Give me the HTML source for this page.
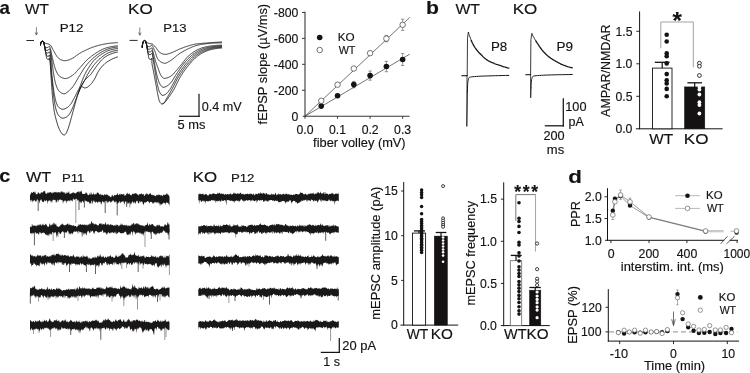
<!DOCTYPE html>
<html lang="en">
<head>
<meta charset="utf-8">
<title>Figure</title>
<style>
html,body{margin:0;padding:0;background:#fff;}
body{width:750px;height:373px;overflow:hidden;}
svg{display:block;font-family:"Liberation Sans",sans-serif;}
svg text{stroke:#151213;stroke-width:0.15px;}
</style>
</head>
<body>
<svg width="750" height="373" viewBox="0 0 750 373">
<rect x="0" y="0" width="750" height="373" fill="#ffffff"/>
<g id="panel-a">
<text x="-0.56" y="13.70" font-size="18.5" font-weight="bold" textLength="10.40" lengthAdjust="spacingAndGlyphs" fill="#151213">a</text>
<text x="24.92" y="13.70" font-size="15" textLength="23.98" lengthAdjust="spacingAndGlyphs" fill="#151213">WT</text>
<text x="59.73" y="31.60" font-size="11.5" textLength="23.72" lengthAdjust="spacingAndGlyphs" fill="#151213">P12</text>
<text x="128.13" y="13.80" font-size="15" textLength="24.72" lengthAdjust="spacingAndGlyphs" fill="#151213">KO</text>
<text x="163.35" y="31.80" font-size="11.5" textLength="23.26" lengthAdjust="spacingAndGlyphs" fill="#151213">P13</text>
<line x1="36.40" y1="27.20" x2="36.40" y2="35.00" stroke="#333" stroke-width="0.6" stroke-linecap="butt"/>
<path d="M35.30,32.70 L36.40,35.00 L37.50,32.70" fill="none" stroke="#333" stroke-width="0.6" stroke-linejoin="round" stroke-linecap="round"/>
<line x1="139.80" y1="27.50" x2="139.80" y2="35.20" stroke="#333" stroke-width="0.6" stroke-linecap="butt"/>
<path d="M138.70,32.90 L139.80,35.20 L140.90,32.90" fill="none" stroke="#333" stroke-width="0.6" stroke-linejoin="round" stroke-linecap="round"/>
<line x1="26.40" y1="40.50" x2="34.00" y2="40.50" stroke="#151213" stroke-width="0.9" stroke-linecap="butt"/>
<line x1="129.50" y1="40.40" x2="137.60" y2="40.40" stroke="#151213" stroke-width="0.9" stroke-linecap="butt"/>
<path d="M40.5,44.8 L40.5,44.4 L40.6,44.0 L40.6,43.6 L40.7,43.3 L40.8,43.0 L40.9,42.7 L41.0,42.4 L41.2,42.1 L41.5,41.8 L41.8,41.5 L42.1,41.4 L42.4,41.3 L42.7,41.4 L43.0,41.6 L43.3,41.9 L43.6,42.2 L43.9,42.4 L44.1,42.6 L44.4,42.8 L44.7,43.0 L45.0,43.2 L45.4,43.3 L45.7,43.4 L46.0,43.5 L46.4,43.5 L46.7,43.6 L47.1,43.7 L47.4,43.7 L47.8,43.8 L48.1,43.9 L48.5,44.1 L48.8,44.2 L49.2,44.3 L49.5,44.5 L49.8,44.7 L50.0,44.8 L50.3,45.0 L50.5,45.3 L50.7,45.5 L50.9,45.8 L51.1,46.1 L51.3,46.4 L51.5,46.7 L51.7,47.0 L51.8,47.3 L52.0,47.7 L52.2,48.0 L52.3,48.4 L52.5,48.7 L52.7,49.0 L52.8,49.4 L53.0,49.7 L53.2,50.0 L53.4,50.3 L53.6,50.6 L53.7,50.9 L53.9,51.2 L54.1,51.6 L54.2,51.9 L54.4,52.2 L54.6,52.5 L54.8,52.8 L54.9,53.2 L55.1,53.5 L55.3,53.8 L55.4,54.1 L55.6,54.4 L55.8,54.7 L56.0,55.0 L56.2,55.3 L56.4,55.6 L56.5,55.9 L56.7,56.2 L57.0,56.5 L57.2,56.7 L57.4,57.0 L57.6,57.2 L57.9,57.5 L58.1,57.8 L58.4,58.0 L58.7,58.3 L58.9,58.5 L59.2,58.7 L59.5,58.9 L59.8,59.2 L60.1,59.4 L60.4,59.5 L60.7,59.7 L61.0,59.8 L61.4,59.9 L61.7,60.1 L62.0,60.2 L62.4,60.3 L62.7,60.4 L63.1,60.5 L63.4,60.6 L63.8,60.6 L64.1,60.7 L64.5,60.7 L64.8,60.7 L65.2,60.7 L65.5,60.6 L65.9,60.6 L66.2,60.5 L66.6,60.5 L66.9,60.4 L67.3,60.3 L67.6,60.2 L68.0,60.2 L68.3,60.1 L68.7,60.0 L69.0,59.9 L69.3,59.8 L69.7,59.6 L70.0,59.5 L70.3,59.3 L70.6,59.2 L71.0,59.0 L71.3,58.9 L71.6,58.7 L71.9,58.5 L72.2,58.4 L72.5,58.2 L72.9,58.1 L73.2,57.9 L73.5,57.7 L73.8,57.5 L74.1,57.3 L74.3,57.1 L74.6,56.9 L74.9,56.7 L75.2,56.5 L75.5,56.3 L75.8,56.1 L76.1,55.9 L76.4,55.6 L76.6,55.4 L76.9,55.2 L77.2,55.0 L77.5,54.8 L77.8,54.6 L78.1,54.4 L78.4,54.2 L78.7,54.0 L79.0,53.8 L79.3,53.6 L79.6,53.4 L79.9,53.2 L80.2,53.0 L80.5,52.9 L80.8,52.7 L81.1,52.5 L81.4,52.3 L81.7,52.2 L82.0,52.0 L82.3,51.8 L82.7,51.7 L83.0,51.5 L83.3,51.4 L83.6,51.2 L83.9,51.0 L84.3,50.9 L84.6,50.7 L84.9,50.6 L85.2,50.4 L85.5,50.3 L85.9,50.1 L86.2,50.0 L86.5,49.8 L86.8,49.7 L87.1,49.5 L87.5,49.4 L87.8,49.2 L88.1,49.1 L88.4,49.0 L88.8,48.8 L89.1,48.7 L89.4,48.5 L89.8,48.4 L90.1,48.3 L90.4,48.1 L90.7,48.0 L91.1,47.9 L91.4,47.7 L91.7,47.6 L92.1,47.5 L92.4,47.3 L92.7,47.2 L93.1,47.1 L93.4,47.0 L93.7,46.9 L94.1,46.7 L94.4,46.6 L94.7,46.5 L95.1,46.4 L95.4,46.3 L95.7,46.2 L96.1,46.1 L96.4,46.0 L96.8,45.9 L97.1,45.8 L97.4,45.7 L97.8,45.6 L98.1,45.5 L98.5,45.4 L98.8,45.4 L99.2,45.3 L99.5,45.2 L99.9,45.1 L100.2,45.0 L100.5,44.9 L100.9,44.8 L101.2,44.8 L101.6,44.7 L101.9,44.6 L102.3,44.5 L102.6,44.5 L103.0,44.4 L103.3,44.3 L103.7,44.2 L104.0,44.2 L104.4,44.1 L104.7,44.0 L105.1,44.0 L105.4,43.9 L105.8,43.8 L106.1,43.8 L106.5,43.7 L106.8,43.6 L107.2,43.6 L107.5,43.5 L107.9,43.5 L108.2,43.4 L108.6,43.4 L108.9,43.3 L109.3,43.3 L109.6,43.3 L110.0,43.2 L110.3,43.2 L110.7,43.1 L111.0,43.1 L111.4,43.1 L111.7,43.0 L112.1,43.0 L112.4,43.0 L112.8,43.0 L113.1,42.9 L113.5,42.9 L113.8,42.9 L114.2,42.8 L114.6,42.8 L114.9,42.8 L115.3,42.8 L115.6,42.8 L116.0,42.7 L116.3,42.7 L116.7,42.7 L117.0,42.7 L117.4,42.7" fill="none" stroke="#1a1718" stroke-width="0.9" stroke-linejoin="round" stroke-linecap="round"/>
<path d="M40.5,44.8 L40.5,44.3 L40.6,43.8 L40.7,43.4 L40.8,43.0 L40.9,42.6 L41.1,42.2 L41.5,41.8 L41.9,41.5 L42.3,41.3 L42.6,41.4 L43.1,41.6 L43.4,42.0 L43.7,42.3 L43.8,42.7 L43.9,43.1 L44.0,43.6 L44.1,44.0 L44.2,44.5 L44.3,45.0 L44.5,45.4 L44.6,45.8 L44.7,46.3 L44.9,46.7 L45.1,47.2 L45.4,47.5 L45.8,47.6 L46.2,47.6 L46.7,47.6 L47.2,47.6 L47.6,47.5 L48.0,47.3 L48.4,46.9 L48.8,46.6 L49.2,46.3 L49.4,46.3 L49.6,46.5 L49.8,46.9 L50.0,47.4 L50.1,48.0 L50.3,48.5 L50.4,49.0 L50.5,49.4 L50.6,49.9 L50.8,50.3 L50.9,50.7 L51.0,51.2 L51.1,51.6 L51.2,52.0 L51.3,52.5 L51.3,52.9 L51.4,53.4 L51.5,53.8 L51.6,54.3 L51.7,54.7 L51.8,55.1 L51.9,55.6 L52.0,56.0 L52.1,56.5 L52.2,56.9 L52.3,57.4 L52.4,57.8 L52.5,58.2 L52.6,58.7 L52.7,59.1 L52.8,59.6 L52.9,60.0 L53.0,60.5 L53.1,60.9 L53.2,61.4 L53.3,61.8 L53.4,62.2 L53.5,62.7 L53.6,63.1 L53.7,63.6 L53.9,64.0 L54.0,64.4 L54.1,64.9 L54.2,65.3 L54.3,65.7 L54.4,66.2 L54.6,66.6 L54.7,67.0 L54.8,67.4 L55.0,67.9 L55.1,68.3 L55.3,68.7 L55.4,69.1 L55.6,69.6 L55.8,70.0 L55.9,70.4 L56.1,70.9 L56.3,71.3 L56.5,71.8 L56.7,72.2 L56.9,72.7 L57.1,73.1 L57.4,73.5 L57.6,73.9 L57.8,74.3 L58.1,74.6 L58.3,75.0 L58.6,75.3 L58.9,75.6 L59.2,75.9 L59.5,76.1 L59.8,76.4 L60.1,76.6 L60.5,76.9 L60.9,77.1 L61.3,77.4 L61.8,77.6 L62.2,77.8 L62.7,78.0 L63.1,78.2 L63.6,78.3 L64.0,78.5 L64.5,78.5 L64.9,78.6 L65.3,78.6 L65.7,78.6 L66.2,78.5 L66.6,78.4 L67.0,78.3 L67.4,78.2 L67.9,78.0 L68.3,77.8 L68.7,77.6 L69.1,77.4 L69.6,77.2 L70.0,76.9 L70.4,76.7 L70.8,76.4 L71.2,76.2 L71.6,75.9 L72.0,75.7 L72.3,75.4 L72.7,75.2 L73.0,75.0 L73.4,74.7 L73.7,74.4 L74.1,74.1 L74.4,73.8 L74.7,73.5 L75.0,73.2 L75.4,72.9 L75.7,72.6 L76.0,72.2 L76.3,71.9 L76.6,71.5 L76.9,71.2 L77.2,70.8 L77.5,70.5 L77.8,70.1 L78.1,69.8 L78.4,69.4 L78.7,69.1 L79.0,68.7 L79.3,68.4 L79.6,68.1 L79.9,67.7 L80.3,67.4 L80.6,67.1 L80.9,66.7 L81.2,66.4 L81.5,66.1 L81.8,65.7 L82.1,65.4 L82.4,65.0 L82.6,64.7 L82.9,64.3 L83.2,64.0 L83.5,63.7 L83.8,63.3 L84.1,63.0 L84.4,62.6 L84.7,62.3 L85.0,62.0 L85.4,61.6 L85.7,61.3 L86.0,61.0 L86.3,60.7 L86.6,60.4 L86.9,60.1 L87.3,59.8 L87.6,59.4 L87.9,59.1 L88.3,58.8 L88.6,58.6 L88.9,58.3 L89.3,58.0 L89.6,57.7 L90.0,57.4 L90.3,57.1 L90.7,56.8 L91.0,56.5 L91.4,56.3 L91.8,56.0 L92.1,55.7 L92.5,55.4 L92.9,55.2 L93.2,54.9 L93.6,54.6 L94.0,54.4 L94.3,54.1 L94.7,53.9 L95.1,53.6 L95.4,53.4 L95.8,53.1 L96.2,52.9 L96.6,52.6 L97.0,52.4 L97.3,52.1 L97.7,51.9 L98.1,51.6 L98.5,51.4 L98.9,51.2 L99.3,50.9 L99.7,50.7 L100.1,50.5 L100.5,50.3 L100.9,50.1 L101.3,49.9 L101.7,49.7 L102.1,49.5 L102.5,49.3 L102.9,49.2 L103.3,49.0 L103.7,48.8 L104.2,48.7 L104.6,48.5 L105.0,48.3 L105.4,48.2 L105.9,48.0 L106.3,47.9 L106.7,47.7 L107.2,47.6 L107.6,47.5 L108.0,47.4 L108.5,47.3 L108.9,47.2 L109.4,47.1 L109.8,47.0 L110.2,46.9 L110.7,46.8 L111.1,46.7 L111.6,46.6 L112.0,46.6 L112.4,46.5 L112.9,46.4 L113.3,46.3 L113.8,46.3 L114.2,46.2 L114.7,46.1 L115.1,46.1 L115.6,46.0 L116.0,46.0 L116.5,46.0 L116.9,45.9 L117.4,45.9" fill="none" stroke="#1a1718" stroke-width="0.9" stroke-linejoin="round" stroke-linecap="round"/>
<path d="M40.5,44.8 L40.5,44.2 L40.6,43.6 L40.7,43.1 L40.9,42.6 L41.1,42.2 L41.6,41.7 L42.1,41.4 L42.5,41.3 L43.0,41.6 L43.4,42.0 L43.7,42.4 L43.9,42.9 L44.0,43.4 L44.1,44.0 L44.3,44.5 L44.4,45.1 L44.5,45.6 L44.6,46.2 L44.6,46.7 L44.7,47.2 L44.8,47.8 L45.0,48.3 L45.1,48.8 L45.3,49.3 L45.6,49.9 L46.0,50.3 L46.4,50.3 L47.0,50.3 L47.6,50.3 L48.1,50.2 L48.5,49.7 L49.0,49.2 L49.3,49.0 L49.6,49.1 L49.8,49.5 L50.1,50.1 L50.3,50.7 L50.5,51.4 L50.6,52.0 L50.7,52.5 L50.8,53.0 L50.9,53.6 L51.0,54.1 L51.1,54.6 L51.2,55.2 L51.3,55.7 L51.3,56.2 L51.4,56.8 L51.4,57.3 L51.5,57.9 L51.6,58.4 L51.6,59.0 L51.7,59.5 L51.8,60.1 L51.8,60.6 L51.9,61.1 L52.0,61.7 L52.0,62.2 L52.1,62.8 L52.2,63.3 L52.3,63.8 L52.3,64.4 L52.4,64.9 L52.5,65.5 L52.5,66.0 L52.6,66.5 L52.7,67.1 L52.8,67.6 L52.8,68.2 L52.9,68.7 L53.0,69.2 L53.0,69.8 L53.1,70.3 L53.2,70.9 L53.3,71.4 L53.3,71.9 L53.4,72.5 L53.5,73.0 L53.6,73.5 L53.7,74.1 L53.8,74.6 L53.9,75.1 L53.9,75.7 L54.0,76.2 L54.1,76.8 L54.2,77.3 L54.3,77.8 L54.4,78.4 L54.5,78.9 L54.6,79.5 L54.7,80.0 L54.8,80.5 L55.0,81.1 L55.1,81.6 L55.2,82.1 L55.3,82.7 L55.5,83.2 L55.6,83.7 L55.8,84.2 L55.9,84.7 L56.1,85.2 L56.3,85.7 L56.5,86.3 L56.7,86.8 L56.9,87.3 L57.1,87.9 L57.4,88.4 L57.6,88.9 L57.9,89.4 L58.2,89.9 L58.5,90.3 L58.8,90.8 L59.1,91.1 L59.5,91.5 L59.8,91.8 L60.2,92.1 L60.7,92.4 L61.2,92.8 L61.7,93.0 L62.3,93.3 L62.8,93.5 L63.3,93.7 L63.8,93.8 L64.3,93.8 L64.8,93.7 L65.3,93.5 L65.8,93.3 L66.3,92.9 L66.7,92.6 L67.2,92.2 L67.6,91.9 L68.1,91.5 L68.5,91.2 L68.9,90.9 L69.3,90.5 L69.7,90.1 L70.1,89.7 L70.5,89.4 L70.9,89.0 L71.3,88.5 L71.6,88.1 L72.0,87.7 L72.3,87.3 L72.6,86.9 L73.0,86.5 L73.3,86.0 L73.6,85.6 L73.9,85.1 L74.2,84.7 L74.5,84.2 L74.8,83.8 L75.1,83.3 L75.4,82.9 L75.6,82.4 L75.9,81.9 L76.2,81.4 L76.5,81.0 L76.7,80.5 L77.0,80.0 L77.3,79.5 L77.5,79.0 L77.8,78.6 L78.1,78.1 L78.3,77.6 L78.6,77.1 L78.9,76.7 L79.2,76.2 L79.5,75.7 L79.8,75.3 L80.1,74.8 L80.4,74.4 L80.6,73.9 L80.9,73.4 L81.2,73.0 L81.5,72.5 L81.8,72.0 L82.1,71.6 L82.4,71.1 L82.7,70.6 L83.0,70.2 L83.2,69.7 L83.5,69.3 L83.8,68.8 L84.1,68.3 L84.4,67.9 L84.7,67.4 L85.1,67.0 L85.4,66.6 L85.7,66.1 L86.0,65.7 L86.3,65.3 L86.7,64.8 L87.0,64.4 L87.3,64.0 L87.7,63.6 L88.1,63.2 L88.4,62.8 L88.8,62.4 L89.2,62.0 L89.5,61.6 L89.9,61.2 L90.3,60.8 L90.7,60.4 L91.1,60.0 L91.5,59.7 L91.9,59.3 L92.3,58.9 L92.7,58.6 L93.1,58.2 L93.5,57.8 L93.9,57.5 L94.3,57.1 L94.8,56.8 L95.2,56.4 L95.6,56.1 L96.0,55.8 L96.5,55.4 L96.9,55.1 L97.3,54.8 L97.8,54.4 L98.2,54.1 L98.7,53.8 L99.1,53.5 L99.6,53.2 L100.0,52.9 L100.5,52.6 L101.0,52.3 L101.4,52.1 L101.9,51.8 L102.4,51.5 L102.8,51.3 L103.3,51.0 L103.8,50.8 L104.3,50.5 L104.8,50.3 L105.3,50.1 L105.8,49.8 L106.3,49.6 L106.8,49.4 L107.3,49.2 L107.8,49.0 L108.3,48.9 L108.9,48.7 L109.4,48.6 L109.9,48.4 L110.4,48.3 L110.9,48.2 L111.5,48.0 L112.0,47.9 L112.5,47.8 L113.0,47.7 L113.6,47.6 L114.1,47.5 L114.7,47.4 L115.2,47.3 L115.7,47.3 L116.3,47.2 L116.8,47.1 L117.4,47.1" fill="none" stroke="#1a1718" stroke-width="0.9" stroke-linejoin="round" stroke-linecap="round"/>
<path d="M40.5,44.8 L40.5,44.1 L40.7,43.4 L40.8,42.8 L41.1,42.3 L41.5,41.7 L42.1,41.4 L42.7,41.4 L43.3,41.8 L43.6,42.3 L43.9,42.8 L44.0,43.5 L44.2,44.1 L44.3,44.8 L44.4,45.4 L44.6,46.1 L44.7,46.7 L44.8,47.4 L44.9,48.0 L45.0,48.6 L45.1,49.3 L45.2,49.9 L45.3,50.5 L45.5,51.2 L45.7,51.8 L46.0,52.4 L46.4,53.0 L47.0,53.0 L47.7,53.0 L48.3,53.0 L48.8,52.4 L49.2,51.8 L49.4,51.8 L49.7,52.1 L49.9,52.7 L50.1,53.4 L50.2,54.2 L50.4,55.0 L50.5,55.8 L50.6,56.4 L50.6,57.1 L50.7,57.7 L50.8,58.3 L50.8,59.0 L50.9,59.6 L50.9,60.3 L51.0,60.9 L51.0,61.6 L51.0,62.2 L51.1,62.9 L51.1,63.5 L51.1,64.2 L51.2,64.8 L51.2,65.5 L51.2,66.1 L51.3,66.8 L51.3,67.4 L51.4,68.1 L51.4,68.7 L51.4,69.3 L51.5,70.0 L51.6,70.6 L51.6,71.3 L51.7,71.9 L51.7,72.6 L51.8,73.2 L51.8,73.9 L51.9,74.5 L51.9,75.2 L52.0,75.8 L52.1,76.4 L52.1,77.1 L52.2,77.7 L52.3,78.4 L52.3,79.0 L52.4,79.7 L52.5,80.3 L52.5,81.0 L52.6,81.6 L52.7,82.2 L52.7,82.9 L52.8,83.5 L52.9,84.2 L53.0,84.8 L53.1,85.5 L53.1,86.1 L53.2,86.7 L53.3,87.4 L53.4,88.0 L53.5,88.7 L53.6,89.3 L53.6,90.0 L53.7,90.6 L53.8,91.3 L53.9,91.9 L54.0,92.6 L54.1,93.2 L54.2,93.8 L54.3,94.5 L54.5,95.1 L54.6,95.8 L54.7,96.4 L54.8,97.0 L55.0,97.7 L55.1,98.3 L55.2,98.9 L55.4,99.5 L55.5,100.1 L55.7,100.8 L55.9,101.4 L56.1,102.1 L56.3,102.7 L56.5,103.4 L56.8,104.0 L57.1,104.7 L57.3,105.3 L57.6,105.8 L58.0,106.3 L58.3,106.8 L58.7,107.2 L59.1,107.6 L59.7,108.0 L60.3,108.4 L60.9,108.8 L61.5,109.1 L62.1,109.2 L62.7,109.3 L63.4,109.2 L64.0,109.1 L64.6,108.9 L65.2,108.6 L65.9,108.3 L66.4,108.0 L67.0,107.7 L67.5,107.4 L68.0,107.0 L68.5,106.5 L69.0,106.1 L69.5,105.6 L69.9,105.1 L70.3,104.6 L70.7,104.1 L71.1,103.6 L71.4,103.1 L71.8,102.5 L72.1,102.0 L72.4,101.4 L72.7,100.8 L73.0,100.2 L73.3,99.7 L73.7,99.1 L74.0,98.5 L74.3,97.9 L74.6,97.4 L74.9,96.8 L75.2,96.2 L75.5,95.6 L75.8,95.1 L76.1,94.5 L76.4,93.9 L76.7,93.3 L76.9,92.7 L77.2,92.2 L77.5,91.6 L77.8,91.0 L78.1,90.4 L78.4,89.8 L78.7,89.3 L79.0,88.7 L79.3,88.1 L79.5,87.5 L79.8,86.9 L80.1,86.4 L80.3,85.8 L80.5,85.1 L80.8,84.5 L81.0,83.9 L81.2,83.3 L81.4,82.7 L81.7,82.1 L81.9,81.5 L82.1,80.9 L82.3,80.3 L82.6,79.7 L82.8,79.1 L83.0,78.5 L83.3,77.9 L83.5,77.3 L83.8,76.7 L84.1,76.1 L84.3,75.5 L84.6,74.9 L84.9,74.3 L85.2,73.7 L85.5,73.2 L85.8,72.6 L86.1,72.0 L86.4,71.4 L86.7,70.9 L87.0,70.3 L87.4,69.8 L87.7,69.2 L88.0,68.7 L88.4,68.1 L88.7,67.6 L89.1,67.0 L89.4,66.5 L89.8,65.9 L90.1,65.4 L90.5,64.8 L90.9,64.3 L91.3,63.8 L91.7,63.2 L92.1,62.7 L92.5,62.2 L92.9,61.7 L93.3,61.2 L93.7,60.7 L94.1,60.3 L94.6,59.8 L95.0,59.4 L95.5,58.9 L96.0,58.5 L96.4,58.0 L96.9,57.6 L97.4,57.2 L97.9,56.8 L98.5,56.4 L99.0,56.0 L99.5,55.6 L100.1,55.2 L100.6,54.9 L101.1,54.5 L101.7,54.1 L102.2,53.8 L102.8,53.5 L103.3,53.1 L103.9,52.8 L104.4,52.5 L105.0,52.1 L105.6,51.8 L106.2,51.5 L106.8,51.2 L107.4,51.0 L108.0,50.7 L108.6,50.5 L109.2,50.3 L109.8,50.1 L110.4,50.0 L111.0,49.8 L111.6,49.6 L112.2,49.5 L112.9,49.3 L113.5,49.2 L114.1,49.0 L114.8,48.9 L115.4,48.8 L116.1,48.7 L116.7,48.7 L117.4,48.6" fill="none" stroke="#1a1718" stroke-width="0.9" stroke-linejoin="round" stroke-linecap="round"/>
<path d="M40.5,44.8 L40.5,44.0 L40.7,43.3 L40.9,42.7 L41.2,42.1 L41.8,41.6 L42.4,41.3 L43.0,41.6 L43.5,42.1 L43.8,42.7 L44.0,43.3 L44.2,44.1 L44.3,44.8 L44.4,45.5 L44.6,46.2 L44.7,46.8 L44.8,47.5 L44.9,48.2 L45.0,48.9 L45.2,49.6 L45.3,50.3 L45.4,51.0 L45.5,51.7 L45.6,52.4 L45.8,53.1 L45.9,53.8 L46.1,54.4 L46.3,55.1 L46.7,55.8 L47.2,56.2 L47.9,56.2 L48.6,56.2 L49.0,55.8 L49.2,55.0 L49.4,55.0 L49.6,55.4 L49.8,56.0 L49.9,56.8 L50.0,57.7 L50.1,58.6 L50.2,59.4 L50.3,60.2 L50.4,60.9 L50.5,61.6 L50.5,62.3 L50.6,63.0 L50.6,63.7 L50.7,64.4 L50.7,65.1 L50.8,65.8 L50.8,66.5 L50.9,67.2 L50.9,67.9 L51.0,68.6 L51.0,69.3 L51.0,69.9 L51.1,70.6 L51.1,71.3 L51.2,72.0 L51.3,72.7 L51.3,73.4 L51.4,74.1 L51.5,74.8 L51.5,75.5 L51.6,76.2 L51.7,76.9 L51.7,77.6 L51.8,78.3 L51.9,79.0 L51.9,79.7 L52.0,80.4 L52.1,81.1 L52.2,81.8 L52.2,82.5 L52.3,83.2 L52.4,83.9 L52.5,84.6 L52.5,85.3 L52.6,86.0 L52.7,86.7 L52.8,87.4 L52.8,88.1 L52.9,88.8 L53.0,89.5 L53.0,90.2 L53.1,90.9 L53.2,91.6 L53.3,92.3 L53.3,93.0 L53.4,93.7 L53.5,94.4 L53.6,95.1 L53.6,95.8 L53.7,96.4 L53.8,97.1 L53.9,97.8 L54.0,98.5 L54.1,99.2 L54.2,99.9 L54.3,100.6 L54.4,101.3 L54.5,102.0 L54.6,102.7 L54.7,103.4 L54.8,104.0 L54.9,104.7 L55.1,105.4 L55.2,106.1 L55.4,106.8 L55.5,107.5 L55.7,108.2 L55.9,109.0 L56.1,109.7 L56.3,110.4 L56.5,111.1 L56.7,111.7 L57.0,112.4 L57.2,113.0 L57.5,113.6 L57.8,114.2 L58.1,114.7 L58.5,115.2 L59.0,115.8 L59.5,116.4 L60.1,116.9 L60.7,117.4 L61.3,117.8 L62.0,118.1 L62.6,118.2 L63.2,118.2 L63.9,118.0 L64.6,117.8 L65.3,117.6 L65.9,117.3 L66.5,117.0 L67.1,116.6 L67.7,116.1 L68.2,115.6 L68.7,115.1 L69.1,114.6 L69.5,114.1 L69.9,113.5 L70.2,112.9 L70.6,112.2 L70.9,111.6 L71.2,111.0 L71.5,110.3 L71.8,109.7 L72.1,109.0 L72.4,108.4 L72.7,107.8 L73.0,107.1 L73.2,106.5 L73.5,105.8 L73.7,105.2 L74.0,104.5 L74.2,103.8 L74.5,103.2 L74.7,102.5 L74.9,101.9 L75.2,101.2 L75.4,100.6 L75.7,99.9 L75.9,99.2 L76.2,98.6 L76.4,97.9 L76.6,97.3 L76.9,96.6 L77.1,96.0 L77.3,95.3 L77.6,94.6 L77.8,94.0 L78.1,93.3 L78.4,92.7 L78.7,92.1 L78.9,91.4 L79.2,90.8 L79.5,90.2 L79.8,89.5 L80.1,88.9 L80.5,88.3 L80.8,87.6 L81.1,87.0 L81.4,86.4 L81.7,85.8 L82.1,85.2 L82.4,84.5 L82.7,83.9 L83.0,83.3 L83.4,82.7 L83.7,82.1 L84.0,81.4 L84.4,80.8 L84.7,80.2 L85.0,79.6 L85.3,79.0 L85.7,78.3 L86.0,77.7 L86.3,77.1 L86.6,76.5 L87.0,75.9 L87.3,75.2 L87.6,74.6 L88.0,74.0 L88.3,73.4 L88.6,72.8 L89.0,72.2 L89.4,71.6 L89.7,71.0 L90.1,70.4 L90.5,69.8 L90.9,69.2 L91.3,68.7 L91.7,68.1 L92.1,67.5 L92.5,66.9 L92.9,66.4 L93.3,65.8 L93.7,65.2 L94.2,64.7 L94.6,64.2 L95.1,63.6 L95.5,63.1 L96.0,62.6 L96.5,62.1 L96.9,61.6 L97.4,61.0 L97.9,60.5 L98.4,60.0 L98.9,59.5 L99.4,59.1 L100.0,58.6 L100.5,58.1 L101.0,57.7 L101.6,57.3 L102.1,56.8 L102.7,56.4 L103.2,56.0 L103.8,55.6 L104.4,55.2 L105.0,54.8 L105.6,54.4 L106.2,54.0 L106.8,53.7 L107.4,53.3 L108.0,53.0 L108.7,52.7 L109.3,52.5 L109.9,52.2 L110.6,52.0 L111.2,51.8 L111.9,51.6 L112.5,51.3 L113.2,51.2 L113.9,51.0 L114.6,50.8 L115.3,50.7 L116.0,50.5 L116.7,50.4 L117.4,50.3" fill="none" stroke="#1a1718" stroke-width="0.9" stroke-linejoin="round" stroke-linecap="round"/>
<path d="M40.5,44.8 L40.6,43.9 L40.7,43.1 L41.0,42.4 L41.5,41.7 L42.3,41.3 L43.0,41.5 L43.6,42.2 L43.9,42.8 L44.1,43.6 L44.2,44.5 L44.4,45.3 L44.6,46.1 L44.7,46.9 L44.8,47.7 L45.0,48.5 L45.1,49.3 L45.2,50.1 L45.4,50.9 L45.5,51.7 L45.7,52.5 L45.8,53.3 L45.9,54.1 L46.1,54.9 L46.2,55.7 L46.3,56.5 L46.5,57.3 L46.7,58.0 L47.1,58.8 L47.7,59.4 L48.6,59.4 L49.3,59.4 L49.3,58.6 L49.3,58.1 L49.4,58.6 L49.6,59.4 L49.8,60.5 L49.9,61.5 L50.0,62.3 L50.1,63.1 L50.2,63.9 L50.3,64.8 L50.3,65.6 L50.4,66.4 L50.5,67.2 L50.5,68.0 L50.6,68.8 L50.6,69.6 L50.7,70.4 L50.7,71.2 L50.8,72.0 L50.8,72.8 L50.8,73.6 L50.9,74.5 L51.0,75.3 L51.0,76.1 L51.1,76.9 L51.1,77.7 L51.2,78.5 L51.2,79.3 L51.3,80.1 L51.3,80.9 L51.4,81.7 L51.4,82.5 L51.5,83.3 L51.5,84.2 L51.6,85.0 L51.7,85.8 L51.7,86.6 L51.8,87.4 L51.8,88.2 L51.9,89.0 L52.0,89.8 L52.0,90.6 L52.1,91.4 L52.1,92.2 L52.2,93.0 L52.3,93.9 L52.3,94.7 L52.4,95.5 L52.5,96.3 L52.5,97.1 L52.6,97.9 L52.7,98.7 L52.8,99.5 L52.8,100.3 L52.9,101.1 L53.0,101.9 L53.1,102.7 L53.2,103.5 L53.3,104.3 L53.4,105.1 L53.5,105.9 L53.6,106.7 L53.7,107.5 L53.8,108.3 L53.9,109.1 L54.0,109.9 L54.1,110.7 L54.3,111.5 L54.4,112.3 L54.6,113.1 L54.7,113.9 L54.9,114.7 L55.1,115.5 L55.3,116.3 L55.5,117.1 L55.7,117.9 L55.9,118.7 L56.1,119.4 L56.3,120.2 L56.5,121.0 L56.7,121.8 L57.0,122.6 L57.2,123.3 L57.4,124.1 L57.7,124.9 L57.9,125.7 L58.2,126.4 L58.5,127.2 L58.8,128.0 L59.1,128.7 L59.4,129.4 L59.8,130.1 L60.1,130.9 L60.5,131.6 L61.0,132.4 L61.4,133.1 L61.9,133.7 L62.5,134.2 L63.2,134.7 L64.0,135.0 L64.7,134.9 L65.4,134.3 L65.9,133.7 L66.4,133.1 L66.7,132.4 L67.0,131.6 L67.3,130.8 L67.6,130.0 L67.9,129.3 L68.2,128.5 L68.4,127.7 L68.7,127.0 L68.9,126.2 L69.2,125.4 L69.4,124.6 L69.6,123.9 L69.8,123.1 L70.1,122.3 L70.3,121.5 L70.5,120.7 L70.7,120.0 L70.9,119.2 L71.2,118.4 L71.4,117.6 L71.6,116.8 L71.8,116.1 L72.0,115.3 L72.2,114.5 L72.4,113.7 L72.6,112.9 L72.8,112.1 L73.1,111.4 L73.3,110.6 L73.5,109.8 L73.7,109.0 L73.9,108.2 L74.1,107.5 L74.3,106.7 L74.5,105.9 L74.8,105.1 L75.0,104.3 L75.2,103.6 L75.4,102.8 L75.6,102.0 L75.8,101.2 L76.1,100.4 L76.3,99.7 L76.5,98.9 L76.8,98.1 L77.0,97.3 L77.2,96.6 L77.5,95.8 L77.7,95.0 L78.0,94.2 L78.2,93.5 L78.5,92.7 L78.8,91.9 L79.0,91.2 L79.3,90.4 L79.6,89.7 L79.9,88.9 L80.2,88.2 L80.5,87.4 L80.9,86.7 L81.2,86.0 L81.6,85.2 L82.0,84.5 L82.4,83.8 L82.8,83.1 L83.2,82.4 L83.7,81.7 L84.1,81.1 L84.6,80.4 L85.1,79.8 L85.7,79.2 L86.2,78.6 L86.8,78.1 L87.4,77.5 L88.0,77.0 L88.6,76.5 L89.3,75.9 L89.8,75.4 L90.4,74.8 L90.9,74.2 L91.4,73.5 L91.9,72.8 L92.3,72.2 L92.8,71.5 L93.3,70.8 L93.7,70.2 L94.2,69.5 L94.7,68.9 L95.1,68.2 L95.6,67.5 L96.1,66.9 L96.5,66.2 L97.0,65.6 L97.5,64.9 L98.0,64.3 L98.5,63.7 L99.0,63.0 L99.6,62.4 L100.1,61.7 L100.6,61.1 L101.1,60.5 L101.7,59.9 L102.3,59.3 L102.8,58.8 L103.4,58.3 L104.1,57.8 L104.7,57.3 L105.4,56.8 L106.1,56.4 L106.8,56.0 L107.5,55.5 L108.2,55.2 L108.9,54.8 L109.7,54.5 L110.4,54.2 L111.1,53.9 L111.9,53.6 L112.6,53.3 L113.4,53.1 L114.2,52.9 L115.0,52.6 L115.8,52.4 L116.6,52.3 L117.4,52.1" fill="none" stroke="#1a1718" stroke-width="0.9" stroke-linejoin="round" stroke-linecap="round"/>
<path d="M78.4,92.9 L78.7,92.1 L79.0,91.4 L79.2,90.6 L79.5,89.8 L79.8,89.0 L80.1,88.3 L80.5,87.6 L81.1,86.9 L81.7,86.6 L82.4,86.9 L83.2,87.3 L83.9,87.7 L84.7,88.0 L85.4,87.9 L86.2,87.7 L87.0,87.3 L87.7,87.0 L88.3,86.5 L89.0,86.0 L89.6,85.5 L90.2,84.9 L90.7,84.3 L91.2,83.7 L91.8,83.1 L92.3,82.5 L92.7,81.8 L93.2,81.1 L93.7,80.5 L94.1,79.8 L94.5,79.1 L94.9,78.4 L95.3,77.7 L95.6,77.0 L96.0,76.2 L96.3,75.5 L96.6,74.8 L97.0,74.0 L97.3,73.3 L97.7,72.6 L98.1,71.9 L98.5,71.2 L98.9,70.5 L99.4,69.9 L99.9,69.2 L100.3,68.5 L100.8,67.9 L101.3,67.3 L101.9,66.6 L102.4,66.0 L102.9,65.5 L103.5,64.9 L104.1,64.4 L104.7,63.8 L105.3,63.3 L105.9,62.8 L106.6,62.3 L107.3,61.8 L107.9,61.4 L108.6,61.0 L109.3,60.5 L110.0,60.2 L110.7,59.8 L111.4,59.4 L112.1,59.1 L112.8,58.7 L113.6,58.4 L114.3,58.1 L115.1,57.8 L115.8,57.5 L116.6,57.2 L117.4,57.0" fill="none" stroke="#1a1718" stroke-width="0.9" stroke-linejoin="round" stroke-linecap="round"/>
<path d="M40.5,44.9 C40.6,42.6 41.4,41.3 42.4,41.3 C43.2,41.3 43.7,42.2 44.1,43.2" fill="none" stroke="#1a1718" stroke-width="1.1" stroke-linejoin="round" stroke-linecap="round"/>
<path d="M142.3,47.2 L142.3,46.8 L142.3,46.4 L142.3,46.1 L142.4,45.7 L142.4,45.3 L142.4,45.0 L142.5,44.6 L142.5,44.3 L142.6,44.0 L142.7,43.6 L142.7,43.3 L142.8,43.0 L142.9,42.7 L143.0,42.3 L143.2,41.9 L143.4,41.5 L143.7,41.2 L143.9,40.9 L144.2,40.7 L144.4,40.5 L144.7,40.5 L144.9,40.7 L145.1,40.9 L145.3,41.3 L145.6,41.6 L145.9,41.8 L146.1,42.0 L146.4,42.2 L146.7,42.4 L147.0,42.6 L147.4,42.8 L147.7,42.9 L148.0,43.1 L148.4,43.2 L148.7,43.3 L149.0,43.4 L149.4,43.5 L149.7,43.5 L150.1,43.6 L150.4,43.6 L150.8,43.7 L151.1,43.8 L151.5,43.8 L151.8,43.9 L152.1,44.0 L152.4,44.2 L152.7,44.3 L153.0,44.5 L153.3,44.8 L153.5,45.0 L153.8,45.3 L154.1,45.5 L154.3,45.8 L154.6,46.0 L154.8,46.3 L155.1,46.6 L155.3,46.8 L155.5,47.1 L155.8,47.4 L156.0,47.6 L156.2,47.9 L156.4,48.2 L156.6,48.5 L156.8,48.8 L157.0,49.1 L157.2,49.5 L157.4,49.8 L157.6,50.1 L157.8,50.4 L158.0,50.6 L158.2,50.9 L158.5,51.2 L158.7,51.4 L158.9,51.7 L159.2,51.9 L159.4,52.1 L159.7,52.3 L160.0,52.5 L160.3,52.7 L160.6,52.9 L160.9,53.1 L161.2,53.3 L161.5,53.5 L161.8,53.7 L162.2,53.8 L162.5,53.9 L162.8,54.0 L163.2,54.1 L163.5,54.2 L163.9,54.2 L164.2,54.2 L164.6,54.3 L164.9,54.3 L165.3,54.3 L165.6,54.3 L166.0,54.3 L166.3,54.3 L166.7,54.3 L167.0,54.2 L167.4,54.1 L167.7,54.0 L168.0,53.9 L168.4,53.8 L168.7,53.7 L169.1,53.6 L169.4,53.5 L169.7,53.4 L170.1,53.2 L170.4,53.1 L170.7,53.0 L171.1,52.9 L171.4,52.8 L171.7,52.7 L172.0,52.5 L172.4,52.4 L172.7,52.3 L173.0,52.1 L173.3,52.0 L173.7,51.8 L174.0,51.7 L174.3,51.5 L174.6,51.4 L174.9,51.2 L175.3,51.1 L175.6,50.9 L175.9,50.8 L176.2,50.6 L176.5,50.5 L176.8,50.3 L177.2,50.2 L177.5,50.0 L177.8,49.9 L178.1,49.7 L178.4,49.6 L178.8,49.4 L179.1,49.3 L179.4,49.1 L179.7,49.0 L180.1,48.9 L180.4,48.7 L180.7,48.6 L181.1,48.5 L181.4,48.4 L181.7,48.2 L182.0,48.1 L182.4,48.0 L182.7,47.8 L183.0,47.7 L183.4,47.6 L183.7,47.5 L184.0,47.3 L184.3,47.2 L184.7,47.1 L185.0,47.0 L185.3,46.9 L185.7,46.7 L186.0,46.6 L186.3,46.5 L186.7,46.4 L187.0,46.3 L187.3,46.2 L187.7,46.1 L188.0,46.0 L188.4,45.9 L188.7,45.8 L189.0,45.7 L189.4,45.6 L189.7,45.5 L190.0,45.4 L190.4,45.3 L190.7,45.2 L191.1,45.1 L191.4,45.0 L191.7,44.9 L192.1,44.8 L192.4,44.7 L192.8,44.7 L193.1,44.6 L193.5,44.5 L193.8,44.4 L194.2,44.3 L194.5,44.3 L194.8,44.2 L195.2,44.1 L195.5,44.1 L195.9,44.0 L196.2,44.0 L196.6,43.9 L196.9,43.9 L197.3,43.8 L197.6,43.8 L198.0,43.8 L198.3,43.7 L198.7,43.7 L199.0,43.7 L199.4,43.6 L199.7,43.6 L200.1,43.5 L200.4,43.5 L200.8,43.5 L201.1,43.5 L201.5,43.4 L201.8,43.4 L202.2,43.4 L202.5,43.3 L202.9,43.3 L203.2,43.3 L203.6,43.2 L203.9,43.2 L204.3,43.2 L204.6,43.2 L205.0,43.1 L205.3,43.1 L205.7,43.1 L206.0,43.0 L206.4,43.0 L206.7,43.0 L207.1,42.9 L207.4,42.9 L207.8,42.9 L208.1,42.9 L208.5,42.8 L208.8,42.8 L209.2,42.8 L209.5,42.7 L209.9,42.7 L210.3,42.7 L210.6,42.7 L211.0,42.6 L211.3,42.6 L211.7,42.6 L212.0,42.6 L212.4,42.5 L212.7,42.5 L213.1,42.5 L213.4,42.5 L213.8,42.4 L214.1,42.4 L214.5,42.4 L214.8,42.4 L215.2,42.4 L215.5,42.3 L215.9,42.3 L216.2,42.3 L216.6,42.3 L216.9,42.2 L217.3,42.2 L217.6,42.2 L218.0,42.2 L218.3,42.2 L218.7,42.1 L219.0,42.1 L219.4,42.1 L219.7,42.1 L220.1,42.1 L220.4,42.1 L220.8,42.0 L221.1,42.0 L221.5,42.0" fill="none" stroke="#1a1718" stroke-width="0.9" stroke-linejoin="round" stroke-linecap="round"/>
<path d="M142.3,47.2 L142.3,46.8 L142.3,46.3 L142.3,45.9 L142.4,45.5 L142.4,45.1 L142.5,44.7 L142.5,44.3 L142.6,43.9 L142.7,43.6 L142.8,43.2 L142.8,42.8 L143.0,42.4 L143.2,42.0 L143.4,41.6 L143.7,41.2 L144.0,40.8 L144.3,40.6 L144.5,40.5 L144.8,40.6 L145.1,40.8 L145.4,41.2 L145.7,41.6 L145.9,41.9 L146.0,42.3 L146.1,42.7 L146.2,43.0 L146.3,43.4 L146.4,43.9 L146.5,44.3 L146.6,44.7 L146.7,45.0 L146.9,45.4 L147.0,45.8 L147.3,46.2 L147.5,46.5 L147.8,46.6 L148.2,46.6 L148.6,46.6 L149.1,46.6 L149.5,46.6 L149.8,46.5 L150.2,46.3 L150.6,46.0 L151.0,45.7 L151.3,45.5 L151.6,45.3 L151.9,45.3 L152.1,45.5 L152.4,45.8 L152.6,46.2 L152.8,46.6 L153.0,47.0 L153.2,47.5 L153.4,47.8 L153.5,48.2 L153.7,48.5 L153.9,48.9 L154.0,49.3 L154.2,49.6 L154.3,50.0 L154.5,50.4 L154.7,50.7 L154.8,51.1 L155.0,51.5 L155.1,51.9 L155.3,52.2 L155.4,52.6 L155.5,53.0 L155.7,53.4 L155.8,53.8 L155.9,54.2 L156.0,54.6 L156.2,55.0 L156.3,55.4 L156.4,55.8 L156.5,56.2 L156.7,56.5 L156.8,56.9 L156.9,57.3 L157.1,57.7 L157.3,58.0 L157.4,58.3 L157.6,58.7 L157.8,59.0 L158.0,59.3 L158.2,59.6 L158.5,59.9 L158.8,60.2 L159.1,60.5 L159.4,60.8 L159.7,61.1 L160.0,61.3 L160.4,61.6 L160.7,61.8 L161.1,62.0 L161.4,62.2 L161.7,62.4 L162.1,62.5 L162.5,62.7 L162.9,62.9 L163.3,63.0 L163.7,63.1 L164.1,63.2 L164.4,63.3 L164.8,63.3 L165.2,63.3 L165.6,63.2 L165.9,63.1 L166.3,63.0 L166.7,62.8 L167.1,62.7 L167.4,62.5 L167.8,62.3 L168.2,62.1 L168.5,61.8 L168.9,61.6 L169.2,61.4 L169.6,61.2 L169.9,61.0 L170.3,60.8 L170.6,60.6 L170.9,60.3 L171.3,60.1 L171.6,59.9 L171.9,59.7 L172.3,59.4 L172.6,59.2 L172.9,59.0 L173.2,58.7 L173.5,58.5 L173.8,58.2 L174.1,58.0 L174.5,57.7 L174.8,57.4 L175.1,57.2 L175.4,56.9 L175.7,56.6 L176.0,56.4 L176.3,56.1 L176.6,55.9 L176.9,55.6 L177.2,55.3 L177.6,55.1 L177.9,54.8 L178.2,54.6 L178.5,54.3 L178.8,54.1 L179.2,53.9 L179.5,53.6 L179.8,53.4 L180.1,53.2 L180.5,53.0 L180.8,52.8 L181.2,52.6 L181.5,52.4 L181.8,52.2 L182.2,52.0 L182.5,51.8 L182.9,51.6 L183.2,51.4 L183.6,51.2 L183.9,51.0 L184.3,50.8 L184.7,50.6 L185.0,50.4 L185.4,50.2 L185.7,50.0 L186.1,49.8 L186.4,49.7 L186.8,49.5 L187.2,49.3 L187.5,49.1 L187.9,49.0 L188.2,48.8 L188.6,48.6 L189.0,48.4 L189.3,48.3 L189.7,48.1 L190.1,47.9 L190.4,47.8 L190.8,47.6 L191.2,47.4 L191.5,47.3 L191.9,47.1 L192.3,46.9 L192.6,46.8 L193.0,46.6 L193.4,46.5 L193.8,46.4 L194.1,46.2 L194.5,46.1 L194.9,46.0 L195.3,45.8 L195.7,45.7 L196.0,45.6 L196.4,45.5 L196.8,45.4 L197.2,45.3 L197.6,45.2 L198.0,45.1 L198.4,45.0 L198.8,44.9 L199.2,44.9 L199.5,44.8 L199.9,44.7 L200.3,44.6 L200.7,44.5 L201.1,44.5 L201.5,44.4 L201.9,44.3 L202.3,44.3 L202.7,44.2 L203.1,44.1 L203.5,44.1 L203.9,44.0 L204.3,44.0 L204.7,43.9 L205.1,43.9 L205.5,43.8 L205.9,43.8 L206.3,43.7 L206.7,43.7 L207.1,43.6 L207.5,43.6 L207.9,43.6 L208.3,43.5 L208.7,43.5 L209.1,43.4 L209.5,43.4 L209.9,43.4 L210.3,43.3 L210.7,43.3 L211.1,43.3 L211.5,43.2 L211.9,43.2 L212.3,43.2 L212.7,43.2 L213.1,43.1 L213.5,43.1 L213.9,43.1 L214.3,43.1 L214.7,43.1 L215.1,43.0 L215.5,43.0 L215.9,43.0 L216.3,43.0 L216.7,43.0 L217.1,42.9 L217.5,42.9 L217.9,42.9 L218.3,42.9 L218.7,42.9 L219.1,42.9 L219.5,42.8 L219.9,42.8 L220.3,42.8 L220.7,42.8 L221.1,42.8 L221.5,42.8" fill="none" stroke="#1a1718" stroke-width="0.9" stroke-linejoin="round" stroke-linecap="round"/>
<path d="M142.3,47.2 L142.3,46.7 L142.3,46.2 L142.4,45.7 L142.4,45.2 L142.5,44.7 L142.6,44.3 L142.6,43.8 L142.7,43.4 L142.8,42.9 L143.0,42.5 L143.2,41.9 L143.5,41.4 L143.8,41.0 L144.2,40.7 L144.5,40.5 L144.8,40.6 L145.2,40.9 L145.6,41.4 L145.8,41.8 L146.0,42.2 L146.1,42.7 L146.2,43.1 L146.3,43.6 L146.4,44.1 L146.5,44.6 L146.6,45.0 L146.7,45.5 L146.8,46.0 L146.9,46.5 L147.0,47.0 L147.1,47.4 L147.2,47.9 L147.4,48.3 L147.7,48.8 L148.0,49.2 L148.4,49.2 L148.9,49.2 L149.4,49.2 L149.9,49.2 L150.3,49.0 L150.8,48.7 L151.2,48.3 L151.6,48.0 L151.8,47.9 L152.0,48.0 L152.2,48.3 L152.3,48.7 L152.5,49.3 L152.6,49.8 L152.7,50.5 L152.8,51.1 L152.9,51.6 L153.0,52.1 L153.2,52.6 L153.3,53.0 L153.4,53.5 L153.5,54.0 L153.7,54.4 L153.8,54.9 L153.9,55.3 L154.0,55.8 L154.2,56.3 L154.3,56.7 L154.4,57.2 L154.5,57.6 L154.7,58.1 L154.8,58.6 L154.9,59.0 L155.0,59.5 L155.2,59.9 L155.3,60.4 L155.5,60.9 L155.6,61.3 L155.7,61.8 L155.9,62.2 L156.0,62.7 L156.2,63.1 L156.4,63.6 L156.5,64.0 L156.7,64.5 L156.8,64.9 L157.0,65.4 L157.2,65.8 L157.3,66.3 L157.5,66.7 L157.7,67.2 L157.9,67.6 L158.0,68.1 L158.2,68.5 L158.4,69.0 L158.5,69.4 L158.7,69.9 L158.8,70.3 L159.0,70.8 L159.2,71.3 L159.3,71.7 L159.5,72.2 L159.6,72.7 L159.8,73.1 L160.0,73.6 L160.2,74.0 L160.4,74.4 L160.6,74.8 L160.8,75.2 L161.1,75.6 L161.3,76.0 L161.6,76.4 L162.0,76.8 L162.3,77.3 L162.7,77.6 L163.1,78.0 L163.5,78.2 L163.9,78.4 L164.3,78.4 L164.7,78.4 L165.2,78.3 L165.7,78.2 L166.1,78.1 L166.6,78.0 L167.1,77.9 L167.6,77.7 L168.0,77.6 L168.5,77.4 L168.9,77.2 L169.4,77.0 L169.8,76.8 L170.2,76.5 L170.6,76.3 L171.0,76.0 L171.4,75.7 L171.8,75.5 L172.1,75.2 L172.5,74.9 L172.8,74.5 L173.2,74.2 L173.5,73.8 L173.8,73.5 L174.1,73.1 L174.4,72.7 L174.8,72.4 L175.1,72.0 L175.4,71.6 L175.7,71.3 L176.0,70.9 L176.3,70.6 L176.7,70.2 L177.0,69.8 L177.3,69.5 L177.6,69.1 L177.9,68.7 L178.2,68.4 L178.5,68.0 L178.8,67.6 L179.1,67.3 L179.4,66.9 L179.7,66.5 L180.0,66.2 L180.3,65.8 L180.6,65.4 L181.0,65.1 L181.3,64.7 L181.6,64.3 L181.9,63.9 L182.2,63.6 L182.5,63.2 L182.7,62.8 L183.0,62.4 L183.3,62.0 L183.6,61.6 L183.9,61.3 L184.2,60.9 L184.5,60.5 L184.8,60.1 L185.1,59.7 L185.4,59.4 L185.7,59.0 L186.0,58.6 L186.3,58.3 L186.6,57.9 L186.9,57.6 L187.3,57.2 L187.6,56.9 L187.9,56.6 L188.3,56.2 L188.6,55.9 L189.0,55.6 L189.3,55.3 L189.7,55.0 L190.1,54.7 L190.4,54.3 L190.8,54.0 L191.2,53.7 L191.6,53.4 L192.0,53.1 L192.4,52.9 L192.8,52.6 L193.1,52.3 L193.5,52.0 L194.0,51.8 L194.4,51.5 L194.8,51.3 L195.2,51.0 L195.6,50.8 L196.0,50.6 L196.4,50.3 L196.8,50.1 L197.2,49.9 L197.7,49.7 L198.1,49.5 L198.5,49.3 L199.0,49.1 L199.4,48.9 L199.9,48.7 L200.3,48.5 L200.8,48.4 L201.2,48.2 L201.7,48.0 L202.1,47.9 L202.6,47.7 L203.1,47.6 L203.5,47.5 L204.0,47.3 L204.4,47.2 L204.9,47.1 L205.4,47.0 L205.8,46.9 L206.3,46.8 L206.8,46.7 L207.2,46.6 L207.7,46.5 L208.2,46.4 L208.6,46.3 L209.1,46.2 L209.6,46.1 L210.1,46.1 L210.5,46.0 L211.0,45.9 L211.5,45.9 L212.0,45.8 L212.4,45.8 L212.9,45.7 L213.4,45.7 L213.9,45.6 L214.3,45.6 L214.8,45.6 L215.3,45.5 L215.8,45.5 L216.2,45.4 L216.7,45.4 L217.2,45.4 L217.7,45.3 L218.1,45.3 L218.6,45.3 L219.1,45.3 L219.6,45.2 L220.1,45.2 L220.5,45.2 L221.0,45.2 L221.5,45.2" fill="none" stroke="#1a1718" stroke-width="0.9" stroke-linejoin="round" stroke-linecap="round"/>
<path d="M142.3,47.2 L142.3,46.6 L142.3,46.1 L142.4,45.5 L142.4,45.0 L142.5,44.5 L142.6,43.9 L142.7,43.5 L142.8,43.0 L143.0,42.4 L143.3,41.9 L143.6,41.3 L144.0,40.9 L144.3,40.6 L144.7,40.5 L145.1,40.8 L145.5,41.3 L145.8,41.8 L146.0,42.2 L146.1,42.7 L146.3,43.2 L146.4,43.8 L146.5,44.3 L146.6,44.9 L146.7,45.4 L146.8,45.9 L146.9,46.4 L147.0,47.0 L147.0,47.5 L147.1,48.0 L147.2,48.5 L147.3,49.1 L147.4,49.6 L147.5,50.1 L147.7,50.6 L147.9,51.1 L148.2,51.7 L148.6,51.9 L149.1,51.9 L149.7,51.9 L150.2,51.9 L150.7,51.7 L151.2,51.2 L151.6,50.8 L151.8,50.6 L152.0,50.7 L152.2,51.0 L152.3,51.3 L152.5,51.8 L152.6,52.4 L152.7,53.0 L152.8,53.6 L152.9,54.3 L153.0,55.0 L153.1,55.7 L153.2,56.3 L153.3,56.9 L153.4,57.4 L153.5,57.9 L153.6,58.5 L153.7,59.0 L153.8,59.5 L153.9,60.0 L154.0,60.5 L154.1,61.1 L154.2,61.6 L154.3,62.1 L154.4,62.6 L154.5,63.2 L154.6,63.7 L154.7,64.2 L154.8,64.7 L154.9,65.3 L155.0,65.8 L155.1,66.3 L155.2,66.8 L155.3,67.4 L155.4,67.9 L155.5,68.4 L155.6,68.9 L155.7,69.4 L155.8,70.0 L155.9,70.5 L156.0,71.0 L156.1,71.5 L156.2,72.0 L156.4,72.6 L156.5,73.1 L156.6,73.6 L156.7,74.1 L156.8,74.7 L157.0,75.2 L157.1,75.7 L157.2,76.2 L157.3,76.7 L157.5,77.2 L157.6,77.8 L157.8,78.3 L157.9,78.8 L158.1,79.3 L158.2,79.8 L158.4,80.3 L158.6,80.8 L158.7,81.3 L158.9,81.8 L159.1,82.3 L159.3,82.9 L159.6,83.4 L159.8,83.8 L160.0,84.3 L160.3,84.7 L160.6,85.1 L160.9,85.5 L161.3,86.0 L161.7,86.4 L162.2,86.8 L162.6,87.1 L163.1,87.3 L163.6,87.3 L164.0,87.2 L164.6,87.1 L165.1,86.9 L165.6,86.7 L166.1,86.5 L166.6,86.2 L167.1,86.0 L167.5,85.7 L167.9,85.4 L168.4,85.1 L168.8,84.8 L169.2,84.4 L169.6,84.0 L170.0,83.6 L170.4,83.2 L170.7,82.8 L171.1,82.4 L171.4,82.0 L171.7,81.6 L172.0,81.2 L172.3,80.7 L172.6,80.3 L172.9,79.8 L173.1,79.4 L173.4,78.9 L173.7,78.4 L174.0,78.0 L174.2,77.5 L174.5,77.1 L174.8,76.6 L175.1,76.2 L175.4,75.7 L175.7,75.3 L176.0,74.8 L176.3,74.4 L176.5,73.9 L176.8,73.5 L177.1,73.0 L177.4,72.6 L177.7,72.1 L178.0,71.7 L178.3,71.2 L178.6,70.8 L178.9,70.4 L179.2,69.9 L179.5,69.5 L179.8,69.0 L180.1,68.6 L180.4,68.2 L180.7,67.7 L181.0,67.3 L181.3,66.9 L181.6,66.5 L181.9,66.0 L182.3,65.6 L182.6,65.2 L182.9,64.8 L183.3,64.3 L183.6,63.9 L183.9,63.5 L184.3,63.1 L184.6,62.7 L184.9,62.3 L185.3,61.8 L185.6,61.4 L186.0,61.0 L186.3,60.6 L186.7,60.3 L187.1,59.9 L187.4,59.5 L187.8,59.1 L188.2,58.7 L188.5,58.4 L188.9,58.0 L189.3,57.6 L189.7,57.3 L190.1,56.9 L190.5,56.5 L190.9,56.2 L191.3,55.8 L191.7,55.4 L192.1,55.1 L192.5,54.8 L192.9,54.4 L193.4,54.1 L193.8,53.8 L194.2,53.5 L194.6,53.1 L195.1,52.8 L195.5,52.6 L196.0,52.3 L196.4,52.0 L196.9,51.8 L197.3,51.5 L197.8,51.2 L198.3,51.0 L198.7,50.7 L199.2,50.5 L199.7,50.2 L200.2,50.0 L200.7,49.8 L201.2,49.6 L201.7,49.4 L202.2,49.2 L202.7,49.0 L203.2,48.8 L203.7,48.6 L204.2,48.5 L204.7,48.3 L205.2,48.2 L205.7,48.0 L206.2,47.9 L206.7,47.8 L207.2,47.6 L207.8,47.5 L208.3,47.4 L208.8,47.3 L209.3,47.2 L209.9,47.1 L210.4,47.0 L210.9,46.9 L211.4,46.8 L212.0,46.7 L212.5,46.7 L213.0,46.6 L213.5,46.5 L214.1,46.5 L214.6,46.4 L215.1,46.4 L215.6,46.3 L216.2,46.2 L216.7,46.2 L217.2,46.1 L217.8,46.1 L218.3,46.1 L218.8,46.0 L219.4,46.0 L219.9,46.0 L220.4,45.9 L221.0,45.9 L221.5,45.9" fill="none" stroke="#1a1718" stroke-width="0.9" stroke-linejoin="round" stroke-linecap="round"/>
<path d="M142.3,47.2 L142.3,46.6 L142.3,46.0 L142.4,45.4 L142.5,44.8 L142.6,44.2 L142.7,43.7 L142.8,43.1 L142.9,42.6 L143.2,42.0 L143.6,41.4 L144.0,40.9 L144.4,40.5 L144.8,40.5 L145.2,40.9 L145.6,41.5 L145.9,42.0 L146.1,42.5 L146.2,43.1 L146.4,43.7 L146.5,44.2 L146.6,44.8 L146.7,45.4 L146.8,46.0 L146.9,46.6 L147.0,47.1 L147.1,47.7 L147.2,48.3 L147.3,48.9 L147.4,49.4 L147.5,50.0 L147.5,50.6 L147.6,51.2 L147.7,51.8 L147.8,52.3 L147.9,52.9 L148.2,53.4 L148.5,54.0 L148.8,54.5 L149.3,54.6 L149.9,54.6 L150.5,54.6 L151.0,54.4 L151.4,53.8 L151.7,53.3 L151.9,53.3 L152.1,53.6 L152.3,53.9 L152.4,54.4 L152.5,55.0 L152.6,55.7 L152.7,56.4 L152.8,57.2 L152.9,57.9 L153.0,58.7 L153.1,59.4 L153.2,60.0 L153.3,60.6 L153.4,61.1 L153.5,61.7 L153.6,62.3 L153.7,62.8 L153.8,63.4 L153.9,64.0 L154.0,64.6 L154.1,65.1 L154.2,65.7 L154.3,66.3 L154.4,66.9 L154.5,67.4 L154.5,68.0 L154.6,68.6 L154.7,69.2 L154.8,69.7 L154.9,70.3 L155.0,70.9 L155.1,71.5 L155.2,72.0 L155.3,72.6 L155.4,73.2 L155.5,73.8 L155.6,74.3 L155.7,74.9 L155.8,75.5 L155.9,76.1 L156.0,76.6 L156.0,77.2 L156.1,77.8 L156.2,78.4 L156.3,79.0 L156.4,79.5 L156.5,80.1 L156.6,80.7 L156.7,81.3 L156.8,81.8 L156.9,82.4 L157.0,83.0 L157.2,83.5 L157.3,84.1 L157.4,84.7 L157.5,85.2 L157.7,85.8 L157.8,86.4 L157.9,86.9 L158.1,87.5 L158.2,88.1 L158.4,88.7 L158.5,89.3 L158.7,89.8 L158.9,90.4 L159.1,90.9 L159.3,91.5 L159.5,92.0 L159.8,92.5 L160.1,93.0 L160.4,93.5 L160.8,94.0 L161.2,94.6 L161.7,95.0 L162.2,95.3 L162.6,95.4 L163.1,95.4 L163.7,95.2 L164.2,95.0 L164.8,94.7 L165.4,94.4 L165.9,94.1 L166.3,93.8 L166.7,93.4 L167.2,93.0 L167.6,92.6 L167.9,92.1 L168.3,91.7 L168.7,91.2 L169.0,90.7 L169.4,90.2 L169.7,89.7 L170.0,89.2 L170.3,88.8 L170.6,88.3 L170.9,87.8 L171.2,87.3 L171.5,86.7 L171.8,86.2 L172.1,85.7 L172.3,85.2 L172.6,84.7 L172.9,84.2 L173.2,83.7 L173.5,83.2 L173.7,82.6 L174.0,82.1 L174.3,81.6 L174.5,81.1 L174.8,80.6 L175.1,80.0 L175.3,79.5 L175.6,79.0 L175.9,78.5 L176.1,78.0 L176.4,77.5 L176.7,77.0 L177.0,76.5 L177.3,76.0 L177.6,75.5 L177.9,75.0 L178.2,74.5 L178.5,74.0 L178.8,73.5 L179.2,73.0 L179.5,72.5 L179.8,72.0 L180.1,71.6 L180.5,71.1 L180.8,70.6 L181.1,70.1 L181.5,69.6 L181.8,69.2 L182.1,68.7 L182.5,68.2 L182.8,67.8 L183.2,67.3 L183.5,66.8 L183.9,66.4 L184.2,65.9 L184.6,65.4 L184.9,65.0 L185.3,64.5 L185.7,64.0 L186.0,63.6 L186.4,63.1 L186.8,62.7 L187.1,62.2 L187.5,61.8 L187.9,61.4 L188.3,61.0 L188.7,60.5 L189.1,60.1 L189.5,59.7 L189.9,59.3 L190.3,58.8 L190.8,58.4 L191.2,58.0 L191.6,57.6 L192.0,57.2 L192.5,56.8 L192.9,56.4 L193.3,56.0 L193.8,55.7 L194.2,55.3 L194.7,54.9 L195.1,54.6 L195.6,54.2 L196.1,53.9 L196.6,53.6 L197.0,53.3 L197.5,53.0 L198.0,52.7 L198.5,52.4 L199.0,52.1 L199.5,51.8 L200.1,51.5 L200.6,51.2 L201.1,51.0 L201.7,50.7 L202.2,50.5 L202.7,50.2 L203.3,50.0 L203.8,49.8 L204.3,49.6 L204.9,49.4 L205.4,49.3 L206.0,49.1 L206.5,48.9 L207.1,48.7 L207.7,48.6 L208.2,48.4 L208.8,48.3 L209.4,48.1 L209.9,48.0 L210.5,47.9 L211.1,47.8 L211.7,47.7 L212.2,47.6 L212.8,47.5 L213.4,47.4 L214.0,47.3 L214.5,47.3 L215.1,47.2 L215.7,47.1 L216.3,47.0 L216.8,47.0 L217.4,46.9 L218.0,46.8 L218.6,46.8 L219.2,46.7 L219.7,46.7 L220.3,46.7 L220.9,46.6 L221.5,46.6" fill="none" stroke="#1a1718" stroke-width="0.9" stroke-linejoin="round" stroke-linecap="round"/>
<path d="M162.8,103.7 L163.4,103.4 L164.0,102.9 L164.4,102.5 L164.8,102.0 L165.1,101.4 L165.4,100.9 L165.7,100.3 L166.0,99.7 L166.3,99.1 L166.6,98.6 L166.9,98.0 L167.2,97.5 L167.6,96.9 L167.9,96.4 L168.2,95.8 L168.5,95.3 L168.9,94.7 L169.2,94.2 L169.5,93.6 L169.8,93.1 L170.2,92.5 L170.5,92.0 L170.8,91.4 L171.1,90.9 L171.4,90.3 L171.7,89.8 L172.0,89.2 L172.3,88.6 L172.6,88.1 L172.9,87.5 L173.2,86.9 L173.5,86.4 L173.8,85.8 L174.1,85.2 L174.4,84.7 L174.6,84.1 L174.9,83.5 L175.2,82.9 L175.5,82.4 L175.8,81.8 L176.1,81.2 L176.4,80.7 L176.7,80.1 L176.9,79.5 L177.3,79.0 L177.6,78.4 L177.9,77.9 L178.2,77.3 L178.5,76.8 L178.8,76.2 L179.2,75.7 L179.5,75.2 L179.9,74.6 L180.2,74.1 L180.5,73.6 L180.9,73.0 L181.3,72.5 L181.6,72.0 L182.0,71.5 L182.4,70.9 L182.7,70.4 L183.1,69.9 L183.5,69.4 L183.9,68.9 L184.2,68.4 L184.6,67.8 L185.0,67.3 L185.4,66.8 L185.8,66.3 L186.2,65.8 L186.6,65.3 L187.0,64.9 L187.4,64.4 L187.8,63.9 L188.2,63.4 L188.7,62.9 L189.1,62.5 L189.5,62.0 L190.0,61.5 L190.4,61.0 L190.8,60.6 L191.3,60.1 L191.7,59.6 L192.1,59.2 L192.6,58.7 L193.1,58.2 L193.5,57.8 L194.0,57.4 L194.4,56.9 L194.9,56.5 L195.4,56.1 L195.9,55.8 L196.4,55.4 L196.9,55.0 L197.4,54.6 L197.9,54.3 L198.5,53.9 L199.0,53.6 L199.6,53.2 L200.1,52.9 L200.7,52.6 L201.2,52.3 L201.8,52.0 L202.4,51.7 L203.0,51.4 L203.5,51.1 L204.1,50.9 L204.7,50.7 L205.3,50.4 L205.9,50.2 L206.5,50.0 L207.1,49.8 L207.7,49.6 L208.3,49.4 L208.9,49.2 L209.5,49.0 L210.2,48.8 L210.8,48.7 L211.4,48.6 L212.0,48.4 L212.6,48.3 L213.3,48.2 L213.9,48.1 L214.5,48.0 L215.1,47.9 L215.8,47.8 L216.4,47.7 L217.0,47.7 L217.7,47.6 L218.3,47.5 L218.9,47.4 L219.6,47.4 L220.2,47.4 L220.9,47.3 L221.5,47.3" fill="none" stroke="#1a1718" stroke-width="0.9" stroke-linejoin="round" stroke-linecap="round"/>
<path d="M142.3,47.2 L142.3,46.5 L142.4,45.9 L142.4,45.2 L142.5,44.6 L142.6,44.0 L142.7,43.4 L142.8,42.8 L143.1,42.2 L143.5,41.5 L143.9,40.9 L144.4,40.6 L144.8,40.6 L145.3,41.0 L145.7,41.6 L145.9,42.1 L146.1,42.7 L146.3,43.3 L146.4,44.0 L146.6,44.6 L146.7,45.3 L146.8,45.9 L146.9,46.5 L147.0,47.1 L147.1,47.8 L147.2,48.4 L147.3,49.0 L147.4,49.6 L147.5,50.2 L147.6,50.9 L147.7,51.5 L147.8,52.1 L147.9,52.7 L148.0,53.4 L148.1,54.0 L148.2,54.6 L148.3,55.2 L148.4,55.9 L148.5,56.5 L148.6,57.1 L148.8,57.8 L149.0,58.3 L149.3,59.0 L149.7,59.4 L150.4,59.4 L151.1,59.4 L151.5,59.3 L151.7,58.5 L151.8,58.1 L151.8,58.4 L151.8,58.9 L151.9,59.6 L151.9,60.5 L151.9,61.3 L151.9,62.0 L151.9,62.6 L152.0,63.3 L152.1,63.9 L152.1,64.5 L152.2,65.1 L152.3,65.8 L152.5,66.4 L152.6,67.0 L152.7,67.6 L152.8,68.2 L153.0,68.9 L153.1,69.5 L153.2,70.1 L153.4,70.7 L153.5,71.3 L153.6,72.0 L153.7,72.6 L153.8,73.2 L153.9,73.8 L154.1,74.5 L154.2,75.1 L154.3,75.7 L154.4,76.3 L154.5,76.9 L154.6,77.6 L154.8,78.2 L154.9,78.8 L155.0,79.4 L155.1,80.0 L155.2,80.7 L155.4,81.3 L155.5,81.9 L155.6,82.5 L155.7,83.2 L155.8,83.8 L155.9,84.4 L156.1,85.0 L156.2,85.6 L156.3,86.3 L156.4,86.9 L156.5,87.5 L156.6,88.1 L156.7,88.8 L156.8,89.4 L156.9,90.0 L157.1,90.6 L157.2,91.2 L157.3,91.9 L157.4,92.5 L157.5,93.1 L157.6,93.7 L157.8,94.3 L157.9,95.0 L158.0,95.6 L158.2,96.2 L158.3,96.8 L158.4,97.5 L158.6,98.1 L158.7,98.8 L158.8,99.4 L159.0,100.0 L159.2,100.6 L159.4,101.1 L159.7,101.7 L160.0,102.3 L160.5,102.9 L160.9,103.4 L161.4,103.8 L161.9,104.0 L162.4,103.9 L163.0,103.7 L163.6,103.3 L164.2,102.9 L164.7,102.5 L165.1,102.1 L165.5,101.6 L165.9,101.1 L166.3,100.6 L166.7,100.1 L167.0,99.6 L167.4,99.0 L167.8,98.5 L168.2,98.0 L168.5,97.5 L168.9,97.0 L169.3,96.5 L169.6,96.0 L170.0,95.4 L170.4,94.9 L170.7,94.4 L171.1,93.9 L171.4,93.3 L171.8,92.8 L172.1,92.3 L172.4,91.8 L172.8,91.2 L173.1,90.7 L173.4,90.1 L173.8,89.6 L174.1,89.1 L174.4,88.5 L174.7,87.9 L175.0,87.4 L175.3,86.8 L175.5,86.3 L175.8,85.7 L176.1,85.1 L176.4,84.5 L176.7,84.0 L176.9,83.4 L177.2,82.8 L177.5,82.3 L177.8,81.7 L178.1,81.1 L178.3,80.6 L178.6,80.0 L178.9,79.4 L179.2,78.9 L179.5,78.3 L179.8,77.8 L180.1,77.2 L180.5,76.7 L180.8,76.2 L181.1,75.6 L181.5,75.1 L181.8,74.6 L182.1,74.0 L182.5,73.5 L182.8,73.0 L183.2,72.4 L183.6,71.9 L183.9,71.4 L184.3,70.9 L184.7,70.4 L185.0,69.9 L185.4,69.3 L185.8,68.8 L186.2,68.3 L186.6,67.8 L186.9,67.3 L187.3,66.8 L187.7,66.3 L188.1,65.9 L188.5,65.4 L188.9,64.9 L189.3,64.4 L189.7,63.9 L190.1,63.4 L190.6,62.9 L191.0,62.4 L191.4,61.9 L191.8,61.5 L192.2,61.0 L192.7,60.5 L193.1,60.1 L193.6,59.6 L194.0,59.2 L194.5,58.7 L194.9,58.3 L195.4,57.9 L195.9,57.5 L196.3,57.1 L196.8,56.7 L197.3,56.3 L197.8,55.9 L198.3,55.6 L198.9,55.2 L199.4,54.8 L199.9,54.5 L200.5,54.1 L201.0,53.8 L201.5,53.4 L202.1,53.1 L202.7,52.8 L203.2,52.5 L203.8,52.3 L204.3,52.0 L204.9,51.7 L205.5,51.5 L206.1,51.2 L206.7,51.0 L207.2,50.8 L207.8,50.6 L208.4,50.3 L209.1,50.1 L209.7,49.9 L210.3,49.8 L210.9,49.6 L211.5,49.5 L212.1,49.3 L212.7,49.2 L213.3,49.1 L214.0,49.0 L214.6,48.8 L215.2,48.7 L215.8,48.6 L216.4,48.5 L217.1,48.4 L217.7,48.3 L218.3,48.3 L219.0,48.2 L219.6,48.1 L220.2,48.1 L220.9,48.0 L221.5,48.0" fill="none" stroke="#1a1718" stroke-width="0.9" stroke-linejoin="round" stroke-linecap="round"/>
<path d="M142.3,47.3 C142.4,43.4 143.3,40.5 144.6,40.5 C145.5,40.5 146.0,42.0 146.5,43.6" fill="none" stroke="#1a1718" stroke-width="1.1" stroke-linejoin="round" stroke-linecap="round"/>
<line x1="199.00" y1="93.80" x2="199.00" y2="116.90" stroke="#151213" stroke-width="1.2" stroke-linecap="butt"/>
<line x1="179.10" y1="116.30" x2="199.60" y2="116.30" stroke="#151213" stroke-width="1.2" stroke-linecap="butt"/>
<text x="201.69" y="110.50" font-size="12" textLength="40.01" lengthAdjust="spacingAndGlyphs" fill="#151213">0.4 mV</text>
<text x="177.49" y="129.30" font-size="12" textLength="27.89" lengthAdjust="spacingAndGlyphs" fill="#151213">5 ms</text>
<line x1="305.00" y1="11.80" x2="305.00" y2="116.80" stroke="#3a3637" stroke-width="1.1" stroke-linecap="butt"/>
<line x1="302.60" y1="116.20" x2="409.60" y2="116.20" stroke="#3a3637" stroke-width="1.1" stroke-linecap="butt"/>
<line x1="302.00" y1="12.44" x2="305.00" y2="12.44" stroke="#3a3637" stroke-width="1.0" stroke-linecap="butt"/>
<text x="273.85" y="16.74" font-size="12" textLength="24.50" lengthAdjust="spacingAndGlyphs" fill="#151213">-800</text>
<line x1="302.00" y1="38.38" x2="305.00" y2="38.38" stroke="#3a3637" stroke-width="1.0" stroke-linecap="butt"/>
<text x="273.85" y="42.68" font-size="12" textLength="24.50" lengthAdjust="spacingAndGlyphs" fill="#151213">-600</text>
<line x1="302.00" y1="64.32" x2="305.00" y2="64.32" stroke="#3a3637" stroke-width="1.0" stroke-linecap="butt"/>
<text x="273.85" y="68.62" font-size="12" textLength="24.50" lengthAdjust="spacingAndGlyphs" fill="#151213">-400</text>
<line x1="302.00" y1="90.26" x2="305.00" y2="90.26" stroke="#3a3637" stroke-width="1.0" stroke-linecap="butt"/>
<text x="273.85" y="94.56" font-size="12" textLength="24.50" lengthAdjust="spacingAndGlyphs" fill="#151213">-200</text>
<text x="291.54" y="120.50" font-size="12" textLength="6.81" lengthAdjust="spacingAndGlyphs" fill="#151213">0</text>
<line x1="305.00" y1="116.20" x2="305.00" y2="118.80" stroke="#3a3637" stroke-width="1.0" stroke-linecap="butt"/>
<text x="296.46" y="134.30" font-size="12" textLength="17.02" lengthAdjust="spacingAndGlyphs" fill="#151213">0.0</text>
<line x1="337.55" y1="116.20" x2="337.55" y2="118.80" stroke="#3a3637" stroke-width="1.0" stroke-linecap="butt"/>
<text x="329.07" y="134.30" font-size="12" textLength="17.02" lengthAdjust="spacingAndGlyphs" fill="#151213">0.1</text>
<line x1="370.10" y1="116.20" x2="370.10" y2="118.80" stroke="#3a3637" stroke-width="1.0" stroke-linecap="butt"/>
<text x="361.65" y="134.30" font-size="12" textLength="17.02" lengthAdjust="spacingAndGlyphs" fill="#151213">0.2</text>
<line x1="402.65" y1="116.20" x2="402.65" y2="118.80" stroke="#3a3637" stroke-width="1.0" stroke-linecap="butt"/>
<text x="394.14" y="134.30" font-size="12" textLength="17.02" lengthAdjust="spacingAndGlyphs" fill="#151213">0.3</text>
<text transform="translate(267.40,124.20) rotate(-90)" x="-0.19" y="0" font-size="12" textLength="120.52" lengthAdjust="spacingAndGlyphs" fill="#151213">fEPSP slope (µV/ms)</text>
<text x="313.11" y="146.70" font-size="12" textLength="92.51" lengthAdjust="spacingAndGlyphs" fill="#151213">fiber volley (mV)</text>
<line x1="305.00" y1="116.20" x2="409.80" y2="17.40" stroke="#3a3637" stroke-width="0.7" stroke-linecap="butt"/>
<line x1="305.00" y1="116.20" x2="409.80" y2="54.10" stroke="#3a3637" stroke-width="0.7" stroke-linecap="butt"/>
<circle cx="321.27" cy="106.10" r="2.8" fill="#151213"/>
<circle cx="337.55" cy="95.70" r="2.8" fill="#151213"/>
<line x1="353.82" y1="81.40" x2="353.82" y2="87.80" stroke="#555" stroke-width="0.6" stroke-linecap="butt"/>
<line x1="352.12" y1="81.40" x2="355.52" y2="81.40" stroke="#555" stroke-width="0.6" stroke-linecap="butt"/>
<line x1="352.12" y1="87.80" x2="355.52" y2="87.80" stroke="#555" stroke-width="0.6" stroke-linecap="butt"/>
<circle cx="353.82" cy="84.60" r="2.8" fill="#151213"/>
<line x1="370.10" y1="71.00" x2="370.10" y2="80.20" stroke="#555" stroke-width="0.6" stroke-linecap="butt"/>
<line x1="368.40" y1="71.00" x2="371.80" y2="71.00" stroke="#555" stroke-width="0.6" stroke-linecap="butt"/>
<line x1="368.40" y1="80.20" x2="371.80" y2="80.20" stroke="#555" stroke-width="0.6" stroke-linecap="butt"/>
<circle cx="370.10" cy="75.60" r="2.8" fill="#151213"/>
<line x1="386.38" y1="61.30" x2="386.38" y2="71.70" stroke="#555" stroke-width="0.6" stroke-linecap="butt"/>
<line x1="384.68" y1="61.30" x2="388.07" y2="61.30" stroke="#555" stroke-width="0.6" stroke-linecap="butt"/>
<line x1="384.68" y1="71.70" x2="388.07" y2="71.70" stroke="#555" stroke-width="0.6" stroke-linecap="butt"/>
<circle cx="386.38" cy="66.50" r="2.8" fill="#151213"/>
<line x1="402.65" y1="53.50" x2="402.65" y2="65.50" stroke="#555" stroke-width="0.6" stroke-linecap="butt"/>
<line x1="400.95" y1="53.50" x2="404.35" y2="53.50" stroke="#555" stroke-width="0.6" stroke-linecap="butt"/>
<line x1="400.95" y1="65.50" x2="404.35" y2="65.50" stroke="#555" stroke-width="0.6" stroke-linecap="butt"/>
<circle cx="402.65" cy="59.50" r="2.8" fill="#151213"/>
<circle cx="321.27" cy="100.80" r="2.75" fill="#fff" stroke="#3a3a3a" stroke-width="0.7"/>
<circle cx="337.55" cy="84.70" r="2.75" fill="#fff" stroke="#3a3a3a" stroke-width="0.7"/>
<circle cx="353.82" cy="68.50" r="2.75" fill="#fff" stroke="#3a3a3a" stroke-width="0.7"/>
<circle cx="370.10" cy="53.20" r="2.75" fill="#fff" stroke="#3a3a3a" stroke-width="0.7"/>
<line x1="386.38" y1="35.40" x2="386.38" y2="41.80" stroke="#555" stroke-width="0.6" stroke-linecap="butt"/>
<line x1="384.68" y1="35.40" x2="388.07" y2="35.40" stroke="#555" stroke-width="0.6" stroke-linecap="butt"/>
<line x1="384.68" y1="41.80" x2="388.07" y2="41.80" stroke="#555" stroke-width="0.6" stroke-linecap="butt"/>
<circle cx="386.38" cy="38.60" r="2.75" fill="#fff" stroke="#3a3a3a" stroke-width="0.7"/>
<line x1="402.65" y1="19.20" x2="402.65" y2="30.40" stroke="#555" stroke-width="0.6" stroke-linecap="butt"/>
<line x1="400.95" y1="19.20" x2="404.35" y2="19.20" stroke="#555" stroke-width="0.6" stroke-linecap="butt"/>
<line x1="400.95" y1="30.40" x2="404.35" y2="30.40" stroke="#555" stroke-width="0.6" stroke-linecap="butt"/>
<circle cx="402.65" cy="24.80" r="2.75" fill="#fff" stroke="#3a3a3a" stroke-width="0.7"/>
<circle cx="319.70" cy="37.50" r="2.8" fill="#151213"/>
<circle cx="319.70" cy="50.00" r="2.75" fill="#fff" stroke="#3a3a3a" stroke-width="0.7"/>
<text x="337.76" y="40.80" font-size="10.5" textLength="16.92" lengthAdjust="spacingAndGlyphs" fill="#151213">KO</text>
<text x="338.65" y="53.50" font-size="10.5" textLength="16.77" lengthAdjust="spacingAndGlyphs" fill="#151213">WT</text>
</g>
<g id="panel-b">
<text x="426.02" y="13.80" font-size="18.5" font-weight="bold" textLength="12.94" lengthAdjust="spacingAndGlyphs" fill="#151213">b</text>
<text x="455.42" y="13.80" font-size="15" textLength="24.59" lengthAdjust="spacingAndGlyphs" fill="#151213">WT</text>
<text x="512.74" y="13.80" font-size="15" textLength="24.61" lengthAdjust="spacingAndGlyphs" fill="#151213">KO</text>
<text x="490.94" y="51.40" font-size="12" textLength="16.24" lengthAdjust="spacingAndGlyphs" fill="#151213">P8</text>
<text x="556.42" y="51.40" font-size="12" textLength="16.53" lengthAdjust="spacingAndGlyphs" fill="#151213">P9</text>
<line x1="461.40" y1="75.70" x2="467.40" y2="75.70" stroke="#1a1718" stroke-width="1.1" stroke-linecap="butt"/>
<path d="M467.2,75.7 L467.5,38.4 L468.2,33.0 L468.4,32.4" fill="none" stroke="#1a1718" stroke-width="0.85" stroke-linejoin="round" stroke-linecap="round"/>
<path d="M468.4,32.4 L468.6,33.1 L468.8,33.8 L469.0,34.5 L469.3,35.2 L469.5,35.9 L469.8,36.5 L470.0,37.2 L470.3,37.9 L470.5,38.6 L470.8,39.2 L471.1,39.9 L471.3,40.6 L471.6,41.3" fill="none" stroke="#1a1718" stroke-width="0.95" stroke-linejoin="round" stroke-linecap="round"/>
<path d="M471.3,40.6 L471.6,41.3 L471.9,41.9 L472.2,42.6 L472.5,43.2 L472.9,43.9 L473.2,44.5 L473.5,45.2 L473.9,45.8 L474.3,46.4 L474.6,47.0 L475.0,47.6 L475.5,48.2 L475.9,48.8 L476.3,49.4 L476.7,50.0 L477.2,50.5 L477.7,51.1 L478.1,51.6 L478.6,52.2 L479.1,52.7 L479.6,53.2 L480.1,53.7 L480.7,54.3 L481.2,54.8 L481.7,55.3 L482.2,55.8 L482.7,56.4 L483.2,56.9 L483.8,57.4 L484.3,57.9 L484.8,58.3 L485.4,58.8 L486.0,59.2 L486.5,59.7 L487.1,60.0 L487.7,60.4 L488.4,60.8 L489.0,61.1 L489.7,61.4 L490.3,61.8 L491.0,62.1 L491.6,62.4 L492.3,62.7 L493.0,62.9 L493.7,63.2 L494.3,63.5 L495.0,63.8 L495.7,64.0 L496.4,64.3 L497.0,64.5 L497.7,64.7 L498.4,65.0 L499.1,65.2 L499.8,65.4 L500.5,65.7 L501.2,65.9 L501.9,66.1 L502.5,66.3 L503.2,66.6 L503.9,66.8 L504.6,67.0 L505.3,67.2 L506.0,67.4 L506.7,67.6 L507.4,67.8 L508.1,68.0 L508.8,68.2" fill="none" stroke="#1a1718" stroke-width="1.3" stroke-linejoin="round" stroke-linecap="round"/>
<path d="M467.0,75.7 L466.8,126.4 L467.1,110 L467.4,92" fill="none" stroke="#1a1718" stroke-width="0.8" stroke-linejoin="round" stroke-linecap="round"/>
<path d="M467.4,92 C467.6,82 467.9,78.4 469.6,77.2 C473,76.2 490,75.8 508.8,75.4" fill="none" stroke="#1a1718" stroke-width="1.0" stroke-linejoin="round" stroke-linecap="round"/>
<line x1="525.40" y1="74.70" x2="530.80" y2="74.70" stroke="#1a1718" stroke-width="1.1" stroke-linecap="butt"/>
<path d="M530.6,74.7 L530.9,39.7 L531.7,34.3 L531.9,33.7" fill="none" stroke="#1a1718" stroke-width="0.85" stroke-linejoin="round" stroke-linecap="round"/>
<path d="M531.9,33.7 L532.2,34.3 L532.5,35.0 L532.8,35.6 L533.1,36.2 L533.4,36.8 L533.8,37.4 L534.1,38.0 L534.5,38.6 L534.8,39.2 L535.2,39.8 L535.5,40.4 L535.9,41.0 L536.3,41.6" fill="none" stroke="#1a1718" stroke-width="0.95" stroke-linejoin="round" stroke-linecap="round"/>
<path d="M535.9,41.0 L536.3,41.6 L536.7,42.2 L537.0,42.8 L537.4,43.4 L537.8,43.9 L538.2,44.5 L538.6,45.1 L538.9,45.7 L539.3,46.3 L539.7,46.8 L540.1,47.4 L540.5,48.0 L540.9,48.5 L541.4,49.1 L541.8,49.7 L542.2,50.2 L542.6,50.8 L543.1,51.3 L543.5,51.8 L544.0,52.3 L544.5,52.8 L545.0,53.3 L545.5,53.8 L546.0,54.3 L546.5,54.8 L547.0,55.2 L547.5,55.7 L548.1,56.1 L548.6,56.6 L549.2,57.0 L549.7,57.4 L550.3,57.8 L550.8,58.2 L551.4,58.6 L552.0,59.0 L552.6,59.4 L553.2,59.8 L553.8,60.1 L554.4,60.5 L555.0,60.8 L555.6,61.2 L556.2,61.5 L556.8,61.8 L557.4,62.2 L558.0,62.5 L558.6,62.8 L559.2,63.2 L559.9,63.5 L560.5,63.8 L561.1,64.1 L561.7,64.4 L562.4,64.7 L563.0,65.0 L563.7,65.2 L564.3,65.5 L565.0,65.7 L565.6,65.9 L566.3,66.2 L566.9,66.4 L567.6,66.6 L568.2,66.8 L568.9,67.0 L569.6,67.2 L570.3,67.4 L570.9,67.6 L571.6,67.7 L572.3,67.9" fill="none" stroke="#1a1718" stroke-width="1.3" stroke-linejoin="round" stroke-linecap="round"/>
<path d="M530.6,74.7 L530.7,97.8 L531.0,88" fill="none" stroke="#1a1718" stroke-width="0.8" stroke-linejoin="round" stroke-linecap="round"/>
<path d="M531.0,88 C531.2,80 531.6,77.5 533.2,76.2 C536,75.2 552,74.8 572.3,74.5" fill="none" stroke="#1a1718" stroke-width="1.0" stroke-linejoin="round" stroke-linecap="round"/>
<line x1="563.30" y1="98.20" x2="563.30" y2="126.40" stroke="#151213" stroke-width="1.25" stroke-linecap="butt"/>
<line x1="544.80" y1="125.80" x2="563.90" y2="125.80" stroke="#151213" stroke-width="1.25" stroke-linecap="butt"/>
<text x="565.25" y="111.20" font-size="12" textLength="21.25" lengthAdjust="spacingAndGlyphs" fill="#151213">100</text>
<text x="568.49" y="125.50" font-size="12" textLength="15.25" lengthAdjust="spacingAndGlyphs" fill="#151213">pA</text>
<text x="543.46" y="139.50" font-size="12" textLength="21.23" lengthAdjust="spacingAndGlyphs" fill="#151213">200</text>
<text x="546.85" y="153.50" font-size="12" textLength="17.38" lengthAdjust="spacingAndGlyphs" fill="#151213">ms</text>
<line x1="639.60" y1="11.40" x2="639.60" y2="129.30" stroke="#151213" stroke-width="1.0" stroke-linecap="butt"/>
<line x1="635.90" y1="128.80" x2="722.60" y2="128.80" stroke="#151213" stroke-width="1.0" stroke-linecap="butt"/>
<line x1="636.30" y1="31.30" x2="639.60" y2="31.30" stroke="#151213" stroke-width="0.9" stroke-linecap="butt"/>
<text x="615.48" y="35.60" font-size="12" textLength="17.02" lengthAdjust="spacingAndGlyphs" fill="#151213">1.5</text>
<line x1="636.30" y1="63.80" x2="639.60" y2="63.80" stroke="#151213" stroke-width="0.9" stroke-linecap="butt"/>
<text x="615.41" y="68.10" font-size="12" textLength="17.02" lengthAdjust="spacingAndGlyphs" fill="#151213">1.0</text>
<line x1="636.30" y1="96.30" x2="639.60" y2="96.30" stroke="#151213" stroke-width="0.9" stroke-linecap="butt"/>
<text x="615.48" y="100.60" font-size="12" textLength="17.02" lengthAdjust="spacingAndGlyphs" fill="#151213">0.5</text>
<text x="615.41" y="133.10" font-size="12" textLength="17.02" lengthAdjust="spacingAndGlyphs" fill="#151213">0.0</text>
<text transform="translate(609.90,116.90) rotate(-90)" x="-0.00" y="0" font-size="12" textLength="92.48" lengthAdjust="spacingAndGlyphs" fill="#151213">AMPAR/NMDAR</text>
<path d="M660.8,47.9 L660.8,22.0 L693.3,22.0 L693.3,66.8" fill="none" stroke="#8a8a8a" stroke-width="0.8" stroke-linejoin="round" stroke-linecap="round"/>
<rect x="652.50" y="68.10" width="19.50" height="60.70" fill="#fff" stroke="#151213" stroke-width="0.9"/>
<line x1="662.20" y1="62.30" x2="662.20" y2="68.10" stroke="#151213" stroke-width="1.2" stroke-linecap="butt"/>
<line x1="654.80" y1="62.30" x2="669.60" y2="62.30" stroke="#151213" stroke-width="1.3" stroke-linecap="butt"/>
<rect x="684.50" y="86.90" width="20.30" height="41.90" fill="#151213" stroke="#151213" stroke-width="0.5"/>
<line x1="694.70" y1="82.80" x2="694.70" y2="87.00" stroke="#151213" stroke-width="1.2" stroke-linecap="butt"/>
<line x1="687.40" y1="82.80" x2="702.00" y2="82.80" stroke="#151213" stroke-width="1.3" stroke-linecap="butt"/>
<circle cx="666.70" cy="34.80" r="2.3" fill="#151213"/>
<circle cx="666.70" cy="41.50" r="2.3" fill="#151213"/>
<circle cx="666.70" cy="53.40" r="2.3" fill="#151213"/>
<circle cx="666.70" cy="56.20" r="2.3" fill="#151213"/>
<circle cx="666.70" cy="63.40" r="2.3" fill="#151213"/>
<circle cx="666.70" cy="74.10" r="2.3" fill="#151213"/>
<circle cx="666.70" cy="80.20" r="2.3" fill="#151213"/>
<circle cx="666.70" cy="83.50" r="2.3" fill="#151213"/>
<circle cx="666.70" cy="88.90" r="2.3" fill="#151213"/>
<circle cx="666.70" cy="96.20" r="2.3" fill="#151213"/>
<circle cx="699.40" cy="63.20" r="1.9" fill="#fff" stroke="#151213" stroke-width="0.85"/>
<circle cx="699.40" cy="66.20" r="1.9" fill="#fff" stroke="#151213" stroke-width="0.85"/>
<circle cx="699.40" cy="75.50" r="1.9" fill="#fff" stroke="#151213" stroke-width="0.85"/>
<circle cx="699.40" cy="86.90" r="1.9" fill="#fff"/>
<circle cx="699.40" cy="89.60" r="1.9" fill="#fff"/>
<circle cx="699.40" cy="94.50" r="1.9" fill="#fff"/>
<circle cx="699.40" cy="102.20" r="1.9" fill="#fff"/>
<circle cx="699.40" cy="105.00" r="1.9" fill="#fff"/>
<circle cx="699.40" cy="113.50" r="1.9" fill="#fff"/>
<text x="649.32" y="144.40" font-size="14.5" textLength="23.88" lengthAdjust="spacingAndGlyphs" fill="#151213">WT</text>
<text x="683.73" y="144.40" font-size="14.5" textLength="24.72" lengthAdjust="spacingAndGlyphs" fill="#151213">KO</text>
<text x="672.62" y="29.00" font-size="24" font-weight="bold" textLength="9.34" lengthAdjust="spacingAndGlyphs" fill="#151213">*</text>
</g>
<g id="panel-c">
<text x="-0.80" y="181.50" font-size="18.5" font-weight="bold" textLength="11.12" lengthAdjust="spacingAndGlyphs" fill="#151213">c</text>
<text x="26.02" y="181.80" font-size="15" textLength="25.20" lengthAdjust="spacingAndGlyphs" fill="#151213">WT</text>
<text x="61.95" y="181.70" font-size="11.5" textLength="22.45" lengthAdjust="spacingAndGlyphs" fill="#151213">P11</text>
<text x="192.85" y="182.00" font-size="15" textLength="24.39" lengthAdjust="spacingAndGlyphs" fill="#151213">KO</text>
<text x="230.94" y="182.00" font-size="11.5" textLength="23.51" lengthAdjust="spacingAndGlyphs" fill="#151213">P12</text>
<line x1="38.20" y1="197.60" x2="38.20" y2="211.00" stroke="#2a2a2a" stroke-width="0.75" stroke-linecap="butt"/>
<line x1="75.80" y1="197.60" x2="75.80" y2="223.00" stroke="#808080" stroke-width="0.8" stroke-linecap="butt"/>
<line x1="79.00" y1="197.60" x2="79.00" y2="210.00" stroke="#2a2a2a" stroke-width="0.75" stroke-linecap="butt"/>
<line x1="84.40" y1="197.60" x2="84.40" y2="207.50" stroke="#2a2a2a" stroke-width="0.75" stroke-linecap="butt"/>
<line x1="105.20" y1="197.60" x2="105.20" y2="213.00" stroke="#2a2a2a" stroke-width="0.75" stroke-linecap="butt"/>
<line x1="117.20" y1="197.60" x2="117.20" y2="215.40" stroke="#2a2a2a" stroke-width="0.75" stroke-linecap="butt"/>
<line x1="126.60" y1="197.60" x2="126.60" y2="207.00" stroke="#2a2a2a" stroke-width="0.75" stroke-linecap="butt"/>
<line x1="129.80" y1="197.60" x2="129.80" y2="207.50" stroke="#808080" stroke-width="0.8" stroke-linecap="butt"/>
<line x1="160.00" y1="197.60" x2="160.00" y2="206.00" stroke="#808080" stroke-width="0.8" stroke-linecap="butt"/>
<polygon points="30.0,194.0 30.5,195.1 31.0,193.2 31.5,191.8 32.0,193.0 32.5,192.9 33.0,191.9 33.5,192.0 34.0,191.4 34.5,193.2 35.0,191.1 35.5,192.5 36.0,194.7 36.5,193.7 37.0,194.4 37.5,194.1 38.0,192.1 38.5,192.8 39.0,192.8 39.5,193.8 40.0,194.3 40.5,193.6 41.0,192.1 41.5,193.0 42.0,191.7 42.5,192.8 43.0,192.5 43.5,191.2 44.0,191.1 44.5,191.6 45.0,190.2 45.5,193.8 46.0,193.2 46.5,193.9 47.0,193.5 47.5,193.1 48.0,191.7 48.5,192.9 49.0,192.9 49.5,192.3 50.0,192.2 50.5,191.8 51.0,192.7 51.5,193.3 52.0,192.1 52.5,193.9 53.0,191.2 53.5,193.2 54.0,192.3 54.5,192.5 55.0,191.8 55.5,192.5 56.0,191.5 56.5,192.6 57.0,192.6 57.5,192.5 58.0,192.5 58.5,191.8 59.0,192.6 59.5,192.7 60.0,191.6 60.5,193.3 61.0,191.2 61.5,191.4 62.0,191.7 62.5,191.5 63.0,192.9 63.5,191.5 64.0,193.2 64.5,191.7 65.0,194.1 65.5,193.9 66.0,191.8 66.5,193.3 67.0,193.5 67.5,192.6 68.0,192.5 68.5,192.7 69.0,190.5 69.5,193.9 70.0,193.8 70.5,194.1 71.0,193.2 71.5,193.4 72.0,192.9 72.5,192.6 73.0,193.0 73.5,191.8 74.0,193.5 74.5,192.6 75.0,193.7 75.5,193.6 76.0,192.6 76.5,193.0 77.0,192.1 77.5,192.0 78.0,191.7 78.5,190.9 79.0,193.0 79.5,192.1 80.0,190.8 80.5,191.5 81.0,192.1 81.5,190.1 82.0,192.9 82.5,193.9 83.0,194.0 83.5,193.9 84.0,193.8 84.5,194.1 85.0,194.1 85.5,193.2 86.0,191.7 86.5,193.5 87.0,192.8 87.5,194.8 88.0,195.0 88.5,195.1 89.0,195.2 89.5,192.8 90.0,194.9 90.5,194.6 91.0,191.6 91.5,193.8 92.0,194.8 92.5,194.0 93.0,195.0 93.5,192.2 94.0,194.6 94.5,194.0 95.0,195.2 95.5,193.5 96.0,194.2 96.5,194.2 97.0,192.3 97.5,192.5 98.0,193.2 98.5,192.4 99.0,194.3 99.5,194.8 100.0,194.0 100.5,193.7 101.0,195.8 101.5,194.4 102.0,194.9 102.5,194.4 103.0,194.8 103.5,195.6 104.0,195.4 104.5,194.3 105.0,193.9 105.5,195.6 106.0,194.2 106.5,194.6 107.0,194.7 107.5,194.5 108.0,195.5 108.5,195.5 109.0,195.9 109.5,195.7 110.0,197.1 110.5,196.8 111.0,197.6 111.5,196.6 112.0,194.4 112.5,195.0 113.0,196.6 113.5,196.4 114.0,195.4 114.5,194.7 115.0,195.8 115.5,195.1 116.0,194.9 116.5,194.5 117.0,195.0 117.5,192.6 118.0,194.8 118.5,195.1 119.0,194.8 119.5,194.4 120.0,192.9 120.5,195.0 121.0,194.2 121.5,193.7 122.0,194.4 122.5,194.5 123.0,193.9 123.5,194.6 124.0,193.6 124.5,195.4 125.0,196.2 125.5,194.9 126.0,194.8 126.5,193.1 127.0,194.7 127.5,192.6 128.0,193.4 128.5,194.5 129.0,193.4 129.5,193.6 130.0,194.8 130.5,195.3 131.0,194.6 131.5,195.7 132.0,194.2 132.5,193.4 133.0,193.9 133.5,194.2 134.0,193.0 134.5,194.3 135.0,193.0 135.5,193.3 136.0,193.6 136.5,193.2 137.0,194.4 137.5,194.7 138.0,193.7 138.5,195.7 139.0,195.0 139.5,193.8 140.0,194.3 140.5,193.8 141.0,194.5 141.5,192.8 142.0,194.3 142.5,194.4 143.0,194.1 143.5,193.8 144.0,195.8 144.5,196.2 145.0,194.2 145.5,193.9 146.0,195.3 146.5,192.5 147.0,194.5 147.5,193.3 148.0,194.8 148.5,195.1 149.0,193.7 149.5,193.4 150.0,194.3 150.5,192.5 151.0,194.5 151.5,195.1 152.0,194.8 152.5,194.7 153.0,195.7 153.5,194.8 154.0,194.9 154.5,195.8 155.0,195.8 155.5,196.3 156.0,196.1 156.5,194.3 157.0,195.7 157.5,194.9 158.0,194.4 158.5,195.1 159.0,194.4 159.5,195.0 160.0,195.1 160.5,195.3 161.0,195.7 161.5,194.5 162.0,196.0 162.5,196.2 163.0,194.9 163.5,194.3 164.0,195.5 164.5,194.8 165.0,194.8 165.5,195.1 166.0,194.3 166.5,194.0 167.0,193.0 167.5,194.3 168.0,195.1 168.5,194.6 169.0,195.9 169.5,196.4 169.5,206.4 169.0,204.3 168.5,203.9 168.0,202.6 167.5,203.2 167.0,202.2 166.5,202.7 166.0,202.4 165.5,205.2 165.0,202.5 164.5,203.6 164.0,202.7 163.5,202.5 163.0,203.5 162.5,203.6 162.0,204.7 161.5,204.1 161.0,204.9 160.5,204.1 160.0,203.4 159.5,203.9 159.0,201.7 158.5,202.7 158.0,203.9 157.5,201.7 157.0,202.6 156.5,203.1 156.0,201.6 155.5,202.5 155.0,202.2 154.5,201.9 154.0,203.8 153.5,203.4 153.0,202.0 152.5,203.9 152.0,202.3 151.5,201.9 151.0,201.7 150.5,201.8 150.0,202.3 149.5,203.4 149.0,202.2 148.5,201.7 148.0,201.1 147.5,201.2 147.0,201.5 146.5,202.2 146.0,202.2 145.5,202.7 145.0,202.1 144.5,202.2 144.0,203.7 143.5,204.8 143.0,204.4 142.5,202.1 142.0,201.4 141.5,201.3 141.0,202.2 140.5,202.2 140.0,201.1 139.5,200.9 139.0,203.9 138.5,203.1 138.0,203.1 137.5,201.1 137.0,200.6 136.5,201.2 136.0,201.8 135.5,203.5 135.0,204.1 134.5,201.5 134.0,202.5 133.5,203.4 133.0,201.4 132.5,201.3 132.0,202.6 131.5,202.7 131.0,205.0 130.5,203.9 130.0,202.3 129.5,201.9 129.0,203.8 128.5,203.4 128.0,202.3 127.5,204.7 127.0,201.1 126.5,201.6 126.0,202.0 125.5,201.5 125.0,201.3 124.5,204.8 124.0,203.8 123.5,200.7 123.0,202.1 122.5,201.0 122.0,202.2 121.5,201.5 121.0,202.6 120.5,203.5 120.0,201.1 119.5,201.3 119.0,203.4 118.5,202.0 118.0,203.6 117.5,202.9 117.0,204.3 116.5,201.3 116.0,201.4 115.5,201.3 115.0,202.9 114.5,201.5 114.0,201.9 113.5,200.3 113.0,200.4 112.5,200.5 112.0,202.1 111.5,201.2 111.0,202.9 110.5,202.2 110.0,201.1 109.5,201.0 109.0,202.2 108.5,201.2 108.0,203.5 107.5,200.9 107.0,203.8 106.5,200.6 106.0,201.3 105.5,200.7 105.0,201.0 104.5,202.0 104.0,202.9 103.5,202.1 103.0,201.5 102.5,201.0 102.0,202.0 101.5,203.8 101.0,204.9 100.5,201.7 100.0,201.7 99.5,201.5 99.0,202.8 98.5,201.5 98.0,201.8 97.5,203.2 97.0,202.2 96.5,201.5 96.0,201.8 95.5,203.3 95.0,201.3 94.5,202.6 94.0,199.8 93.5,201.2 93.0,201.4 92.5,204.5 92.0,201.1 91.5,200.2 91.0,204.6 90.5,202.6 90.0,203.8 89.5,203.5 89.0,201.7 88.5,201.8 88.0,201.9 87.5,201.4 87.0,201.9 86.5,200.9 86.0,200.8 85.5,200.5 85.0,201.5 84.5,199.5 84.0,201.0 83.5,203.3 83.0,201.2 82.5,201.0 82.0,201.2 81.5,202.4 81.0,203.4 80.5,202.3 80.0,200.9 79.5,202.9 79.0,200.3 78.5,200.5 78.0,199.3 77.5,201.2 77.0,199.3 76.5,198.5 76.0,199.2 75.5,198.7 75.0,198.9 74.5,199.7 74.0,200.3 73.5,198.5 73.0,198.7 72.5,201.4 72.0,201.2 71.5,199.9 71.0,200.8 70.5,199.4 70.0,201.9 69.5,200.2 69.0,201.0 68.5,200.1 68.0,201.5 67.5,201.2 67.0,200.2 66.5,204.1 66.0,200.4 65.5,200.5 65.0,201.6 64.5,200.1 64.0,201.9 63.5,200.9 63.0,204.1 62.5,200.2 62.0,199.7 61.5,200.6 61.0,199.7 60.5,199.3 60.0,200.1 59.5,199.8 59.0,199.6 58.5,202.3 58.0,199.8 57.5,199.7 57.0,203.0 56.5,200.9 56.0,203.3 55.5,200.1 55.0,199.8 54.5,200.1 54.0,200.2 53.5,199.3 53.0,200.8 52.5,199.6 52.0,203.6 51.5,200.6 51.0,202.8 50.5,200.2 50.0,201.4 49.5,200.3 49.0,200.3 48.5,201.7 48.0,200.2 47.5,204.2 47.0,200.6 46.5,200.6 46.0,200.0 45.5,201.4 45.0,200.9 44.5,200.1 44.0,201.5 43.5,202.4 43.0,201.5 42.5,202.0 42.0,201.2 41.5,200.0 41.0,199.1 40.5,200.6 40.0,200.3 39.5,203.8 39.0,201.5 38.5,200.3 38.0,200.1 37.5,199.5 37.0,199.1 36.5,201.1 36.0,202.2 35.5,200.9 35.0,201.2 34.5,199.9 34.0,199.8 33.5,201.3 33.0,201.1 32.5,202.4 32.0,199.6 31.5,200.1 31.0,202.2 30.5,200.2 30.0,200.1" fill="#1a1718"/>
<line x1="34.40" y1="228.60" x2="34.40" y2="245.40" stroke="#2a2a2a" stroke-width="0.75" stroke-linecap="butt"/>
<line x1="53.20" y1="228.60" x2="53.20" y2="241.00" stroke="#808080" stroke-width="0.8" stroke-linecap="butt"/>
<line x1="58.00" y1="228.60" x2="58.00" y2="237.00" stroke="#808080" stroke-width="0.8" stroke-linecap="butt"/>
<line x1="64.40" y1="228.60" x2="64.40" y2="238.00" stroke="#2a2a2a" stroke-width="0.75" stroke-linecap="butt"/>
<line x1="82.20" y1="228.60" x2="82.20" y2="236.50" stroke="#2a2a2a" stroke-width="0.75" stroke-linecap="butt"/>
<line x1="145.00" y1="228.60" x2="145.00" y2="247.00" stroke="#808080" stroke-width="0.8" stroke-linecap="butt"/>
<line x1="151.30" y1="228.60" x2="151.30" y2="239.00" stroke="#2a2a2a" stroke-width="0.75" stroke-linecap="butt"/>
<line x1="169.00" y1="228.60" x2="169.00" y2="239.50" stroke="#2a2a2a" stroke-width="0.75" stroke-linecap="butt"/>
<polygon points="30.0,227.1 30.5,227.1 31.0,226.2 31.5,227.5 32.0,223.6 32.5,224.9 33.0,226.6 33.5,225.2 34.0,225.8 34.5,225.1 35.0,226.3 35.5,225.6 36.0,226.2 36.5,226.3 37.0,224.5 37.5,225.3 38.0,226.1 38.5,224.3 39.0,225.8 39.5,224.4 40.0,224.4 40.5,224.9 41.0,223.4 41.5,226.0 42.0,225.6 42.5,224.6 43.0,223.3 43.5,224.9 44.0,225.3 44.5,225.2 45.0,224.4 45.5,224.2 46.0,223.5 46.5,225.0 47.0,225.6 47.5,227.0 48.0,226.0 48.5,226.9 49.0,226.7 49.5,222.9 50.0,224.6 50.5,226.1 51.0,224.0 51.5,225.2 52.0,225.5 52.5,223.3 53.0,225.2 53.5,221.8 54.0,225.2 54.5,222.7 55.0,223.7 55.5,225.0 56.0,223.2 56.5,225.8 57.0,226.5 57.5,226.2 58.0,226.7 58.5,226.8 59.0,227.0 59.5,226.2 60.0,226.0 60.5,225.0 61.0,224.7 61.5,224.1 62.0,225.0 62.5,223.2 63.0,223.9 63.5,225.1 64.0,225.2 64.5,225.3 65.0,225.6 65.5,224.9 66.0,224.5 66.5,224.9 67.0,223.9 67.5,223.5 68.0,223.7 68.5,225.4 69.0,223.3 69.5,224.7 70.0,225.2 70.5,224.5 71.0,225.4 71.5,225.1 72.0,225.4 72.5,225.9 73.0,225.1 73.5,225.4 74.0,225.4 74.5,226.3 75.0,226.0 75.5,226.0 76.0,225.8 76.5,226.9 77.0,227.4 77.5,225.4 78.0,226.5 78.5,224.7 79.0,223.9 79.5,225.4 80.0,223.9 80.5,223.9 81.0,224.9 81.5,224.9 82.0,224.6 82.5,224.5 83.0,224.6 83.5,225.1 84.0,225.0 84.5,224.4 85.0,224.5 85.5,225.4 86.0,224.3 86.5,224.9 87.0,225.5 87.5,225.6 88.0,224.1 88.5,224.5 89.0,225.5 89.5,223.2 90.0,224.5 90.5,223.8 91.0,222.9 91.5,220.8 92.0,221.9 92.5,223.7 93.0,222.8 93.5,223.6 94.0,224.7 94.5,223.4 95.0,225.1 95.5,223.6 96.0,224.1 96.5,224.5 97.0,224.9 97.5,225.5 98.0,225.2 98.5,225.5 99.0,224.2 99.5,223.2 100.0,224.1 100.5,223.5 101.0,223.2 101.5,223.4 102.0,225.5 102.5,223.9 103.0,223.6 103.5,224.6 104.0,223.8 104.5,225.0 105.0,223.6 105.5,221.8 106.0,224.6 106.5,225.2 107.0,223.5 107.5,224.8 108.0,224.4 108.5,223.5 109.0,226.0 109.5,224.9 110.0,224.2 110.5,224.7 111.0,223.7 111.5,225.2 112.0,225.0 112.5,224.9 113.0,224.7 113.5,226.0 114.0,225.4 114.5,225.0 115.0,226.1 115.5,225.8 116.0,224.0 116.5,225.1 117.0,225.6 117.5,224.8 118.0,224.7 118.5,226.1 119.0,226.4 119.5,225.2 120.0,225.2 120.5,225.0 121.0,222.9 121.5,225.6 122.0,223.5 122.5,224.4 123.0,225.4 123.5,224.9 124.0,225.6 124.5,224.4 125.0,225.4 125.5,225.3 126.0,225.6 126.5,225.3 127.0,224.6 127.5,225.9 128.0,226.5 128.5,225.5 129.0,225.1 129.5,226.1 130.0,226.0 130.5,225.7 131.0,224.2 131.5,225.8 132.0,223.0 132.5,224.8 133.0,224.1 133.5,223.0 134.0,222.8 134.5,225.2 135.0,224.1 135.5,223.6 136.0,224.7 136.5,222.7 137.0,224.1 137.5,222.7 138.0,224.5 138.5,223.4 139.0,225.4 139.5,223.7 140.0,225.7 140.5,225.1 141.0,224.9 141.5,225.8 142.0,225.3 142.5,225.7 143.0,225.1 143.5,226.1 144.0,226.6 144.5,226.5 145.0,224.8 145.5,225.5 146.0,224.9 146.5,225.0 147.0,224.2 147.5,222.0 148.0,224.9 148.5,225.4 149.0,225.8 149.5,223.7 150.0,224.0 150.5,225.3 151.0,225.4 151.5,223.7 152.0,224.6 152.5,224.1 153.0,224.0 153.5,225.5 154.0,225.8 154.5,225.9 155.0,226.5 155.5,226.2 156.0,226.9 156.5,225.2 157.0,225.4 157.5,225.3 158.0,224.2 158.5,226.0 159.0,224.7 159.5,224.7 160.0,226.2 160.5,226.3 161.0,226.5 161.5,226.3 162.0,226.2 162.5,226.3 163.0,226.7 163.5,226.6 164.0,226.4 164.5,224.6 165.0,224.8 165.5,223.9 166.0,226.0 166.5,225.1 167.0,225.2 167.5,222.6 168.0,222.3 168.5,224.0 169.0,224.9 169.5,223.8 169.5,232.0 169.0,232.6 168.5,234.7 168.0,235.6 167.5,232.9 167.0,232.4 166.5,232.7 166.0,232.4 165.5,233.0 165.0,231.2 164.5,231.5 164.0,230.4 163.5,230.0 163.0,232.0 162.5,231.3 162.0,233.2 161.5,232.4 161.0,232.8 160.5,232.6 160.0,233.4 159.5,233.2 159.0,234.3 158.5,233.1 158.0,232.5 157.5,233.4 157.0,233.8 156.5,234.9 156.0,232.5 155.5,235.8 155.0,234.0 154.5,234.3 154.0,233.0 153.5,233.7 153.0,232.0 152.5,231.5 152.0,232.3 151.5,232.2 151.0,231.5 150.5,234.4 150.0,231.4 149.5,232.0 149.0,232.6 148.5,231.8 148.0,232.0 147.5,231.4 147.0,231.5 146.5,230.9 146.0,232.4 145.5,231.6 145.0,230.4 144.5,232.4 144.0,232.8 143.5,236.5 143.0,233.1 142.5,234.1 142.0,234.9 141.5,232.7 141.0,234.8 140.5,232.9 140.0,232.2 139.5,233.7 139.0,232.6 138.5,232.6 138.0,232.8 137.5,233.0 137.0,232.0 136.5,233.1 136.0,233.8 135.5,234.8 135.0,231.9 134.5,233.0 134.0,231.5 133.5,231.5 133.0,231.6 132.5,236.4 132.0,231.0 131.5,232.1 131.0,232.1 130.5,233.9 130.0,235.6 129.5,233.5 129.0,233.7 128.5,234.5 128.0,235.6 127.5,234.6 127.0,234.7 126.5,233.8 126.0,231.6 125.5,232.0 125.0,231.6 124.5,232.2 124.0,232.4 123.5,233.3 123.0,233.0 122.5,233.4 122.0,232.7 121.5,233.4 121.0,233.2 120.5,233.2 120.0,232.8 119.5,232.2 119.0,232.0 118.5,231.7 118.0,233.4 117.5,232.9 117.0,233.4 116.5,234.6 116.0,231.2 115.5,232.9 115.0,233.9 114.5,231.6 114.0,232.9 113.5,233.2 113.0,232.3 112.5,232.7 112.0,231.8 111.5,233.6 111.0,231.9 110.5,232.8 110.0,233.7 109.5,233.0 109.0,233.4 108.5,232.1 108.0,232.3 107.5,233.3 107.0,235.1 106.5,234.3 106.0,233.0 105.5,232.8 105.0,232.2 104.5,232.3 104.0,232.8 103.5,232.9 103.0,230.5 102.5,230.2 102.0,230.4 101.5,232.0 101.0,231.9 100.5,231.5 100.0,232.1 99.5,232.1 99.0,233.0 98.5,232.5 98.0,231.7 97.5,232.6 97.0,231.4 96.5,230.9 96.0,231.1 95.5,231.3 95.0,231.3 94.5,234.7 94.0,231.5 93.5,234.1 93.0,230.9 92.5,230.7 92.0,231.2 91.5,232.2 91.0,230.0 90.5,231.8 90.0,233.6 89.5,233.1 89.0,231.7 88.5,231.2 88.0,230.5 87.5,231.7 87.0,232.7 86.5,235.0 86.0,235.4 85.5,232.6 85.0,233.5 84.5,233.0 84.0,235.3 83.5,233.9 83.0,232.1 82.5,232.3 82.0,234.2 81.5,231.7 81.0,232.6 80.5,231.7 80.0,232.6 79.5,232.3 79.0,230.8 78.5,231.0 78.0,234.6 77.5,231.3 77.0,232.0 76.5,231.0 76.0,231.8 75.5,231.9 75.0,231.0 74.5,231.6 74.0,231.9 73.5,231.7 73.0,233.5 72.5,233.4 72.0,234.5 71.5,233.1 71.0,232.7 70.5,234.8 70.0,233.4 69.5,232.9 69.0,234.9 68.5,232.0 68.0,230.9 67.5,230.4 67.0,232.5 66.5,231.9 66.0,233.4 65.5,231.9 65.0,232.8 64.5,231.9 64.0,232.8 63.5,232.0 63.0,231.2 62.5,231.3 62.0,232.2 61.5,232.1 61.0,233.4 60.5,234.1 60.0,233.9 59.5,233.3 59.0,231.6 58.5,232.7 58.0,232.0 57.5,236.3 57.0,234.2 56.5,238.3 56.0,232.2 55.5,231.9 55.0,233.2 54.5,232.1 54.0,233.8 53.5,232.5 53.0,232.0 52.5,232.3 52.0,232.4 51.5,234.9 51.0,234.3 50.5,234.3 50.0,232.9 49.5,234.3 49.0,236.4 48.5,233.7 48.0,236.7 47.5,234.4 47.0,235.2 46.5,234.7 46.0,234.6 45.5,234.6 45.0,233.9 44.5,232.7 44.0,232.9 43.5,232.4 43.0,232.8 42.5,232.8 42.0,233.1 41.5,234.3 41.0,232.6 40.5,233.3 40.0,231.7 39.5,232.2 39.0,235.0 38.5,233.9 38.0,233.8 37.5,233.1 37.0,233.0 36.5,233.6 36.0,234.1 35.5,232.2 35.0,232.1 34.5,233.1 34.0,232.6 33.5,233.5 33.0,233.6 32.5,232.5 32.0,235.1 31.5,233.1 31.0,233.3 30.5,233.0 30.0,233.4" fill="#1a1718"/>
<line x1="69.50" y1="259.80" x2="69.50" y2="272.00" stroke="#2a2a2a" stroke-width="0.75" stroke-linecap="butt"/>
<line x1="86.40" y1="259.80" x2="86.40" y2="272.00" stroke="#2a2a2a" stroke-width="0.75" stroke-linecap="butt"/>
<line x1="95.50" y1="259.80" x2="95.50" y2="274.00" stroke="#2a2a2a" stroke-width="0.75" stroke-linecap="butt"/>
<line x1="121.80" y1="259.80" x2="121.80" y2="269.00" stroke="#808080" stroke-width="0.8" stroke-linecap="butt"/>
<line x1="126.50" y1="259.80" x2="126.50" y2="268.00" stroke="#808080" stroke-width="0.8" stroke-linecap="butt"/>
<line x1="138.20" y1="259.80" x2="138.20" y2="272.00" stroke="#2a2a2a" stroke-width="0.75" stroke-linecap="butt"/>
<line x1="143.00" y1="259.80" x2="143.00" y2="268.50" stroke="#808080" stroke-width="0.8" stroke-linecap="butt"/>
<line x1="169.40" y1="259.80" x2="169.40" y2="275.00" stroke="#808080" stroke-width="0.8" stroke-linecap="butt"/>
<polygon points="30.0,255.5 30.5,253.5 31.0,255.3 31.5,256.1 32.0,254.8 32.5,255.5 33.0,256.5 33.5,256.3 34.0,256.3 34.5,256.2 35.0,255.4 35.5,257.5 36.0,255.9 36.5,256.5 37.0,256.8 37.5,254.3 38.0,255.5 38.5,255.8 39.0,255.1 39.5,255.7 40.0,255.8 40.5,255.2 41.0,255.5 41.5,257.7 42.0,255.4 42.5,256.6 43.0,255.0 43.5,256.3 44.0,256.6 44.5,255.0 45.0,254.7 45.5,255.5 46.0,254.4 46.5,257.0 47.0,256.6 47.5,256.3 48.0,255.8 48.5,257.3 49.0,256.2 49.5,256.7 50.0,255.5 50.5,256.0 51.0,256.9 51.5,255.2 52.0,254.6 52.5,254.9 53.0,255.3 53.5,255.0 54.0,253.3 54.5,255.7 55.0,255.3 55.5,255.5 56.0,253.9 56.5,254.1 57.0,253.5 57.5,254.1 58.0,253.9 58.5,253.3 59.0,255.1 59.5,255.1 60.0,253.7 60.5,255.6 61.0,255.9 61.5,255.5 62.0,254.1 62.5,255.3 63.0,255.3 63.5,256.3 64.0,254.8 64.5,255.1 65.0,255.4 65.5,255.0 66.0,255.5 66.5,255.8 67.0,256.1 67.5,255.1 68.0,256.8 68.5,255.1 69.0,256.1 69.5,257.0 70.0,257.0 70.5,255.8 71.0,256.1 71.5,256.2 72.0,256.4 72.5,256.6 73.0,255.3 73.5,254.4 74.0,256.2 74.5,256.7 75.0,257.4 75.5,257.6 76.0,256.3 76.5,256.7 77.0,256.0 77.5,256.7 78.0,257.0 78.5,256.7 79.0,256.1 79.5,257.7 80.0,257.7 80.5,257.2 81.0,256.3 81.5,255.9 82.0,257.6 82.5,257.4 83.0,254.5 83.5,256.4 84.0,256.7 84.5,256.1 85.0,257.0 85.5,256.5 86.0,256.9 86.5,255.4 87.0,257.3 87.5,255.4 88.0,258.4 88.5,258.8 89.0,256.7 89.5,258.4 90.0,258.5 90.5,258.8 91.0,258.6 91.5,258.5 92.0,258.6 92.5,257.6 93.0,257.7 93.5,257.2 94.0,257.2 94.5,258.5 95.0,256.0 95.5,257.7 96.0,257.3 96.5,257.5 97.0,258.1 97.5,255.5 98.0,255.9 98.5,257.2 99.0,254.8 99.5,256.0 100.0,257.0 100.5,253.5 101.0,257.2 101.5,256.3 102.0,257.4 102.5,257.1 103.0,255.6 103.5,256.6 104.0,257.2 104.5,258.0 105.0,257.5 105.5,256.6 106.0,256.8 106.5,258.1 107.0,257.4 107.5,256.8 108.0,255.8 108.5,257.4 109.0,255.8 109.5,256.7 110.0,255.8 110.5,255.0 111.0,256.3 111.5,257.3 112.0,257.1 112.5,256.5 113.0,256.9 113.5,257.8 114.0,258.0 114.5,258.0 115.0,256.7 115.5,256.2 116.0,254.5 116.5,256.1 117.0,256.4 117.5,257.2 118.0,256.4 118.5,257.0 119.0,255.1 119.5,256.6 120.0,255.9 120.5,255.6 121.0,254.6 121.5,254.8 122.0,252.7 122.5,254.2 123.0,252.8 123.5,254.5 124.0,254.9 124.5,255.4 125.0,255.5 125.5,257.5 126.0,258.1 126.5,257.1 127.0,257.9 127.5,257.0 128.0,257.6 128.5,255.2 129.0,255.3 129.5,254.8 130.0,254.8 130.5,253.6 131.0,255.1 131.5,255.4 132.0,254.3 132.5,255.6 133.0,254.4 133.5,255.2 134.0,253.8 134.5,251.4 135.0,254.6 135.5,255.0 136.0,255.9 136.5,255.8 137.0,255.2 137.5,256.2 138.0,255.8 138.5,254.6 139.0,256.7 139.5,256.7 140.0,256.7 140.5,256.5 141.0,255.3 141.5,256.9 142.0,255.9 142.5,256.1 143.0,256.6 143.5,255.8 144.0,255.1 144.5,257.6 145.0,257.5 145.5,258.0 146.0,256.3 146.5,256.5 147.0,256.9 147.5,257.0 148.0,257.1 148.5,256.4 149.0,257.2 149.5,257.4 150.0,256.7 150.5,256.9 151.0,256.9 151.5,254.9 152.0,255.8 152.5,257.0 153.0,255.4 153.5,256.7 154.0,256.8 154.5,257.1 155.0,256.7 155.5,255.6 156.0,257.8 156.5,257.7 157.0,256.3 157.5,257.5 158.0,257.2 158.5,258.2 159.0,256.0 159.5,256.5 160.0,256.5 160.5,255.3 161.0,256.0 161.5,256.4 162.0,254.9 162.5,256.6 163.0,256.3 163.5,257.6 164.0,258.0 164.5,257.8 165.0,254.7 165.5,257.8 166.0,257.6 166.5,256.0 167.0,256.3 167.5,255.4 168.0,256.4 168.5,256.6 169.0,255.3 169.5,254.3 169.5,266.4 169.0,264.6 168.5,265.8 168.0,264.4 167.5,266.0 167.0,265.0 166.5,265.4 166.0,268.3 165.5,265.3 165.0,265.3 164.5,264.3 164.0,263.3 163.5,265.9 163.0,265.2 162.5,265.0 162.0,263.4 161.5,266.7 161.0,267.1 160.5,264.2 160.0,265.5 159.5,266.2 159.0,266.2 158.5,268.2 158.0,265.9 157.5,267.8 157.0,265.2 156.5,263.1 156.0,263.1 155.5,264.1 155.0,263.0 154.5,267.0 154.0,264.9 153.5,264.6 153.0,265.6 152.5,265.5 152.0,265.6 151.5,264.7 151.0,264.2 150.5,264.4 150.0,263.6 149.5,263.8 149.0,264.3 148.5,264.0 148.0,264.6 147.5,264.5 147.0,264.2 146.5,263.6 146.0,264.2 145.5,263.9 145.0,263.8 144.5,262.3 144.0,264.9 143.5,265.2 143.0,263.6 142.5,263.3 142.0,263.2 141.5,263.6 141.0,263.5 140.5,263.6 140.0,265.7 139.5,262.4 139.0,261.5 138.5,263.9 138.0,264.5 137.5,261.7 137.0,264.1 136.5,261.9 136.0,262.7 135.5,262.5 135.0,261.8 134.5,263.4 134.0,264.0 133.5,261.7 133.0,262.9 132.5,264.4 132.0,265.0 131.5,265.0 131.0,263.5 130.5,262.8 130.0,263.6 129.5,265.3 129.0,263.2 128.5,262.9 128.0,263.7 127.5,264.8 127.0,263.8 126.5,262.3 126.0,262.8 125.5,262.8 125.0,262.3 124.5,262.4 124.0,263.4 123.5,263.3 123.0,262.0 122.5,263.4 122.0,262.3 121.5,262.9 121.0,263.1 120.5,266.0 120.0,262.7 119.5,263.5 119.0,263.4 118.5,265.0 118.0,264.2 117.5,264.3 117.0,263.8 116.5,264.7 116.0,261.8 115.5,262.7 115.0,264.1 114.5,261.6 114.0,265.7 113.5,261.9 113.0,263.0 112.5,265.2 112.0,264.3 111.5,263.7 111.0,263.8 110.5,263.9 110.0,264.2 109.5,265.4 109.0,263.5 108.5,263.4 108.0,264.9 107.5,265.2 107.0,262.5 106.5,265.3 106.0,261.9 105.5,261.8 105.0,262.0 104.5,263.5 104.0,263.4 103.5,263.2 103.0,262.4 102.5,265.3 102.0,265.5 101.5,265.3 101.0,262.9 100.5,263.1 100.0,263.2 99.5,266.8 99.0,264.1 98.5,267.7 98.0,264.9 97.5,265.0 97.0,266.4 96.5,265.9 96.0,264.6 95.5,265.3 95.0,264.3 94.5,263.8 94.0,265.9 93.5,264.8 93.0,265.0 92.5,264.4 92.0,264.9 91.5,265.2 91.0,264.4 90.5,265.8 90.0,265.6 89.5,263.5 89.0,264.9 88.5,265.2 88.0,263.2 87.5,265.1 87.0,264.0 86.5,264.1 86.0,264.9 85.5,266.3 85.0,264.9 84.5,265.1 84.0,265.6 83.5,264.4 83.0,263.4 82.5,264.1 82.0,263.5 81.5,265.2 81.0,263.7 80.5,262.9 80.0,263.6 79.5,265.8 79.0,264.5 78.5,264.1 78.0,264.9 77.5,264.7 77.0,263.9 76.5,264.1 76.0,266.2 75.5,264.0 75.0,264.2 74.5,263.5 74.0,263.4 73.5,263.4 73.0,263.7 72.5,264.0 72.0,263.3 71.5,263.4 71.0,265.9 70.5,263.7 70.0,265.1 69.5,263.6 69.0,263.7 68.5,263.3 68.0,264.2 67.5,264.7 67.0,265.0 66.5,266.7 66.0,264.0 65.5,262.5 65.0,263.2 64.5,262.9 64.0,265.0 63.5,265.1 63.0,262.5 62.5,264.7 62.0,264.8 61.5,262.1 61.0,262.2 60.5,263.0 60.0,261.8 59.5,263.0 59.0,261.4 58.5,262.3 58.0,264.0 57.5,261.9 57.0,262.2 56.5,263.8 56.0,262.5 55.5,262.6 55.0,262.3 54.5,265.4 54.0,265.7 53.5,263.8 53.0,262.5 52.5,265.5 52.0,263.6 51.5,265.1 51.0,262.7 50.5,263.3 50.0,262.1 49.5,263.2 49.0,263.2 48.5,262.8 48.0,261.6 47.5,262.5 47.0,264.6 46.5,264.5 46.0,262.5 45.5,262.6 45.0,263.5 44.5,266.5 44.0,263.7 43.5,263.3 43.0,264.3 42.5,264.7 42.0,263.1 41.5,263.7 41.0,264.7 40.5,262.2 40.0,262.7 39.5,266.2 39.0,266.3 38.5,265.5 38.0,265.0 37.5,265.2 37.0,264.8 36.5,266.9 36.0,264.3 35.5,265.2 35.0,263.8 34.5,264.2 34.0,262.2 33.5,263.7 33.0,265.0 32.5,265.1 32.0,265.2 31.5,266.7 31.0,263.0 30.5,264.0 30.0,263.1" fill="#1a1718"/>
<line x1="30.30" y1="292.20" x2="30.30" y2="303.60" stroke="#2a2a2a" stroke-width="0.75" stroke-linecap="butt"/>
<line x1="38.50" y1="292.20" x2="38.50" y2="301.50" stroke="#808080" stroke-width="0.8" stroke-linecap="butt"/>
<line x1="78.00" y1="292.20" x2="78.00" y2="301.00" stroke="#808080" stroke-width="0.8" stroke-linecap="butt"/>
<line x1="112.00" y1="292.20" x2="112.00" y2="301.50" stroke="#808080" stroke-width="0.8" stroke-linecap="butt"/>
<line x1="123.80" y1="292.20" x2="123.80" y2="306.00" stroke="#808080" stroke-width="0.8" stroke-linecap="butt"/>
<line x1="137.50" y1="292.20" x2="137.50" y2="309.60" stroke="#808080" stroke-width="0.8" stroke-linecap="butt"/>
<line x1="157.50" y1="292.20" x2="157.50" y2="302.00" stroke="#2a2a2a" stroke-width="0.75" stroke-linecap="butt"/>
<line x1="160.00" y1="292.20" x2="160.00" y2="300.50" stroke="#808080" stroke-width="0.8" stroke-linecap="butt"/>
<polygon points="30.0,287.4 30.5,287.8 31.0,288.7 31.5,288.0 32.0,287.9 32.5,287.2 33.0,286.6 33.5,287.9 34.0,285.6 34.5,286.1 35.0,287.0 35.5,289.1 36.0,289.2 36.5,288.6 37.0,290.2 37.5,289.2 38.0,289.9 38.5,289.3 39.0,289.9 39.5,288.8 40.0,288.8 40.5,289.2 41.0,288.9 41.5,288.6 42.0,288.0 42.5,289.3 43.0,289.6 43.5,289.3 44.0,288.9 44.5,288.9 45.0,289.7 45.5,290.0 46.0,289.0 46.5,289.8 47.0,287.8 47.5,286.5 48.0,289.8 48.5,289.5 49.0,288.5 49.5,288.7 50.0,289.2 50.5,289.4 51.0,290.2 51.5,287.5 52.0,290.2 52.5,289.8 53.0,289.2 53.5,288.9 54.0,289.1 54.5,289.0 55.0,290.0 55.5,289.6 56.0,289.8 56.5,287.5 57.0,288.5 57.5,289.6 58.0,287.6 58.5,288.8 59.0,289.1 59.5,288.6 60.0,288.4 60.5,289.7 61.0,289.6 61.5,290.3 62.0,290.4 62.5,291.0 63.0,290.2 63.5,289.9 64.0,290.0 64.5,290.1 65.0,290.6 65.5,290.0 66.0,289.7 66.5,289.6 67.0,288.9 67.5,289.8 68.0,289.8 68.5,288.3 69.0,290.0 69.5,289.7 70.0,288.5 70.5,289.5 71.0,289.8 71.5,288.9 72.0,289.0 72.5,289.6 73.0,288.7 73.5,289.6 74.0,289.0 74.5,289.6 75.0,287.9 75.5,289.9 76.0,290.5 76.5,287.6 77.0,289.5 77.5,286.8 78.0,288.7 78.5,289.7 79.0,287.9 79.5,285.7 80.0,287.4 80.5,288.6 81.0,288.5 81.5,287.8 82.0,289.4 82.5,286.9 83.0,287.7 83.5,288.3 84.0,289.0 84.5,287.5 85.0,287.7 85.5,289.2 86.0,288.1 86.5,288.9 87.0,288.5 87.5,288.8 88.0,288.8 88.5,287.9 89.0,289.4 89.5,288.0 90.0,289.2 90.5,289.2 91.0,288.4 91.5,289.6 92.0,288.8 92.5,288.0 93.0,287.3 93.5,288.5 94.0,289.1 94.5,289.0 95.0,289.0 95.5,289.1 96.0,289.1 96.5,288.3 97.0,286.9 97.5,287.9 98.0,287.8 98.5,287.6 99.0,287.4 99.5,287.2 100.0,288.4 100.5,288.5 101.0,286.3 101.5,288.7 102.0,288.0 102.5,288.5 103.0,289.5 103.5,288.5 104.0,288.6 104.5,289.3 105.0,289.5 105.5,288.3 106.0,288.7 106.5,285.5 107.0,287.7 107.5,287.2 108.0,288.0 108.5,288.0 109.0,287.0 109.5,287.2 110.0,287.6 110.5,286.5 111.0,287.7 111.5,287.7 112.0,285.8 112.5,287.9 113.0,288.2 113.5,288.5 114.0,287.8 114.5,287.8 115.0,288.7 115.5,287.6 116.0,288.6 116.5,288.2 117.0,288.5 117.5,289.0 118.0,289.0 118.5,287.7 119.0,289.5 119.5,288.9 120.0,288.8 120.5,285.1 121.0,288.6 121.5,287.5 122.0,287.6 122.5,287.5 123.0,286.3 123.5,287.2 124.0,285.1 124.5,287.2 125.0,286.7 125.5,288.7 126.0,287.5 126.5,287.6 127.0,289.2 127.5,288.4 128.0,288.2 128.5,288.8 129.0,288.5 129.5,288.9 130.0,289.4 130.5,288.5 131.0,289.9 131.5,288.6 132.0,287.5 132.5,283.3 133.0,287.5 133.5,286.2 134.0,288.0 134.5,285.4 135.0,285.4 135.5,288.0 136.0,287.8 136.5,288.6 137.0,288.3 137.5,289.1 138.0,289.7 138.5,288.2 139.0,286.3 139.5,288.5 140.0,288.0 140.5,287.7 141.0,288.4 141.5,287.1 142.0,287.7 142.5,289.2 143.0,288.0 143.5,286.1 144.0,288.1 144.5,288.7 145.0,285.8 145.5,287.1 146.0,286.8 146.5,287.5 147.0,288.8 147.5,287.3 148.0,286.5 148.5,288.5 149.0,288.5 149.5,288.8 150.0,287.0 150.5,288.1 151.0,286.7 151.5,286.8 152.0,286.5 152.5,285.8 153.0,286.7 153.5,287.0 154.0,289.1 154.5,288.9 155.0,288.7 155.5,289.5 156.0,289.5 156.5,288.2 157.0,289.2 157.5,288.5 158.0,289.1 158.5,289.9 159.0,289.8 159.5,289.5 160.0,289.1 160.5,289.0 161.0,288.8 161.5,287.8 162.0,287.7 162.5,287.7 163.0,286.0 163.5,287.8 164.0,288.5 164.5,286.3 165.0,287.7 165.5,288.5 166.0,288.7 166.5,287.5 167.0,288.2 167.5,287.2 168.0,288.0 168.5,287.0 169.0,288.2 169.5,286.7 169.5,298.5 169.0,296.7 168.5,296.8 168.0,296.4 167.5,295.0 167.0,295.2 166.5,296.0 166.0,295.4 165.5,297.4 165.0,296.0 164.5,298.1 164.0,295.0 163.5,297.5 163.0,295.7 162.5,295.8 162.0,297.7 161.5,294.1 161.0,294.1 160.5,294.8 160.0,294.0 159.5,294.6 159.0,294.1 158.5,297.5 158.0,295.3 157.5,294.1 157.0,294.9 156.5,295.2 156.0,294.7 155.5,298.1 155.0,296.3 154.5,294.9 154.0,297.8 153.5,294.8 153.0,297.7 152.5,295.4 152.0,295.8 151.5,296.0 151.0,295.2 150.5,295.0 150.0,294.7 149.5,295.1 149.0,294.4 148.5,297.4 148.0,295.7 147.5,296.0 147.0,296.1 146.5,296.0 146.0,296.5 145.5,296.3 145.0,296.9 144.5,297.6 144.0,295.8 143.5,294.9 143.0,294.5 142.5,296.5 142.0,294.9 141.5,294.7 141.0,294.9 140.5,294.2 140.0,296.4 139.5,294.3 139.0,295.3 138.5,297.6 138.0,295.7 137.5,298.6 137.0,295.0 136.5,297.0 136.0,299.9 135.5,295.2 135.0,294.5 134.5,296.0 134.0,298.2 133.5,295.4 133.0,295.2 132.5,296.8 132.0,294.5 131.5,294.6 131.0,297.1 130.5,297.0 130.0,295.4 129.5,298.2 129.0,295.1 128.5,295.0 128.0,296.8 127.5,295.9 127.0,295.4 126.5,297.7 126.0,295.5 125.5,298.0 125.0,297.5 124.5,297.9 124.0,300.8 123.5,297.6 123.0,297.6 122.5,295.3 122.0,298.4 121.5,296.2 121.0,296.3 120.5,299.5 120.0,295.8 119.5,296.0 119.0,294.6 118.5,293.7 118.0,293.5 117.5,294.0 117.0,294.0 116.5,294.8 116.0,296.3 115.5,297.3 115.0,295.4 114.5,296.6 114.0,296.4 113.5,296.6 113.0,298.7 112.5,296.0 112.0,296.0 111.5,295.5 111.0,296.3 110.5,296.3 110.0,298.1 109.5,297.6 109.0,297.0 108.5,296.2 108.0,294.7 107.5,296.8 107.0,296.3 106.5,297.6 106.0,293.8 105.5,293.5 105.0,295.5 104.5,294.0 104.0,293.4 103.5,294.2 103.0,297.2 102.5,294.6 102.0,294.5 101.5,296.3 101.0,294.7 100.5,295.6 100.0,294.6 99.5,295.5 99.0,294.4 98.5,296.5 98.0,298.9 97.5,295.0 97.0,296.1 96.5,297.4 96.0,294.8 95.5,296.4 95.0,297.0 94.5,295.8 94.0,296.9 93.5,296.0 93.0,296.3 92.5,295.9 92.0,297.3 91.5,295.8 91.0,296.2 90.5,298.4 90.0,296.7 89.5,294.7 89.0,295.9 88.5,293.9 88.0,296.4 87.5,294.6 87.0,295.5 86.5,294.6 86.0,295.1 85.5,296.0 85.0,295.0 84.5,296.9 84.0,296.7 83.5,295.4 83.0,295.4 82.5,295.7 82.0,298.5 81.5,297.3 81.0,295.8 80.5,295.8 80.0,295.5 79.5,296.5 79.0,296.3 78.5,294.9 78.0,295.9 77.5,296.6 77.0,295.5 76.5,297.0 76.0,298.8 75.5,295.9 75.0,298.0 74.5,297.4 74.0,295.4 73.5,296.5 73.0,297.6 72.5,297.1 72.0,295.7 71.5,296.2 71.0,298.2 70.5,297.3 70.0,297.1 69.5,298.9 69.0,297.8 68.5,297.0 68.0,299.2 67.5,296.7 67.0,296.1 66.5,296.1 66.0,296.1 65.5,296.1 65.0,298.8 64.5,295.8 64.0,294.8 63.5,296.7 63.0,298.1 62.5,297.2 62.0,296.1 61.5,296.4 61.0,296.1 60.5,297.1 60.0,295.6 59.5,296.0 59.0,296.2 58.5,296.7 58.0,297.4 57.5,297.4 57.0,295.8 56.5,296.7 56.0,299.0 55.5,295.5 55.0,296.0 54.5,295.8 54.0,297.7 53.5,297.1 53.0,295.8 52.5,297.1 52.0,296.9 51.5,296.2 51.0,296.2 50.5,296.7 50.0,298.9 49.5,297.8 49.0,296.5 48.5,297.0 48.0,300.9 47.5,295.1 47.0,297.9 46.5,297.6 46.0,297.3 45.5,297.1 45.0,296.0 44.5,295.5 44.0,296.1 43.5,298.7 43.0,295.8 42.5,297.1 42.0,294.8 41.5,295.5 41.0,295.1 40.5,297.4 40.0,297.4 39.5,297.3 39.0,297.7 38.5,296.5 38.0,295.8 37.5,296.2 37.0,297.6 36.5,295.3 36.0,298.5 35.5,297.0 35.0,296.1 34.5,296.8 34.0,294.3 33.5,294.9 33.0,296.3 32.5,295.6 32.0,295.0 31.5,295.9 31.0,296.9 30.5,295.6 30.0,296.3" fill="#1a1718"/>
<line x1="33.50" y1="325.00" x2="33.50" y2="334.00" stroke="#808080" stroke-width="0.8" stroke-linecap="butt"/>
<line x1="50.60" y1="325.00" x2="50.60" y2="336.90" stroke="#808080" stroke-width="0.8" stroke-linecap="butt"/>
<line x1="70.70" y1="325.00" x2="70.70" y2="335.00" stroke="#2a2a2a" stroke-width="0.75" stroke-linecap="butt"/>
<line x1="100.80" y1="325.00" x2="100.80" y2="339.80" stroke="#2a2a2a" stroke-width="0.75" stroke-linecap="butt"/>
<line x1="153.90" y1="325.00" x2="153.90" y2="334.50" stroke="#2a2a2a" stroke-width="0.75" stroke-linecap="butt"/>
<line x1="164.80" y1="325.00" x2="164.80" y2="340.00" stroke="#808080" stroke-width="0.8" stroke-linecap="butt"/>
<line x1="166.00" y1="325.00" x2="166.00" y2="337.00" stroke="#808080" stroke-width="0.8" stroke-linecap="butt"/>
<polygon points="30.0,319.9 30.5,320.3 31.0,321.0 31.5,321.3 32.0,321.9 32.5,321.7 33.0,321.4 33.5,321.1 34.0,320.9 34.5,322.4 35.0,321.9 35.5,319.9 36.0,321.6 36.5,321.3 37.0,322.2 37.5,320.5 38.0,321.7 38.5,320.9 39.0,320.5 39.5,320.1 40.0,320.7 40.5,321.6 41.0,322.2 41.5,322.4 42.0,320.4 42.5,322.0 43.0,321.4 43.5,321.6 44.0,321.1 44.5,319.2 45.0,321.5 45.5,321.3 46.0,320.2 46.5,319.9 47.0,321.2 47.5,321.7 48.0,321.9 48.5,321.0 49.0,320.6 49.5,318.4 50.0,318.8 50.5,320.5 51.0,321.6 51.5,321.2 52.0,321.6 52.5,322.4 53.0,321.4 53.5,321.9 54.0,320.5 54.5,320.6 55.0,319.7 55.5,320.6 56.0,320.8 56.5,319.1 57.0,321.1 57.5,320.7 58.0,321.5 58.5,320.8 59.0,319.6 59.5,322.8 60.0,321.0 60.5,322.5 61.0,321.9 61.5,321.2 62.0,320.4 62.5,320.4 63.0,319.8 63.5,321.3 64.0,321.6 64.5,320.6 65.0,319.5 65.5,319.6 66.0,321.8 66.5,322.1 67.0,320.3 67.5,322.4 68.0,321.2 68.5,322.4 69.0,322.0 69.5,321.1 70.0,321.4 70.5,320.1 71.0,319.8 71.5,321.1 72.0,320.4 72.5,322.0 73.0,322.3 73.5,321.6 74.0,322.0 74.5,320.9 75.0,322.2 75.5,322.7 76.0,320.2 76.5,320.8 77.0,322.0 77.5,321.8 78.0,321.2 78.5,322.4 79.0,320.1 79.5,321.8 80.0,322.4 80.5,323.2 81.0,321.1 81.5,322.1 82.0,323.1 82.5,321.2 83.0,321.5 83.5,320.9 84.0,321.4 84.5,321.6 85.0,321.3 85.5,320.8 86.0,320.7 86.5,322.0 87.0,320.1 87.5,321.7 88.0,321.7 88.5,322.8 89.0,320.9 89.5,321.3 90.0,321.8 90.5,322.1 91.0,321.5 91.5,321.2 92.0,320.8 92.5,320.1 93.0,321.3 93.5,320.7 94.0,320.7 94.5,320.7 95.0,320.6 95.5,319.5 96.0,320.9 96.5,320.1 97.0,319.6 97.5,321.4 98.0,321.0 98.5,320.6 99.0,322.4 99.5,323.1 100.0,322.6 100.5,322.3 101.0,323.1 101.5,321.9 102.0,322.9 102.5,321.2 103.0,321.2 103.5,319.9 104.0,319.4 104.5,320.3 105.0,320.9 105.5,318.5 106.0,319.5 106.5,320.6 107.0,319.6 107.5,319.3 108.0,320.2 108.5,317.8 109.0,320.2 109.5,319.9 110.0,320.3 110.5,321.1 111.0,321.7 111.5,321.7 112.0,321.7 112.5,322.2 113.0,321.5 113.5,320.6 114.0,321.8 114.5,321.7 115.0,321.1 115.5,319.8 116.0,319.3 116.5,321.0 117.0,321.0 117.5,321.7 118.0,319.8 118.5,320.3 119.0,320.4 119.5,319.5 120.0,319.5 120.5,319.1 121.0,320.2 121.5,321.2 122.0,321.6 122.5,321.8 123.0,321.6 123.5,319.4 124.0,319.5 124.5,321.8 125.0,321.8 125.5,321.5 126.0,322.3 126.5,321.2 127.0,321.5 127.5,319.5 128.0,320.8 128.5,318.5 129.0,319.4 129.5,319.9 130.0,321.1 130.5,321.3 131.0,322.5 131.5,321.5 132.0,320.0 132.5,321.8 133.0,321.1 133.5,320.2 134.0,319.8 134.5,320.6 135.0,320.1 135.5,321.5 136.0,319.5 136.5,319.7 137.0,320.1 137.5,319.3 138.0,320.0 138.5,321.0 139.0,321.3 139.5,320.1 140.0,321.0 140.5,321.5 141.0,321.2 141.5,321.7 142.0,320.1 142.5,321.2 143.0,322.1 143.5,321.2 144.0,322.3 144.5,320.0 145.0,319.8 145.5,322.5 146.0,321.7 146.5,322.0 147.0,321.3 147.5,322.3 148.0,322.0 148.5,322.0 149.0,321.5 149.5,322.6 150.0,322.7 150.5,323.1 151.0,321.8 151.5,323.5 152.0,322.6 152.5,322.7 153.0,321.1 153.5,321.3 154.0,321.4 154.5,321.5 155.0,320.8 155.5,320.3 156.0,321.3 156.5,321.7 157.0,322.1 157.5,319.6 158.0,319.9 158.5,321.0 159.0,321.0 159.5,321.8 160.0,321.9 160.5,320.1 161.0,321.8 161.5,322.2 162.0,320.1 162.5,322.1 163.0,320.8 163.5,321.2 164.0,321.2 164.5,321.1 165.0,319.3 165.5,319.7 166.0,321.7 166.5,321.5 167.0,321.6 167.5,321.6 168.0,321.9 168.5,320.3 169.0,322.4 169.5,321.3 169.5,329.4 169.0,329.8 168.5,330.0 168.0,330.6 167.5,328.8 167.0,329.8 166.5,328.3 166.0,328.3 165.5,327.6 165.0,327.1 164.5,329.6 164.0,328.0 163.5,329.1 163.0,328.8 162.5,328.5 162.0,331.1 161.5,329.2 161.0,331.7 160.5,329.4 160.0,329.0 159.5,328.3 159.0,329.1 158.5,328.2 158.0,327.0 157.5,326.8 157.0,327.3 156.5,330.6 156.0,328.1 155.5,328.6 155.0,328.5 154.5,328.8 154.0,332.2 153.5,333.4 153.0,330.9 152.5,331.2 152.0,329.9 151.5,329.1 151.0,328.9 150.5,328.8 150.0,330.6 149.5,328.8 149.0,331.2 148.5,330.5 148.0,332.0 147.5,328.9 147.0,329.8 146.5,329.9 146.0,331.0 145.5,328.2 145.0,330.9 144.5,329.5 144.0,330.5 143.5,332.6 143.0,330.5 142.5,333.5 142.0,330.6 141.5,328.6 141.0,328.2 140.5,327.2 140.0,327.8 139.5,327.2 139.0,327.4 138.5,329.3 138.0,327.9 137.5,329.8 137.0,327.4 136.5,333.5 136.0,328.8 135.5,329.5 135.0,328.4 134.5,328.9 134.0,331.9 133.5,330.1 133.0,331.7 132.5,331.1 132.0,328.9 131.5,328.8 131.0,329.3 130.5,329.9 130.0,329.3 129.5,326.8 129.0,326.1 128.5,326.4 128.0,327.1 127.5,327.8 127.0,328.8 126.5,328.5 126.0,327.6 125.5,327.6 125.0,328.8 124.5,329.1 124.0,326.6 123.5,327.0 123.0,327.6 122.5,326.2 122.0,326.2 121.5,327.9 121.0,328.0 120.5,328.7 120.0,328.4 119.5,329.5 119.0,328.4 118.5,327.7 118.0,328.3 117.5,328.9 117.0,328.2 116.5,330.9 116.0,329.6 115.5,329.5 115.0,328.6 114.5,328.9 114.0,327.5 113.5,328.8 113.0,331.5 112.5,329.6 112.0,328.9 111.5,329.2 111.0,328.6 110.5,328.8 110.0,328.4 109.5,331.4 109.0,328.0 108.5,328.5 108.0,327.6 107.5,328.5 107.0,328.9 106.5,326.8 106.0,329.4 105.5,329.5 105.0,329.3 104.5,327.2 104.0,328.4 103.5,327.4 103.0,328.4 102.5,328.0 102.0,328.2 101.5,329.5 101.0,327.4 100.5,328.8 100.0,331.8 99.5,328.9 99.0,327.9 98.5,328.6 98.0,329.5 97.5,328.4 97.0,327.6 96.5,327.7 96.0,329.4 95.5,328.5 95.0,327.8 94.5,328.5 94.0,329.1 93.5,330.9 93.0,329.3 92.5,328.8 92.0,327.6 91.5,327.6 91.0,328.1 90.5,327.4 90.0,331.7 89.5,330.3 89.0,328.4 88.5,328.8 88.0,327.7 87.5,327.3 87.0,329.0 86.5,327.5 86.0,326.2 85.5,327.0 85.0,328.7 84.5,328.0 84.0,328.0 83.5,330.5 83.0,328.9 82.5,330.4 82.0,329.8 81.5,328.9 81.0,330.5 80.5,330.5 80.0,333.9 79.5,329.1 79.0,333.8 78.5,329.1 78.0,331.1 77.5,329.4 77.0,330.0 76.5,329.3 76.0,329.5 75.5,330.8 75.0,328.6 74.5,328.8 74.0,329.7 73.5,328.9 73.0,329.0 72.5,329.5 72.0,329.0 71.5,331.3 71.0,329.5 70.5,328.5 70.0,330.0 69.5,328.3 69.0,329.1 68.5,328.6 68.0,330.5 67.5,327.9 67.0,328.8 66.5,329.0 66.0,329.1 65.5,328.2 65.0,329.0 64.5,327.7 64.0,328.0 63.5,328.6 63.0,329.0 62.5,328.2 62.0,327.6 61.5,327.1 61.0,329.9 60.5,329.7 60.0,328.8 59.5,330.8 59.0,328.6 58.5,329.9 58.0,331.2 57.5,329.8 57.0,328.1 56.5,329.3 56.0,327.5 55.5,329.8 55.0,327.8 54.5,327.0 54.0,328.9 53.5,328.2 53.0,327.4 52.5,328.7 52.0,328.3 51.5,329.3 51.0,328.9 50.5,329.7 50.0,330.6 49.5,330.4 49.0,327.7 48.5,329.1 48.0,329.0 47.5,327.6 47.0,328.7 46.5,327.2 46.0,328.4 45.5,327.7 45.0,327.9 44.5,327.6 44.0,329.5 43.5,329.4 43.0,328.5 42.5,328.5 42.0,329.1 41.5,330.5 41.0,328.9 40.5,328.0 40.0,330.3 39.5,330.6 39.0,333.8 38.5,328.9 38.0,328.9 37.5,329.7 37.0,328.6 36.5,328.9 36.0,327.9 35.5,329.8 35.0,328.7 34.5,329.8 34.0,329.2 33.5,328.7 33.0,330.4 32.5,329.8 32.0,329.4 31.5,327.8 31.0,329.6 30.5,330.7 30.0,328.8" fill="#1a1718"/>
<line x1="325.00" y1="197.30" x2="325.00" y2="192.00" stroke="#2a2a2a" stroke-width="0.75" stroke-linecap="butt"/>
<polygon points="198.3,194.8 198.8,193.9 199.3,193.2 199.8,194.6 200.3,193.5 200.8,194.0 201.3,194.3 201.8,194.2 202.3,193.6 202.8,194.1 203.3,193.4 203.8,195.2 204.3,194.5 204.8,194.7 205.3,193.5 205.8,194.7 206.3,193.9 206.8,194.2 207.3,195.2 207.8,195.6 208.3,195.8 208.8,194.8 209.3,193.4 209.8,195.1 210.3,194.1 210.8,193.7 211.3,194.7 211.8,194.1 212.3,193.9 212.8,193.4 213.3,193.0 213.8,193.8 214.3,193.9 214.8,193.5 215.3,194.2 215.8,194.1 216.3,194.0 216.8,194.2 217.3,193.8 217.8,192.6 218.3,193.1 218.8,193.9 219.3,192.6 219.8,193.3 220.3,193.7 220.8,193.7 221.3,193.5 221.8,193.8 222.3,193.6 222.8,194.2 223.3,193.5 223.8,194.3 224.3,194.6 224.8,194.9 225.3,193.8 225.8,194.1 226.3,194.7 226.8,194.5 227.3,194.1 227.8,194.1 228.3,194.3 228.8,194.5 229.3,194.5 229.8,193.8 230.3,192.9 230.8,194.3 231.3,194.5 231.8,194.2 232.3,193.9 232.8,194.4 233.3,193.5 233.8,192.6 234.3,194.0 234.8,192.3 235.3,193.7 235.8,193.5 236.3,193.6 236.8,194.2 237.3,193.2 237.8,193.4 238.3,193.8 238.8,193.5 239.3,194.0 239.8,193.3 240.3,192.8 240.8,192.7 241.3,193.7 241.8,194.4 242.3,194.1 242.8,193.7 243.3,193.8 243.8,194.8 244.3,194.7 244.8,194.0 245.3,194.3 245.8,193.7 246.3,194.0 246.8,194.2 247.3,193.3 247.8,193.9 248.3,193.7 248.8,194.4 249.3,194.3 249.8,193.5 250.3,193.9 250.8,193.4 251.3,193.8 251.8,194.1 252.3,194.2 252.8,194.9 253.3,194.1 253.8,193.3 254.3,195.1 254.8,195.4 255.3,194.5 255.8,193.5 256.3,193.8 256.8,194.0 257.3,194.6 257.8,193.7 258.3,192.7 258.8,193.7 259.3,194.0 259.8,192.9 260.3,192.0 260.8,193.8 261.3,193.2 261.8,193.5 262.3,193.6 262.8,193.5 263.3,192.5 263.8,193.6 264.3,194.0 264.8,193.1 265.3,194.9 265.8,193.0 266.3,193.0 266.8,193.6 267.3,194.3 267.8,194.6 268.3,194.6 268.8,194.2 269.3,194.7 269.8,194.8 270.3,194.7 270.8,194.4 271.3,194.7 271.8,192.9 272.3,194.5 272.8,194.5 273.3,194.6 273.8,193.9 274.3,195.1 274.8,194.2 275.3,192.7 275.8,193.3 276.3,195.1 276.8,195.2 277.3,194.0 277.8,194.9 278.3,194.5 278.8,192.9 279.3,194.7 279.8,193.9 280.3,193.8 280.8,194.5 281.3,194.9 281.8,194.2 282.3,194.4 282.8,194.1 283.3,194.0 283.8,193.5 284.3,194.4 284.8,194.5 285.3,194.4 285.8,193.3 286.3,194.2 286.8,193.6 287.3,194.0 287.8,194.7 288.3,193.8 288.8,194.7 289.3,194.4 289.8,194.4 290.3,194.5 290.8,195.1 291.3,194.6 291.8,195.1 292.3,194.9 292.8,195.3 293.3,194.1 293.8,195.0 294.3,195.1 294.8,194.5 295.3,194.3 295.8,193.8 296.3,193.9 296.8,194.0 297.3,194.3 297.8,194.3 298.3,194.6 298.8,194.7 299.3,193.8 299.8,193.8 300.3,193.0 300.8,191.6 301.3,193.0 301.8,193.0 302.3,192.8 302.8,193.3 303.3,194.0 303.8,194.5 304.3,193.8 304.8,194.8 305.3,193.8 305.8,193.6 306.3,194.5 306.8,194.7 307.3,195.0 307.8,194.1 308.3,194.4 308.8,193.2 309.3,194.3 309.8,193.6 310.3,193.1 310.8,194.0 311.3,193.6 311.8,193.6 312.3,193.5 312.8,193.3 313.3,192.5 313.8,193.9 314.3,194.3 314.8,194.2 315.3,193.2 315.8,193.9 316.3,192.7 316.8,194.2 317.3,193.0 317.8,191.9 318.3,191.7 318.8,193.0 319.3,193.2 319.8,193.4 320.3,191.2 320.8,192.9 321.3,193.4 321.8,193.6 322.3,193.5 322.8,193.6 323.3,191.9 323.8,193.2 324.3,193.7 324.8,194.5 325.3,193.7 325.8,193.9 326.3,194.1 326.8,193.0 327.3,193.8 327.8,194.0 328.3,194.8 328.8,194.4 329.3,193.6 329.8,194.2 330.3,193.7 330.8,193.9 331.3,192.9 331.8,193.8 332.3,192.5 332.8,194.0 333.3,194.5 333.8,193.2 334.3,194.8 334.8,194.1 335.3,193.2 335.8,193.9 336.3,194.0 336.8,193.2 337.3,193.8 337.8,193.8 338.3,194.3 338.8,192.0 338.8,201.1 338.3,200.9 337.8,200.8 337.3,200.5 336.8,201.1 336.3,200.4 335.8,201.4 335.3,200.8 334.8,205.2 334.3,200.9 333.8,201.4 333.3,200.9 332.8,200.5 332.3,201.4 331.8,201.3 331.3,200.1 330.8,201.2 330.3,201.0 329.8,199.2 329.3,200.4 328.8,200.9 328.3,199.3 327.8,200.9 327.3,201.2 326.8,201.1 326.3,201.0 325.8,201.8 325.3,200.1 324.8,200.6 324.3,200.4 323.8,200.5 323.3,200.7 322.8,199.9 322.3,200.5 321.8,202.6 321.3,199.3 320.8,199.7 320.3,201.8 319.8,199.1 319.3,199.7 318.8,200.5 318.3,200.7 317.8,202.7 317.3,202.0 316.8,200.4 316.3,200.4 315.8,201.0 315.3,201.0 314.8,200.0 314.3,200.7 313.8,202.1 313.3,200.7 312.8,199.7 312.3,200.5 311.8,199.7 311.3,199.3 310.8,200.7 310.3,201.4 309.8,200.2 309.3,200.6 308.8,200.3 308.3,200.1 307.8,202.1 307.3,199.7 306.8,199.4 306.3,201.7 305.8,199.7 305.3,199.7 304.8,200.4 304.3,200.3 303.8,199.8 303.3,200.7 302.8,200.8 302.3,201.3 301.8,200.0 301.3,201.5 300.8,201.7 300.3,201.4 299.8,201.9 299.3,203.0 298.8,202.8 298.3,202.8 297.8,203.7 297.3,203.6 296.8,202.7 296.3,201.7 295.8,202.7 295.3,201.5 294.8,201.0 294.3,201.0 293.8,200.8 293.3,200.7 292.8,201.6 292.3,202.0 291.8,202.0 291.3,204.0 290.8,200.9 290.3,199.9 289.8,200.2 289.3,200.8 288.8,201.7 288.3,201.7 287.8,201.0 287.3,202.3 286.8,202.2 286.3,201.3 285.8,203.9 285.3,202.4 284.8,200.5 284.3,202.2 283.8,200.8 283.3,201.2 282.8,200.9 282.3,201.1 281.8,200.7 281.3,202.6 280.8,201.4 280.3,202.1 279.8,202.4 279.3,202.0 278.8,201.8 278.3,202.5 277.8,200.5 277.3,201.0 276.8,201.0 276.3,201.0 275.8,200.0 275.3,201.1 274.8,201.1 274.3,201.5 273.8,200.2 273.3,200.5 272.8,201.3 272.3,200.2 271.8,200.1 271.3,200.1 270.8,200.3 270.3,200.0 269.8,200.2 269.3,200.5 268.8,200.3 268.3,201.5 267.8,202.0 267.3,201.1 266.8,200.6 266.3,201.5 265.8,199.9 265.3,200.9 264.8,200.4 264.3,201.7 263.8,201.7 263.3,201.7 262.8,199.7 262.3,199.9 261.8,200.2 261.3,200.6 260.8,200.1 260.3,200.2 259.8,201.0 259.3,200.3 258.8,199.9 258.3,199.9 257.8,200.8 257.3,201.1 256.8,203.2 256.3,199.8 255.8,200.4 255.3,200.5 254.8,201.3 254.3,201.0 253.8,201.3 253.3,200.0 252.8,200.9 252.3,199.5 251.8,200.2 251.3,200.8 250.8,201.9 250.3,200.1 249.8,200.2 249.3,200.0 248.8,200.6 248.3,200.1 247.8,201.3 247.3,200.3 246.8,200.1 246.3,200.2 245.8,200.7 245.3,200.6 244.8,201.8 244.3,200.6 243.8,200.5 243.3,201.9 242.8,200.3 242.3,200.7 241.8,199.3 241.3,199.3 240.8,199.5 240.3,200.5 239.8,201.9 239.3,201.0 238.8,200.2 238.3,201.7 237.8,200.6 237.3,201.3 236.8,200.3 236.3,200.4 235.8,201.3 235.3,201.0 234.8,200.4 234.3,202.9 233.8,201.4 233.3,201.3 232.8,200.8 232.3,201.5 231.8,200.1 231.3,201.3 230.8,201.1 230.3,200.7 229.8,200.5 229.3,200.5 228.8,199.8 228.3,200.6 227.8,199.9 227.3,200.2 226.8,199.6 226.3,205.8 225.8,201.6 225.3,200.3 224.8,200.3 224.3,199.9 223.8,201.2 223.3,200.6 222.8,200.9 222.3,200.4 221.8,201.4 221.3,199.2 220.8,202.0 220.3,201.5 219.8,199.9 219.3,201.5 218.8,201.0 218.3,200.7 217.8,201.9 217.3,200.5 216.8,200.9 216.3,200.9 215.8,203.3 215.3,200.2 214.8,201.0 214.3,200.5 213.8,199.7 213.3,200.8 212.8,200.6 212.3,200.3 211.8,199.9 211.3,199.9 210.8,200.7 210.3,201.2 209.8,200.9 209.3,200.4 208.8,202.1 208.3,200.7 207.8,201.6 207.3,201.3 206.8,201.2 206.3,200.7 205.8,200.9 205.3,203.8 204.8,201.8 204.3,200.4 203.8,201.8 203.3,200.6 202.8,200.8 202.3,200.8 201.8,201.9 201.3,201.7 200.8,200.4 200.3,200.0 199.8,204.0 199.3,199.7 198.8,200.2 198.3,201.1" fill="#1a1718"/>
<line x1="235.70" y1="229.30" x2="235.70" y2="237.60" stroke="#808080" stroke-width="0.8" stroke-linecap="butt"/>
<line x1="325.70" y1="229.30" x2="325.70" y2="240.80" stroke="#2a2a2a" stroke-width="0.75" stroke-linecap="butt"/>
<polygon points="198.3,226.5 198.8,226.1 199.3,226.1 199.8,227.0 200.3,225.9 200.8,226.6 201.3,226.3 201.8,225.3 202.3,226.1 202.8,225.9 203.3,225.3 203.8,224.9 204.3,225.5 204.8,224.9 205.3,226.0 205.8,225.7 206.3,224.8 206.8,226.4 207.3,226.7 207.8,225.5 208.3,226.1 208.8,226.1 209.3,226.0 209.8,226.3 210.3,225.4 210.8,225.7 211.3,226.2 211.8,225.6 212.3,226.1 212.8,226.7 213.3,226.3 213.8,224.5 214.3,224.3 214.8,226.4 215.3,225.9 215.8,226.1 216.3,226.2 216.8,225.0 217.3,226.3 217.8,225.9 218.3,226.3 218.8,224.4 219.3,226.2 219.8,226.9 220.3,226.0 220.8,225.1 221.3,226.5 221.8,226.1 222.3,226.2 222.8,225.6 223.3,224.6 223.8,225.0 224.3,224.8 224.8,224.9 225.3,225.1 225.8,224.9 226.3,224.6 226.8,223.9 227.3,224.9 227.8,224.9 228.3,224.7 228.8,225.9 229.3,226.0 229.8,223.7 230.3,225.5 230.8,226.6 231.3,226.5 231.8,226.7 232.3,226.3 232.8,226.0 233.3,226.1 233.8,223.9 234.3,225.0 234.8,225.5 235.3,225.2 235.8,225.4 236.3,225.6 236.8,225.1 237.3,224.0 237.8,225.6 238.3,225.5 238.8,226.8 239.3,226.3 239.8,227.0 240.3,226.3 240.8,226.5 241.3,227.3 241.8,224.4 242.3,225.8 242.8,225.7 243.3,225.4 243.8,225.4 244.3,226.2 244.8,226.1 245.3,226.1 245.8,226.1 246.3,227.2 246.8,226.6 247.3,227.1 247.8,225.7 248.3,224.7 248.8,226.3 249.3,225.1 249.8,225.2 250.3,225.0 250.8,224.8 251.3,225.3 251.8,224.2 252.3,224.5 252.8,225.4 253.3,225.9 253.8,225.6 254.3,224.6 254.8,225.3 255.3,225.9 255.8,225.5 256.3,225.4 256.8,225.0 257.3,225.0 257.8,225.6 258.3,225.1 258.8,225.4 259.3,223.8 259.8,224.9 260.3,223.9 260.8,222.9 261.3,224.9 261.8,225.1 262.3,224.9 262.8,224.8 263.3,224.9 263.8,225.1 264.3,224.1 264.8,224.9 265.3,225.0 265.8,225.0 266.3,226.1 266.8,225.6 267.3,225.4 267.8,226.2 268.3,226.1 268.8,226.8 269.3,225.7 269.8,225.5 270.3,224.9 270.8,225.3 271.3,224.8 271.8,224.9 272.3,225.0 272.8,223.9 273.3,224.8 273.8,225.4 274.3,225.6 274.8,223.6 275.3,225.1 275.8,225.7 276.3,223.9 276.8,223.8 277.3,224.7 277.8,223.9 278.3,224.3 278.8,224.1 279.3,224.0 279.8,225.2 280.3,225.0 280.8,224.4 281.3,224.6 281.8,225.3 282.3,225.2 282.8,224.5 283.3,225.8 283.8,225.5 284.3,225.4 284.8,225.7 285.3,224.1 285.8,224.1 286.3,224.8 286.8,225.5 287.3,226.1 287.8,225.0 288.3,225.7 288.8,226.4 289.3,225.3 289.8,227.1 290.3,225.5 290.8,225.8 291.3,225.9 291.8,226.1 292.3,226.2 292.8,224.7 293.3,225.8 293.8,225.9 294.3,226.3 294.8,226.2 295.3,225.5 295.8,226.0 296.3,226.6 296.8,226.5 297.3,226.2 297.8,225.1 298.3,225.9 298.8,226.4 299.3,224.0 299.8,226.2 300.3,224.9 300.8,226.0 301.3,225.5 301.8,225.7 302.3,226.1 302.8,225.3 303.3,225.2 303.8,226.7 304.3,226.9 304.8,224.7 305.3,225.4 305.8,226.4 306.3,226.3 306.8,225.5 307.3,225.2 307.8,224.9 308.3,225.5 308.8,224.2 309.3,224.8 309.8,224.1 310.3,224.8 310.8,225.1 311.3,225.6 311.8,225.6 312.3,225.6 312.8,224.4 313.3,225.1 313.8,225.3 314.3,225.8 314.8,226.0 315.3,226.2 315.8,224.3 316.3,225.7 316.8,225.8 317.3,225.0 317.8,225.5 318.3,224.9 318.8,224.8 319.3,225.5 319.8,225.2 320.3,224.5 320.8,223.3 321.3,225.1 321.8,225.8 322.3,224.1 322.8,225.2 323.3,225.7 323.8,225.9 324.3,226.3 324.8,225.4 325.3,226.1 325.8,225.0 326.3,225.4 326.8,225.6 327.3,225.1 327.8,225.6 328.3,225.0 328.8,226.9 329.3,226.7 329.8,225.0 330.3,226.7 330.8,225.8 331.3,225.2 331.8,226.5 332.3,225.0 332.8,226.3 333.3,225.8 333.8,224.3 334.3,225.5 334.8,226.5 335.3,225.2 335.8,225.3 336.3,225.9 336.8,226.3 337.3,226.0 337.8,226.7 338.3,226.8 338.8,226.4 338.8,232.5 338.3,232.7 337.8,233.1 337.3,232.0 336.8,232.2 336.3,232.7 335.8,231.5 335.3,232.3 334.8,232.3 334.3,232.4 333.8,233.6 333.3,232.0 332.8,232.6 332.3,232.8 331.8,233.2 331.3,232.8 330.8,233.1 330.3,234.7 329.8,233.7 329.3,233.8 328.8,232.6 328.3,232.5 327.8,232.7 327.3,232.7 326.8,232.3 326.3,231.8 325.8,231.6 325.3,233.5 324.8,232.3 324.3,231.8 323.8,231.9 323.3,233.7 322.8,233.0 322.3,232.0 321.8,231.8 321.3,232.9 320.8,232.2 320.3,233.2 319.8,232.9 319.3,232.1 318.8,234.0 318.3,233.0 317.8,233.3 317.3,231.3 316.8,232.4 316.3,233.1 315.8,232.4 315.3,232.4 314.8,232.6 314.3,233.3 313.8,233.0 313.3,234.2 312.8,233.6 312.3,233.1 311.8,232.9 311.3,233.8 310.8,232.6 310.3,235.7 309.8,232.9 309.3,233.5 308.8,232.6 308.3,232.1 307.8,231.8 307.3,231.9 306.8,231.7 306.3,231.0 305.8,232.7 305.3,231.0 304.8,231.3 304.3,231.3 303.8,231.9 303.3,230.9 302.8,232.6 302.3,231.7 301.8,231.2 301.3,231.3 300.8,232.4 300.3,230.8 299.8,231.5 299.3,232.4 298.8,230.9 298.3,232.8 297.8,231.5 297.3,231.0 296.8,230.6 296.3,233.1 295.8,231.2 295.3,231.4 294.8,232.7 294.3,232.3 293.8,233.2 293.3,233.2 292.8,234.6 292.3,233.4 291.8,233.5 291.3,232.4 290.8,233.3 290.3,232.6 289.8,232.5 289.3,231.1 288.8,233.4 288.3,233.0 287.8,232.5 287.3,231.5 286.8,232.2 286.3,231.9 285.8,232.1 285.3,232.2 284.8,231.2 284.3,232.3 283.8,231.8 283.3,232.1 282.8,231.2 282.3,234.1 281.8,233.2 281.3,232.0 280.8,231.7 280.3,233.4 279.8,233.2 279.3,233.5 278.8,232.7 278.3,231.9 277.8,232.5 277.3,232.6 276.8,232.5 276.3,233.2 275.8,232.9 275.3,231.7 274.8,232.3 274.3,234.0 273.8,232.3 273.3,231.6 272.8,231.1 272.3,234.0 271.8,232.5 271.3,231.5 270.8,232.2 270.3,232.9 269.8,231.9 269.3,233.2 268.8,232.2 268.3,232.0 267.8,233.1 267.3,232.1 266.8,234.5 266.3,232.0 265.8,233.5 265.3,233.4 264.8,231.4 264.3,232.7 263.8,232.6 263.3,233.3 262.8,231.9 262.3,233.9 261.8,233.5 261.3,234.2 260.8,231.9 260.3,232.2 259.8,233.3 259.3,232.4 258.8,231.3 258.3,231.3 257.8,231.7 257.3,233.0 256.8,233.5 256.3,232.0 255.8,234.2 255.3,233.0 254.8,234.6 254.3,232.5 253.8,231.7 253.3,232.0 252.8,232.0 252.3,232.7 251.8,232.8 251.3,233.5 250.8,233.0 250.3,232.0 249.8,234.8 249.3,233.3 248.8,232.1 248.3,232.1 247.8,232.4 247.3,231.9 246.8,232.8 246.3,231.4 245.8,231.4 245.3,232.5 244.8,231.5 244.3,231.9 243.8,231.4 243.3,232.6 242.8,231.8 242.3,233.1 241.8,233.0 241.3,232.3 240.8,231.8 240.3,231.8 239.8,232.5 239.3,231.9 238.8,231.7 238.3,231.7 237.8,232.5 237.3,234.4 236.8,233.4 236.3,234.8 235.8,233.9 235.3,234.1 234.8,233.2 234.3,232.8 233.8,232.9 233.3,231.9 232.8,232.8 232.3,231.7 231.8,233.5 231.3,231.6 230.8,232.2 230.3,232.2 229.8,233.2 229.3,232.9 228.8,233.7 228.3,232.3 227.8,232.8 227.3,232.0 226.8,232.4 226.3,232.2 225.8,231.9 225.3,232.6 224.8,232.6 224.3,232.6 223.8,232.8 223.3,232.8 222.8,232.1 222.3,233.4 221.8,232.2 221.3,232.2 220.8,233.7 220.3,234.2 219.8,233.0 219.3,233.3 218.8,232.4 218.3,233.4 217.8,233.5 217.3,232.4 216.8,233.6 216.3,232.6 215.8,232.7 215.3,234.4 214.8,232.7 214.3,234.8 213.8,232.5 213.3,232.4 212.8,232.7 212.3,232.6 211.8,232.0 211.3,233.7 210.8,233.5 210.3,232.3 209.8,234.4 209.3,232.1 208.8,231.9 208.3,234.7 207.8,234.3 207.3,232.5 206.8,232.8 206.3,232.5 205.8,232.5 205.3,232.5 204.8,233.2 204.3,234.3 203.8,232.8 203.3,232.7 202.8,234.6 202.3,232.6 201.8,231.8 201.3,232.2 200.8,232.8 200.3,234.6 199.8,233.2 199.3,233.3 198.8,234.4 198.3,234.5" fill="#1a1718"/>
<line x1="317.00" y1="259.90" x2="317.00" y2="269.00" stroke="#2a2a2a" stroke-width="0.75" stroke-linecap="butt"/>
<line x1="249.00" y1="259.90" x2="249.00" y2="266.50" stroke="#808080" stroke-width="0.8" stroke-linecap="butt"/>
<polygon points="198.3,254.4 198.8,256.1 199.3,256.0 199.8,255.8 200.3,256.3 200.8,256.5 201.3,255.3 201.8,256.3 202.3,256.7 202.8,255.7 203.3,256.0 203.8,256.3 204.3,255.7 204.8,257.9 205.3,258.1 205.8,257.7 206.3,257.2 206.8,257.3 207.3,256.5 207.8,257.2 208.3,257.1 208.8,256.5 209.3,257.0 209.8,255.7 210.3,256.8 210.8,257.1 211.3,257.1 211.8,258.2 212.3,256.9 212.8,257.0 213.3,254.7 213.8,256.6 214.3,255.7 214.8,256.6 215.3,256.9 215.8,257.4 216.3,256.2 216.8,256.8 217.3,257.2 217.8,256.8 218.3,255.9 218.8,257.1 219.3,255.8 219.8,256.7 220.3,255.9 220.8,256.7 221.3,256.2 221.8,257.1 222.3,255.7 222.8,257.0 223.3,257.4 223.8,256.4 224.3,256.2 224.8,256.5 225.3,256.3 225.8,257.2 226.3,255.8 226.8,254.7 227.3,256.0 227.8,257.2 228.3,257.0 228.8,256.4 229.3,257.0 229.8,257.1 230.3,255.9 230.8,257.4 231.3,255.2 231.8,257.2 232.3,257.3 232.8,256.5 233.3,257.1 233.8,255.6 234.3,256.1 234.8,254.9 235.3,255.1 235.8,253.8 236.3,254.9 236.8,254.6 237.3,256.0 237.8,256.0 238.3,255.2 238.8,256.2 239.3,257.6 239.8,257.1 240.3,257.2 240.8,256.7 241.3,257.6 241.8,257.0 242.3,257.0 242.8,256.5 243.3,256.3 243.8,256.9 244.3,257.6 244.8,255.5 245.3,256.5 245.8,256.3 246.3,257.5 246.8,256.7 247.3,256.4 247.8,255.9 248.3,256.3 248.8,257.0 249.3,255.9 249.8,256.1 250.3,257.1 250.8,256.6 251.3,256.8 251.8,257.3 252.3,255.7 252.8,256.0 253.3,255.2 253.8,255.5 254.3,256.1 254.8,256.4 255.3,253.5 255.8,256.5 256.3,255.8 256.8,254.9 257.3,255.0 257.8,255.4 258.3,255.4 258.8,256.1 259.3,256.1 259.8,255.4 260.3,254.7 260.8,256.6 261.3,257.0 261.8,257.2 262.3,256.0 262.8,256.9 263.3,257.3 263.8,257.4 264.3,256.9 264.8,254.8 265.3,256.3 265.8,255.1 266.3,255.4 266.8,255.5 267.3,255.7 267.8,256.0 268.3,256.7 268.8,256.5 269.3,255.5 269.8,256.3 270.3,256.1 270.8,256.6 271.3,256.8 271.8,256.8 272.3,256.0 272.8,256.7 273.3,256.9 273.8,257.1 274.3,257.2 274.8,256.8 275.3,256.0 275.8,256.7 276.3,255.9 276.8,256.5 277.3,256.0 277.8,255.2 278.3,255.8 278.8,256.4 279.3,256.9 279.8,256.7 280.3,255.4 280.8,256.3 281.3,256.3 281.8,256.1 282.3,256.6 282.8,256.4 283.3,255.8 283.8,256.2 284.3,257.1 284.8,257.2 285.3,257.0 285.8,256.6 286.3,256.3 286.8,256.2 287.3,256.6 287.8,254.1 288.3,254.1 288.8,255.9 289.3,256.1 289.8,256.6 290.3,256.3 290.8,255.3 291.3,256.7 291.8,256.4 292.3,257.2 292.8,257.3 293.3,255.1 293.8,256.4 294.3,255.2 294.8,256.7 295.3,255.5 295.8,255.4 296.3,253.7 296.8,256.0 297.3,256.1 297.8,255.4 298.3,254.1 298.8,256.2 299.3,255.4 299.8,256.1 300.3,255.7 300.8,254.4 301.3,256.7 301.8,256.5 302.3,256.4 302.8,256.3 303.3,256.9 303.8,256.6 304.3,256.9 304.8,257.2 305.3,255.7 305.8,256.9 306.3,256.9 306.8,257.0 307.3,255.8 307.8,256.3 308.3,254.9 308.8,257.4 309.3,257.5 309.8,256.8 310.3,257.0 310.8,256.9 311.3,257.0 311.8,254.9 312.3,257.3 312.8,256.5 313.3,255.5 313.8,255.3 314.3,257.1 314.8,255.5 315.3,257.0 315.8,257.0 316.3,257.2 316.8,257.3 317.3,256.8 317.8,256.0 318.3,256.4 318.8,257.4 319.3,257.2 319.8,256.5 320.3,257.1 320.8,256.2 321.3,255.8 321.8,256.3 322.3,254.4 322.8,254.3 323.3,256.2 323.8,255.8 324.3,256.2 324.8,256.2 325.3,255.6 325.8,257.0 326.3,256.3 326.8,256.5 327.3,255.2 327.8,256.4 328.3,255.0 328.8,256.6 329.3,256.4 329.8,256.5 330.3,255.4 330.8,255.2 331.3,255.2 331.8,256.1 332.3,256.2 332.8,256.7 333.3,256.2 333.8,256.8 334.3,257.0 334.8,255.2 335.3,256.7 335.8,256.6 336.3,256.3 336.8,256.3 337.3,256.7 337.8,256.8 338.3,257.3 338.8,256.7 338.8,263.8 338.3,263.5 337.8,264.3 337.3,263.9 336.8,264.4 336.3,265.7 335.8,263.7 335.3,262.6 334.8,262.1 334.3,263.1 333.8,262.4 333.3,263.9 332.8,262.4 332.3,263.3 331.8,265.0 331.3,263.1 330.8,264.0 330.3,263.3 329.8,264.5 329.3,264.0 328.8,263.3 328.3,264.9 327.8,263.4 327.3,263.3 326.8,262.5 326.3,264.1 325.8,262.1 325.3,263.2 324.8,262.5 324.3,263.0 323.8,263.2 323.3,263.1 322.8,264.9 322.3,267.0 321.8,263.5 321.3,265.9 320.8,265.4 320.3,263.8 319.8,265.2 319.3,266.9 318.8,264.2 318.3,263.8 317.8,266.8 317.3,264.0 316.8,266.5 316.3,264.7 315.8,263.2 315.3,263.3 314.8,264.1 314.3,263.5 313.8,263.0 313.3,263.7 312.8,262.8 312.3,262.6 311.8,262.6 311.3,262.6 310.8,262.9 310.3,264.8 309.8,262.9 309.3,264.4 308.8,265.5 308.3,263.3 307.8,262.6 307.3,263.7 306.8,263.1 306.3,262.5 305.8,263.7 305.3,265.0 304.8,262.4 304.3,262.3 303.8,263.5 303.3,262.1 302.8,263.0 302.3,263.1 301.8,263.2 301.3,263.0 300.8,264.9 300.3,262.8 299.8,264.5 299.3,262.9 298.8,262.9 298.3,264.5 297.8,264.0 297.3,265.7 296.8,262.2 296.3,262.4 295.8,263.3 295.3,264.2 294.8,263.5 294.3,264.5 293.8,265.9 293.3,263.1 292.8,264.4 292.3,262.5 291.8,263.0 291.3,265.9 290.8,264.4 290.3,262.6 289.8,263.3 289.3,264.2 288.8,263.1 288.3,262.0 287.8,261.9 287.3,263.1 286.8,262.8 286.3,262.5 285.8,262.6 285.3,264.1 284.8,263.6 284.3,263.3 283.8,261.9 283.3,262.5 282.8,262.3 282.3,262.1 281.8,261.9 281.3,263.8 280.8,263.5 280.3,262.5 279.8,262.6 279.3,262.2 278.8,262.5 278.3,263.4 277.8,263.8 277.3,263.0 276.8,263.8 276.3,262.9 275.8,262.6 275.3,262.7 274.8,263.1 274.3,263.3 273.8,263.7 273.3,262.8 272.8,261.6 272.3,262.5 271.8,261.7 271.3,263.1 270.8,262.8 270.3,262.0 269.8,263.4 269.3,262.8 268.8,262.9 268.3,262.4 267.8,263.2 267.3,263.1 266.8,263.4 266.3,264.3 265.8,263.1 265.3,265.3 264.8,265.3 264.3,263.7 263.8,263.8 263.3,264.0 262.8,262.6 262.3,263.4 261.8,262.5 261.3,262.9 260.8,264.0 260.3,263.0 259.8,264.1 259.3,264.5 258.8,262.4 258.3,262.9 257.8,263.1 257.3,262.1 256.8,263.3 256.3,263.9 255.8,262.3 255.3,262.7 254.8,262.3 254.3,263.1 253.8,262.5 253.3,263.4 252.8,262.8 252.3,262.3 251.8,262.4 251.3,261.6 250.8,263.4 250.3,262.4 249.8,263.6 249.3,263.8 248.8,263.5 248.3,263.2 247.8,263.5 247.3,264.6 246.8,265.9 246.3,262.6 245.8,264.7 245.3,266.2 244.8,262.2 244.3,263.5 243.8,262.7 243.3,262.3 242.8,262.9 242.3,262.1 241.8,263.1 241.3,264.2 240.8,263.2 240.3,261.8 239.8,262.0 239.3,262.5 238.8,263.6 238.3,263.6 237.8,265.4 237.3,263.6 236.8,262.5 236.3,262.7 235.8,262.1 235.3,262.3 234.8,263.8 234.3,262.7 233.8,262.6 233.3,262.4 232.8,263.8 232.3,264.9 231.8,264.8 231.3,262.6 230.8,262.3 230.3,262.2 229.8,263.7 229.3,264.0 228.8,262.2 228.3,262.1 227.8,265.0 227.3,262.6 226.8,263.8 226.3,264.3 225.8,263.1 225.3,263.9 224.8,264.4 224.3,264.3 223.8,264.6 223.3,263.2 222.8,263.0 222.3,264.6 221.8,263.2 221.3,264.9 220.8,264.0 220.3,263.7 219.8,262.7 219.3,263.7 218.8,262.1 218.3,262.7 217.8,261.9 217.3,263.2 216.8,263.3 216.3,263.7 215.8,262.4 215.3,262.7 214.8,262.6 214.3,264.3 213.8,263.0 213.3,263.0 212.8,263.1 212.3,263.1 211.8,263.6 211.3,264.5 210.8,263.6 210.3,263.3 209.8,265.0 209.3,267.4 208.8,264.0 208.3,264.7 207.8,263.4 207.3,263.4 206.8,263.3 206.3,262.0 205.8,262.1 205.3,262.0 204.8,261.8 204.3,261.7 203.8,262.6 203.3,263.0 202.8,262.9 202.3,263.8 201.8,262.8 201.3,264.7 200.8,264.8 200.3,263.5 199.8,264.3 199.3,262.9 198.8,263.5 198.3,263.4" fill="#1a1718"/>
<line x1="209.10" y1="291.90" x2="209.10" y2="299.00" stroke="#2a2a2a" stroke-width="0.75" stroke-linecap="butt"/>
<line x1="228.90" y1="291.90" x2="228.90" y2="303.00" stroke="#808080" stroke-width="0.8" stroke-linecap="butt"/>
<line x1="235.00" y1="291.90" x2="235.00" y2="301.00" stroke="#2a2a2a" stroke-width="0.75" stroke-linecap="butt"/>
<line x1="263.40" y1="291.90" x2="263.40" y2="300.00" stroke="#808080" stroke-width="0.8" stroke-linecap="butt"/>
<line x1="269.50" y1="291.90" x2="269.50" y2="304.60" stroke="#2a2a2a" stroke-width="0.75" stroke-linecap="butt"/>
<line x1="338.20" y1="291.90" x2="338.20" y2="300.50" stroke="#2a2a2a" stroke-width="0.75" stroke-linecap="butt"/>
<polygon points="198.3,289.4 198.8,289.0 199.3,287.8 199.8,287.9 200.3,289.1 200.8,287.2 201.3,289.5 201.8,288.4 202.3,288.6 202.8,287.6 203.3,288.3 203.8,288.2 204.3,287.5 204.8,287.8 205.3,288.7 205.8,288.4 206.3,289.0 206.8,286.5 207.3,289.1 207.8,287.9 208.3,288.1 208.8,286.7 209.3,288.6 209.8,289.1 210.3,288.1 210.8,289.2 211.3,289.4 211.8,289.3 212.3,288.4 212.8,288.9 213.3,289.0 213.8,288.6 214.3,287.2 214.8,289.1 215.3,289.2 215.8,288.6 216.3,288.9 216.8,289.1 217.3,288.8 217.8,288.9 218.3,286.9 218.8,288.2 219.3,287.8 219.8,286.5 220.3,288.8 220.8,288.3 221.3,287.3 221.8,288.8 222.3,287.6 222.8,287.6 223.3,288.3 223.8,287.5 224.3,287.6 224.8,288.5 225.3,288.6 225.8,287.6 226.3,287.6 226.8,287.2 227.3,289.0 227.8,288.5 228.3,288.4 228.8,289.3 229.3,289.8 229.8,290.5 230.3,290.1 230.8,288.8 231.3,288.9 231.8,289.0 232.3,289.1 232.8,290.0 233.3,289.4 233.8,288.2 234.3,288.7 234.8,289.5 235.3,289.0 235.8,289.2 236.3,289.7 236.8,290.0 237.3,289.6 237.8,289.4 238.3,290.0 238.8,288.7 239.3,288.5 239.8,289.9 240.3,289.2 240.8,287.0 241.3,288.1 241.8,287.8 242.3,288.4 242.8,289.3 243.3,289.4 243.8,289.7 244.3,289.4 244.8,288.8 245.3,289.2 245.8,289.8 246.3,290.1 246.8,288.6 247.3,289.5 247.8,288.8 248.3,289.7 248.8,287.9 249.3,288.4 249.8,289.0 250.3,289.5 250.8,289.0 251.3,289.8 251.8,289.7 252.3,289.6 252.8,290.0 253.3,290.1 253.8,290.3 254.3,290.1 254.8,290.0 255.3,290.5 255.8,289.8 256.3,289.8 256.8,287.6 257.3,288.7 257.8,289.8 258.3,289.1 258.8,288.8 259.3,288.6 259.8,288.8 260.3,289.4 260.8,289.3 261.3,289.2 261.8,289.0 262.3,288.6 262.8,288.2 263.3,287.8 263.8,288.9 264.3,287.9 264.8,288.1 265.3,288.7 265.8,288.9 266.3,289.2 266.8,289.7 267.3,288.9 267.8,288.1 268.3,289.3 268.8,288.4 269.3,288.1 269.8,288.9 270.3,287.4 270.8,287.7 271.3,288.5 271.8,288.4 272.3,288.3 272.8,288.3 273.3,287.6 273.8,288.8 274.3,288.8 274.8,287.2 275.3,288.5 275.8,289.4 276.3,288.4 276.8,289.0 277.3,289.3 277.8,288.9 278.3,288.2 278.8,289.9 279.3,289.9 279.8,288.6 280.3,288.1 280.8,288.5 281.3,289.6 281.8,289.6 282.3,288.5 282.8,288.7 283.3,289.0 283.8,289.0 284.3,289.5 284.8,288.9 285.3,289.7 285.8,289.2 286.3,288.2 286.8,288.4 287.3,287.8 287.8,287.0 288.3,288.9 288.8,287.9 289.3,287.4 289.8,287.9 290.3,289.0 290.8,287.7 291.3,288.2 291.8,287.8 292.3,288.6 292.8,286.6 293.3,288.8 293.8,289.2 294.3,289.6 294.8,289.5 295.3,288.6 295.8,288.2 296.3,289.8 296.8,289.5 297.3,289.5 297.8,288.4 298.3,288.7 298.8,289.0 299.3,289.1 299.8,289.2 300.3,289.3 300.8,289.3 301.3,288.8 301.8,288.4 302.3,288.2 302.8,288.5 303.3,288.0 303.8,288.2 304.3,288.9 304.8,288.4 305.3,288.7 305.8,289.5 306.3,289.1 306.8,289.6 307.3,289.4 307.8,288.6 308.3,287.6 308.8,288.2 309.3,288.0 309.8,288.6 310.3,287.7 310.8,287.0 311.3,287.6 311.8,288.4 312.3,288.0 312.8,289.0 313.3,288.6 313.8,289.0 314.3,287.9 314.8,288.6 315.3,288.2 315.8,288.0 316.3,288.2 316.8,287.6 317.3,288.8 317.8,288.6 318.3,289.0 318.8,287.8 319.3,288.8 319.8,288.2 320.3,289.1 320.8,288.6 321.3,288.6 321.8,288.6 322.3,287.3 322.8,287.9 323.3,287.2 323.8,288.0 324.3,288.0 324.8,286.6 325.3,287.7 325.8,287.6 326.3,288.4 326.8,287.8 327.3,288.9 327.8,288.8 328.3,288.6 328.8,288.4 329.3,289.3 329.8,289.8 330.3,287.8 330.8,288.9 331.3,289.2 331.8,288.1 332.3,288.6 332.8,288.7 333.3,288.9 333.8,288.9 334.3,288.7 334.8,288.5 335.3,289.2 335.8,288.6 336.3,288.6 336.8,289.5 337.3,286.8 337.8,289.7 338.3,288.7 338.8,289.4 338.8,295.5 338.3,295.7 337.8,296.1 337.3,296.0 336.8,296.5 336.3,297.0 335.8,296.1 335.3,296.1 334.8,297.0 334.3,296.0 333.8,296.0 333.3,296.3 332.8,295.0 332.3,296.2 331.8,295.6 331.3,294.4 330.8,294.8 330.3,295.7 329.8,295.9 329.3,296.0 328.8,296.0 328.3,295.5 327.8,295.7 327.3,297.2 326.8,295.3 326.3,295.0 325.8,296.1 325.3,296.2 324.8,296.1 324.3,296.5 323.8,295.0 323.3,294.9 322.8,297.2 322.3,296.6 321.8,296.9 321.3,297.8 320.8,294.9 320.3,297.1 319.8,295.8 319.3,296.7 318.8,296.9 318.3,295.3 317.8,295.3 317.3,296.0 316.8,295.9 316.3,295.1 315.8,295.5 315.3,294.5 314.8,294.3 314.3,294.3 313.8,295.2 313.3,294.3 312.8,296.1 312.3,294.7 311.8,295.0 311.3,295.8 310.8,295.1 310.3,296.4 309.8,294.9 309.3,295.3 308.8,296.0 308.3,295.7 307.8,294.4 307.3,294.1 306.8,294.7 306.3,295.2 305.8,295.0 305.3,295.8 304.8,296.5 304.3,295.4 303.8,294.6 303.3,294.9 302.8,296.0 302.3,295.1 301.8,295.0 301.3,298.2 300.8,298.6 300.3,295.8 299.8,294.9 299.3,295.5 298.8,295.3 298.3,294.7 297.8,293.9 297.3,294.4 296.8,294.1 296.3,294.2 295.8,295.0 295.3,295.1 294.8,294.6 294.3,294.6 293.8,296.1 293.3,295.8 292.8,295.7 292.3,295.3 291.8,294.9 291.3,296.4 290.8,295.3 290.3,296.7 289.8,296.3 289.3,294.7 288.8,295.8 288.3,294.8 287.8,296.3 287.3,296.3 286.8,296.8 286.3,297.3 285.8,296.4 285.3,295.2 284.8,295.2 284.3,294.9 283.8,295.3 283.3,296.2 282.8,294.8 282.3,295.0 281.8,294.8 281.3,295.8 280.8,296.4 280.3,295.8 279.8,295.2 279.3,295.2 278.8,296.4 278.3,295.9 277.8,294.9 277.3,295.1 276.8,294.8 276.3,295.8 275.8,295.4 275.3,294.6 274.8,295.2 274.3,293.9 273.8,294.0 273.3,293.8 272.8,294.8 272.3,295.2 271.8,295.1 271.3,298.4 270.8,295.2 270.3,295.1 269.8,296.7 269.3,295.4 268.8,295.5 268.3,296.5 267.8,297.0 267.3,296.4 266.8,297.1 266.3,297.1 265.8,297.4 265.3,296.1 264.8,296.4 264.3,296.3 263.8,296.5 263.3,295.7 262.8,295.5 262.3,294.6 261.8,297.7 261.3,297.6 260.8,296.2 260.3,296.7 259.8,297.3 259.3,294.8 258.8,295.1 258.3,294.8 257.8,295.9 257.3,295.9 256.8,294.9 256.3,295.2 255.8,296.3 255.3,297.9 254.8,295.5 254.3,295.8 253.8,295.6 253.3,295.2 252.8,296.2 252.3,295.7 251.8,298.1 251.3,295.4 250.8,295.5 250.3,295.7 249.8,296.8 249.3,296.9 248.8,296.3 248.3,296.0 247.8,297.2 247.3,296.7 246.8,296.2 246.3,296.9 245.8,295.9 245.3,295.9 244.8,295.8 244.3,297.5 243.8,294.6 243.3,296.3 242.8,295.1 242.3,294.9 241.8,295.9 241.3,297.1 240.8,295.4 240.3,295.4 239.8,294.8 239.3,294.5 238.8,295.1 238.3,294.9 237.8,295.6 237.3,295.6 236.8,296.1 236.3,295.4 235.8,297.2 235.3,297.1 234.8,296.1 234.3,295.6 233.8,296.3 233.3,295.4 232.8,295.1 232.3,295.0 231.8,295.9 231.3,295.7 230.8,295.2 230.3,295.4 229.8,295.5 229.3,295.7 228.8,296.5 228.3,295.3 227.8,295.1 227.3,295.8 226.8,296.2 226.3,297.2 225.8,296.4 225.3,295.7 224.8,295.4 224.3,294.2 223.8,295.3 223.3,295.7 222.8,293.9 222.3,293.9 221.8,296.4 221.3,295.3 220.8,296.5 220.3,294.9 219.8,295.1 219.3,294.7 218.8,295.2 218.3,295.1 217.8,295.9 217.3,294.9 216.8,295.1 216.3,297.4 215.8,294.9 215.3,296.4 214.8,295.5 214.3,296.1 213.8,295.1 213.3,296.9 212.8,295.7 212.3,295.1 211.8,298.1 211.3,294.8 210.8,295.9 210.3,295.6 209.8,295.2 209.3,295.2 208.8,296.7 208.3,295.2 207.8,296.7 207.3,299.1 206.8,296.9 206.3,296.5 205.8,296.3 205.3,295.4 204.8,294.6 204.3,295.3 203.8,295.5 203.3,294.6 202.8,294.3 202.3,295.5 201.8,296.3 201.3,294.4 200.8,295.8 200.3,296.0 199.8,295.9 199.3,295.4 198.8,296.3 198.3,295.2" fill="#1a1718"/>
<line x1="232.50" y1="324.10" x2="232.50" y2="331.00" stroke="#2a2a2a" stroke-width="0.75" stroke-linecap="butt"/>
<line x1="234.50" y1="324.10" x2="234.50" y2="330.00" stroke="#808080" stroke-width="0.8" stroke-linecap="butt"/>
<line x1="330.60" y1="324.10" x2="330.60" y2="341.00" stroke="#808080" stroke-width="0.8" stroke-linecap="butt"/>
<polygon points="198.3,321.4 198.8,322.0 199.3,321.9 199.8,320.4 200.3,321.2 200.8,321.0 201.3,321.8 201.8,321.6 202.3,320.4 202.8,322.0 203.3,321.5 203.8,321.6 204.3,322.2 204.8,321.2 205.3,321.0 205.8,319.8 206.3,321.4 206.8,321.8 207.3,321.3 207.8,321.7 208.3,321.7 208.8,321.5 209.3,320.9 209.8,320.3 210.3,320.3 210.8,321.0 211.3,321.3 211.8,321.6 212.3,320.9 212.8,321.0 213.3,320.0 213.8,320.0 214.3,319.1 214.8,320.6 215.3,320.3 215.8,320.9 216.3,321.4 216.8,321.2 217.3,321.6 217.8,322.2 218.3,321.3 218.8,322.7 219.3,322.1 219.8,321.1 220.3,321.2 220.8,321.4 221.3,321.4 221.8,321.1 222.3,321.1 222.8,320.2 223.3,320.9 223.8,321.4 224.3,320.6 224.8,320.6 225.3,320.5 225.8,321.6 226.3,322.1 226.8,322.1 227.3,321.2 227.8,320.9 228.3,320.2 228.8,320.5 229.3,319.8 229.8,319.9 230.3,320.7 230.8,319.9 231.3,320.3 231.8,319.8 232.3,319.4 232.8,320.6 233.3,320.4 233.8,320.7 234.3,320.8 234.8,320.0 235.3,320.3 235.8,319.6 236.3,318.4 236.8,320.6 237.3,320.6 237.8,319.5 238.3,321.1 238.8,321.0 239.3,320.7 239.8,320.3 240.3,319.9 240.8,321.5 241.3,320.9 241.8,320.7 242.3,319.7 242.8,321.0 243.3,321.0 243.8,319.8 244.3,320.8 244.8,321.2 245.3,320.6 245.8,320.6 246.3,320.8 246.8,320.8 247.3,320.7 247.8,319.7 248.3,320.5 248.8,321.6 249.3,320.3 249.8,321.1 250.3,319.8 250.8,319.8 251.3,320.8 251.8,320.4 252.3,319.8 252.8,320.6 253.3,320.4 253.8,320.7 254.3,320.7 254.8,319.4 255.3,319.4 255.8,318.7 256.3,319.4 256.8,320.5 257.3,320.3 257.8,320.7 258.3,319.7 258.8,320.6 259.3,321.1 259.8,320.4 260.3,320.3 260.8,320.9 261.3,321.1 261.8,320.5 262.3,321.6 262.8,322.2 263.3,322.3 263.8,319.9 264.3,321.3 264.8,322.3 265.3,321.7 265.8,321.4 266.3,319.6 266.8,321.4 267.3,321.8 267.8,321.2 268.3,321.1 268.8,320.8 269.3,320.0 269.8,320.4 270.3,321.0 270.8,320.8 271.3,320.8 271.8,321.5 272.3,321.4 272.8,321.9 273.3,320.1 273.8,321.0 274.3,321.3 274.8,320.2 275.3,320.0 275.8,319.9 276.3,321.9 276.8,321.8 277.3,320.3 277.8,322.0 278.3,322.0 278.8,322.1 279.3,322.4 279.8,322.0 280.3,320.8 280.8,321.6 281.3,321.8 281.8,321.7 282.3,321.3 282.8,320.9 283.3,321.0 283.8,321.2 284.3,319.8 284.8,321.1 285.3,320.5 285.8,320.4 286.3,321.2 286.8,320.5 287.3,320.8 287.8,321.3 288.3,320.3 288.8,320.8 289.3,321.3 289.8,321.2 290.3,320.3 290.8,320.6 291.3,320.2 291.8,320.2 292.3,321.6 292.8,321.7 293.3,322.1 293.8,322.2 294.3,321.8 294.8,321.0 295.3,320.7 295.8,321.0 296.3,320.9 296.8,321.0 297.3,321.4 297.8,319.8 298.3,321.1 298.8,320.7 299.3,321.1 299.8,322.0 300.3,321.7 300.8,321.3 301.3,321.6 301.8,320.7 302.3,321.2 302.8,321.9 303.3,320.4 303.8,321.9 304.3,320.4 304.8,321.8 305.3,321.3 305.8,321.4 306.3,321.4 306.8,321.0 307.3,321.0 307.8,320.7 308.3,321.2 308.8,321.7 309.3,321.3 309.8,321.7 310.3,320.2 310.8,321.1 311.3,322.3 311.8,321.1 312.3,322.0 312.8,321.2 313.3,322.0 313.8,320.1 314.3,320.7 314.8,321.4 315.3,319.7 315.8,320.6 316.3,320.3 316.8,319.6 317.3,320.4 317.8,320.0 318.3,320.8 318.8,320.9 319.3,321.4 319.8,321.8 320.3,322.0 320.8,320.2 321.3,321.8 321.8,321.9 322.3,321.9 322.8,321.7 323.3,321.2 323.8,320.3 324.3,321.0 324.8,320.8 325.3,321.1 325.8,320.8 326.3,320.2 326.8,322.1 327.3,322.3 327.8,320.8 328.3,322.4 328.8,321.5 329.3,322.3 329.8,321.2 330.3,321.8 330.8,321.1 331.3,320.7 331.8,321.5 332.3,320.1 332.8,320.6 333.3,320.7 333.8,320.7 334.3,320.9 334.8,322.1 335.3,321.1 335.8,321.9 336.3,322.2 336.8,321.8 337.3,321.6 337.8,321.6 338.3,321.5 338.8,320.5 338.8,327.7 338.3,327.3 337.8,327.9 337.3,327.5 336.8,327.2 336.3,327.4 335.8,328.0 335.3,328.4 334.8,327.4 334.3,327.0 333.8,328.5 333.3,326.5 332.8,327.1 332.3,327.5 331.8,328.4 331.3,328.7 330.8,328.1 330.3,328.9 329.8,328.1 329.3,327.7 328.8,328.3 328.3,327.4 327.8,329.9 327.3,328.1 326.8,327.5 326.3,326.5 325.8,326.9 325.3,327.5 324.8,328.4 324.3,327.0 323.8,326.7 323.3,326.8 322.8,328.3 322.3,328.1 321.8,327.1 321.3,328.2 320.8,327.8 320.3,326.9 319.8,327.0 319.3,327.3 318.8,328.0 318.3,326.7 317.8,326.9 317.3,328.0 316.8,327.2 316.3,327.5 315.8,328.6 315.3,331.6 314.8,329.4 314.3,329.8 313.8,328.5 313.3,328.3 312.8,329.6 312.3,328.0 311.8,327.8 311.3,329.3 310.8,329.1 310.3,327.9 309.8,327.8 309.3,328.3 308.8,328.8 308.3,329.0 307.8,330.4 307.3,327.7 306.8,328.4 306.3,327.5 305.8,327.4 305.3,328.0 304.8,328.6 304.3,329.2 303.8,327.4 303.3,327.6 302.8,326.6 302.3,327.2 301.8,327.3 301.3,327.8 300.8,328.4 300.3,328.3 299.8,327.2 299.3,329.4 298.8,329.1 298.3,329.8 297.8,329.5 297.3,327.7 296.8,328.5 296.3,327.6 295.8,328.0 295.3,327.3 294.8,327.7 294.3,327.5 293.8,327.0 293.3,327.0 292.8,328.8 292.3,327.0 291.8,328.0 291.3,327.4 290.8,328.3 290.3,327.9 289.8,330.1 289.3,329.0 288.8,327.8 288.3,327.7 287.8,327.4 287.3,327.7 286.8,329.4 286.3,328.2 285.8,327.7 285.3,328.2 284.8,327.2 284.3,328.6 283.8,329.1 283.3,328.4 282.8,327.7 282.3,327.2 281.8,328.4 281.3,329.3 280.8,328.4 280.3,326.8 279.8,329.8 279.3,327.5 278.8,328.0 278.3,327.5 277.8,326.4 277.3,327.0 276.8,326.4 276.3,326.3 275.8,326.4 275.3,328.4 274.8,326.2 274.3,326.4 273.8,327.4 273.3,329.8 272.8,328.3 272.3,329.1 271.8,329.3 271.3,327.4 270.8,326.7 270.3,327.8 269.8,327.9 269.3,328.7 268.8,327.4 268.3,328.1 267.8,327.3 267.3,328.0 266.8,327.6 266.3,328.3 265.8,327.3 265.3,327.6 264.8,328.4 264.3,329.8 263.8,328.5 263.3,328.6 262.8,326.6 262.3,327.1 261.8,326.5 261.3,326.5 260.8,328.0 260.3,327.4 259.8,328.7 259.3,328.4 258.8,328.7 258.3,328.6 257.8,328.3 257.3,330.0 256.8,329.0 256.3,327.9 255.8,328.3 255.3,329.4 254.8,326.8 254.3,327.3 253.8,326.5 253.3,327.6 252.8,327.0 252.3,329.0 251.8,327.7 251.3,327.8 250.8,327.2 250.3,328.8 249.8,328.0 249.3,327.5 248.8,327.4 248.3,327.1 247.8,326.9 247.3,327.5 246.8,327.3 246.3,327.0 245.8,327.9 245.3,327.8 244.8,328.4 244.3,331.2 243.8,327.7 243.3,327.7 242.8,327.3 242.3,327.5 241.8,328.3 241.3,327.6 240.8,327.3 240.3,327.4 239.8,328.7 239.3,328.3 238.8,326.7 238.3,327.7 237.8,326.7 237.3,327.8 236.8,326.2 236.3,327.2 235.8,326.7 235.3,326.8 234.8,327.2 234.3,327.7 233.8,327.7 233.3,327.0 232.8,328.7 232.3,328.8 231.8,328.7 231.3,327.4 230.8,327.6 230.3,330.0 229.8,328.7 229.3,327.6 228.8,328.0 228.3,327.0 227.8,326.9 227.3,326.7 226.8,327.2 226.3,328.3 225.8,326.7 225.3,327.2 224.8,327.4 224.3,327.7 223.8,328.9 223.3,327.7 222.8,328.0 222.3,328.2 221.8,329.2 221.3,328.1 220.8,328.2 220.3,328.6 219.8,328.5 219.3,327.7 218.8,327.2 218.3,326.7 217.8,328.1 217.3,328.1 216.8,328.8 216.3,327.5 215.8,327.3 215.3,327.9 214.8,328.0 214.3,327.5 213.8,326.9 213.3,327.9 212.8,328.6 212.3,328.0 211.8,327.1 211.3,326.9 210.8,327.1 210.3,326.6 209.8,328.1 209.3,327.4 208.8,327.8 208.3,327.9 207.8,326.9 207.3,327.3 206.8,330.0 206.3,327.3 205.8,330.2 205.3,328.5 204.8,327.7 204.3,327.6 203.8,329.3 203.3,328.0 202.8,328.0 202.3,328.7 201.8,327.5 201.3,327.9 200.8,327.3 200.3,329.7 199.8,326.9 199.3,327.2 198.8,327.3 198.3,329.9" fill="#1a1718"/>
<line x1="339.30" y1="338.00" x2="339.30" y2="353.00" stroke="#151213" stroke-width="1.25" stroke-linecap="butt"/>
<line x1="320.80" y1="352.40" x2="339.90" y2="352.40" stroke="#151213" stroke-width="1.25" stroke-linecap="butt"/>
<text x="342.25" y="349.80" font-size="12" textLength="33.79" lengthAdjust="spacingAndGlyphs" fill="#151213">20 pA</text>
<text x="323.16" y="365.60" font-size="12" textLength="16.77" lengthAdjust="spacingAndGlyphs" fill="#151213">1 s</text>
<line x1="403.70" y1="182.10" x2="403.70" y2="325.60" stroke="#151213" stroke-width="1.0" stroke-linecap="butt"/>
<line x1="400.50" y1="325.10" x2="458.20" y2="325.10" stroke="#151213" stroke-width="1.0" stroke-linecap="butt"/>
<line x1="401.10" y1="191.00" x2="403.70" y2="191.00" stroke="#151213" stroke-width="0.9" stroke-linecap="butt"/>
<text x="384.30" y="195.30" font-size="12" textLength="13.62" lengthAdjust="spacingAndGlyphs" fill="#151213">15</text>
<line x1="401.10" y1="235.70" x2="403.70" y2="235.70" stroke="#151213" stroke-width="0.9" stroke-linecap="butt"/>
<text x="384.24" y="240.00" font-size="12" textLength="13.62" lengthAdjust="spacingAndGlyphs" fill="#151213">10</text>
<line x1="401.10" y1="280.40" x2="403.70" y2="280.40" stroke="#151213" stroke-width="0.9" stroke-linecap="butt"/>
<text x="391.10" y="284.70" font-size="12" textLength="6.81" lengthAdjust="spacingAndGlyphs" fill="#151213">5</text>
<text x="391.04" y="329.40" font-size="12" textLength="6.81" lengthAdjust="spacingAndGlyphs" fill="#151213">0</text>
<text transform="translate(380.30,318.80) rotate(-90)" x="-0.84" y="0" font-size="12" textLength="133.04" lengthAdjust="spacingAndGlyphs" fill="#151213">mEPSC amplitude (pA)</text>
<rect x="412.50" y="233.10" width="13.10" height="92.00" fill="#fff" stroke="#151213" stroke-width="0.9"/>
<line x1="419.00" y1="230.80" x2="419.00" y2="233.10" stroke="#151213" stroke-width="1.2" stroke-linecap="butt"/>
<line x1="414.00" y1="230.90" x2="425.00" y2="230.90" stroke="#151213" stroke-width="1.3" stroke-linecap="butt"/>
<rect x="434.30" y="236.10" width="13.10" height="89.00" fill="#151213" stroke="#151213" stroke-width="0.5"/>
<line x1="441.00" y1="232.40" x2="441.00" y2="236.20" stroke="#151213" stroke-width="1.2" stroke-linecap="butt"/>
<line x1="435.70" y1="232.50" x2="446.40" y2="232.50" stroke="#151213" stroke-width="1.3" stroke-linecap="butt"/>
<circle cx="421.60" cy="190.10" r="1.75" fill="#151213"/>
<circle cx="421.60" cy="192.50" r="1.75" fill="#151213"/>
<circle cx="421.60" cy="194.80" r="1.75" fill="#151213"/>
<circle cx="421.60" cy="197.50" r="1.75" fill="#151213"/>
<circle cx="421.60" cy="206.50" r="1.75" fill="#151213"/>
<circle cx="421.60" cy="213.70" r="1.75" fill="#151213"/>
<circle cx="421.60" cy="219.40" r="1.75" fill="#151213"/>
<circle cx="421.60" cy="221.50" r="1.75" fill="#151213"/>
<circle cx="421.60" cy="223.60" r="1.75" fill="#151213"/>
<circle cx="421.60" cy="225.40" r="1.75" fill="#151213"/>
<circle cx="421.60" cy="227.00" r="1.75" fill="#151213"/>
<circle cx="421.60" cy="228.80" r="1.75" fill="#151213"/>
<circle cx="421.60" cy="230.30" r="1.75" fill="#151213"/>
<circle cx="421.60" cy="232.00" r="1.75" fill="#151213"/>
<circle cx="421.60" cy="233.50" r="1.75" fill="#151213"/>
<circle cx="421.60" cy="235.00" r="1.75" fill="#151213"/>
<circle cx="421.60" cy="236.60" r="1.75" fill="#151213"/>
<circle cx="421.60" cy="238.20" r="1.75" fill="#151213"/>
<circle cx="421.60" cy="239.60" r="1.75" fill="#151213"/>
<circle cx="421.60" cy="241.00" r="1.75" fill="#151213"/>
<circle cx="421.60" cy="242.60" r="1.75" fill="#151213"/>
<circle cx="421.60" cy="244.20" r="1.75" fill="#151213"/>
<circle cx="421.60" cy="245.60" r="1.75" fill="#151213"/>
<circle cx="421.60" cy="247.20" r="1.75" fill="#151213"/>
<circle cx="421.60" cy="248.80" r="1.75" fill="#151213"/>
<circle cx="421.60" cy="250.20" r="1.75" fill="#151213"/>
<circle cx="421.60" cy="252.50" r="1.75" fill="#151213"/>
<circle cx="443.10" cy="186.10" r="1.5" fill="#fff" stroke="#151213" stroke-width="0.8"/>
<circle cx="443.10" cy="218.30" r="1.5" fill="#fff" stroke="#151213" stroke-width="0.8"/>
<circle cx="443.10" cy="220.60" r="1.5" fill="#fff" stroke="#151213" stroke-width="0.8"/>
<circle cx="443.10" cy="222.80" r="1.5" fill="#fff" stroke="#151213" stroke-width="0.8"/>
<circle cx="443.10" cy="225.00" r="1.5" fill="#fff" stroke="#151213" stroke-width="0.8"/>
<circle cx="443.10" cy="226.80" r="1.5" fill="#fff" stroke="#151213" stroke-width="0.8"/>
<circle cx="443.10" cy="237.50" r="1.3" fill="#fff"/>
<circle cx="443.10" cy="240.50" r="1.3" fill="#fff"/>
<circle cx="443.10" cy="243.50" r="1.3" fill="#fff"/>
<circle cx="443.10" cy="246.50" r="1.3" fill="#fff"/>
<circle cx="443.10" cy="249.50" r="1.3" fill="#fff"/>
<circle cx="443.10" cy="252.30" r="1.3" fill="#fff"/>
<circle cx="443.10" cy="255.60" r="1.3" fill="#fff"/>
<circle cx="443.10" cy="261.80" r="1.3" fill="#fff"/>
<text x="406.73" y="338.90" font-size="14" textLength="21.54" lengthAdjust="spacingAndGlyphs" fill="#151213">WT</text>
<text x="430.78" y="338.90" font-size="14" textLength="22.08" lengthAdjust="spacingAndGlyphs" fill="#151213">KO</text>
<line x1="503.70" y1="182.30" x2="503.70" y2="326.10" stroke="#151213" stroke-width="1.0" stroke-linecap="butt"/>
<line x1="500.90" y1="325.60" x2="549.80" y2="325.60" stroke="#151213" stroke-width="1.0" stroke-linecap="butt"/>
<line x1="500.90" y1="199.15" x2="503.70" y2="199.15" stroke="#151213" stroke-width="0.9" stroke-linecap="butt"/>
<text x="479.98" y="203.45" font-size="12" textLength="17.02" lengthAdjust="spacingAndGlyphs" fill="#151213">1.5</text>
<line x1="500.90" y1="241.30" x2="503.70" y2="241.30" stroke="#151213" stroke-width="0.9" stroke-linecap="butt"/>
<text x="479.91" y="245.60" font-size="12" textLength="17.02" lengthAdjust="spacingAndGlyphs" fill="#151213">1.0</text>
<line x1="500.90" y1="283.45" x2="503.70" y2="283.45" stroke="#151213" stroke-width="0.9" stroke-linecap="butt"/>
<text x="479.98" y="287.75" font-size="12" textLength="17.02" lengthAdjust="spacingAndGlyphs" fill="#151213">0.5</text>
<text x="479.91" y="329.90" font-size="12" textLength="17.02" lengthAdjust="spacingAndGlyphs" fill="#151213">0.0</text>
<text transform="translate(475.20,304.70) rotate(-90)" x="-0.83" y="0" font-size="12" textLength="104.54" lengthAdjust="spacingAndGlyphs" fill="#151213">mEPSC frequency</text>
<path d="M515.8,220.5 L515.8,194.6 L535.5,194.6" fill="none" stroke="#555" stroke-width="0.8" stroke-linejoin="round" stroke-linecap="round"/>
<line x1="535.50" y1="194.30" x2="535.50" y2="251.60" stroke="#a8a8a8" stroke-width="1.1" stroke-linecap="butt"/>
<rect x="510.30" y="260.70" width="11.40" height="64.90" fill="#fff" stroke="#666" stroke-width="0.8"/>
<line x1="516.00" y1="255.40" x2="516.00" y2="260.70" stroke="#151213" stroke-width="1.2" stroke-linecap="butt"/>
<line x1="510.70" y1="255.40" x2="521.70" y2="255.40" stroke="#151213" stroke-width="1.3" stroke-linecap="butt"/>
<rect x="529.50" y="290.20" width="11.30" height="35.40" fill="#151213" stroke="#151213" stroke-width="0.5"/>
<line x1="535.20" y1="287.50" x2="535.20" y2="290.30" stroke="#151213" stroke-width="1.2" stroke-linecap="butt"/>
<line x1="529.40" y1="287.50" x2="540.80" y2="287.50" stroke="#151213" stroke-width="1.3" stroke-linecap="butt"/>
<circle cx="519.00" cy="202.80" r="1.8" fill="#151213"/>
<circle cx="519.00" cy="218.20" r="1.8" fill="#151213"/>
<circle cx="519.00" cy="221.40" r="1.8" fill="#151213"/>
<circle cx="519.00" cy="226.40" r="1.8" fill="#151213"/>
<circle cx="519.00" cy="232.50" r="1.8" fill="#151213"/>
<circle cx="519.00" cy="242.20" r="1.8" fill="#151213"/>
<circle cx="519.00" cy="244.90" r="1.8" fill="#151213"/>
<circle cx="519.00" cy="252.80" r="1.8" fill="#151213"/>
<circle cx="519.00" cy="256.00" r="1.8" fill="#151213"/>
<circle cx="519.00" cy="261.00" r="1.8" fill="#151213"/>
<circle cx="519.00" cy="266.80" r="1.8" fill="#151213"/>
<circle cx="519.00" cy="270.10" r="1.8" fill="#151213"/>
<circle cx="519.00" cy="273.50" r="1.8" fill="#151213"/>
<circle cx="519.00" cy="276.50" r="1.8" fill="#151213"/>
<circle cx="519.00" cy="281.50" r="1.8" fill="#151213"/>
<circle cx="519.00" cy="284.90" r="1.8" fill="#151213"/>
<circle cx="519.00" cy="288.20" r="1.8" fill="#151213"/>
<circle cx="519.00" cy="291.60" r="1.8" fill="#151213"/>
<circle cx="519.00" cy="295.40" r="1.8" fill="#151213"/>
<circle cx="519.00" cy="298.70" r="1.8" fill="#151213"/>
<circle cx="519.00" cy="302.50" r="1.8" fill="#151213"/>
<circle cx="519.00" cy="306.80" r="1.8" fill="#151213"/>
<circle cx="519.00" cy="310.80" r="1.8" fill="#151213"/>
<circle cx="519.00" cy="314.10" r="1.8" fill="#151213"/>
<circle cx="537.10" cy="243.50" r="1.6" fill="#fff" stroke="#151213" stroke-width="0.8"/>
<circle cx="537.10" cy="269.20" r="1.6" fill="#fff" stroke="#151213" stroke-width="0.8"/>
<circle cx="537.10" cy="278.80" r="1.6" fill="#fff" stroke="#151213" stroke-width="0.8"/>
<circle cx="537.10" cy="281.60" r="1.6" fill="#fff" stroke="#151213" stroke-width="0.8"/>
<circle cx="537.10" cy="285.10" r="1.6" fill="#fff" stroke="#151213" stroke-width="0.8"/>
<circle cx="537.10" cy="292.00" r="1.6" fill="#fff"/>
<circle cx="537.10" cy="296.00" r="1.6" fill="#fff"/>
<circle cx="537.10" cy="299.40" r="1.6" fill="#fff"/>
<circle cx="537.10" cy="302.70" r="1.6" fill="#fff"/>
<circle cx="537.10" cy="306.80" r="1.6" fill="#fff"/>
<circle cx="537.10" cy="310.10" r="1.6" fill="#fff"/>
<circle cx="537.10" cy="317.70" r="1.6" fill="#fff"/>
<text x="504.13" y="338.90" font-size="14" textLength="22.56" lengthAdjust="spacingAndGlyphs" fill="#151213">WT</text>
<text x="526.58" y="338.90" font-size="14" textLength="21.97" lengthAdjust="spacingAndGlyphs" fill="#151213">KO</text>
<text x="514.29" y="197.70" font-size="17.5" font-weight="bold" textLength="6.81" lengthAdjust="spacingAndGlyphs" fill="#151213">*</text>
<text x="522.79" y="197.70" font-size="17.5" font-weight="bold" textLength="6.81" lengthAdjust="spacingAndGlyphs" fill="#151213">*</text>
<text x="531.29" y="197.70" font-size="17.5" font-weight="bold" textLength="6.81" lengthAdjust="spacingAndGlyphs" fill="#151213">*</text>
</g>
<g id="panel-d">
<text x="568.20" y="182.60" font-size="19.2" font-weight="bold" textLength="13.67" lengthAdjust="spacingAndGlyphs" fill="#151213">d</text>
<line x1="607.50" y1="188.20" x2="607.50" y2="240.80" stroke="#151213" stroke-width="1.0" stroke-linecap="butt"/>
<line x1="605.10" y1="240.30" x2="737.90" y2="240.30" stroke="#151213" stroke-width="1.0" stroke-linecap="butt"/>
<line x1="604.50" y1="196.80" x2="607.50" y2="196.80" stroke="#151213" stroke-width="0.9" stroke-linecap="butt"/>
<text x="584.71" y="201.00" font-size="12" textLength="17.02" lengthAdjust="spacingAndGlyphs" fill="#151213">2.0</text>
<line x1="604.50" y1="218.55" x2="607.50" y2="218.55" stroke="#151213" stroke-width="0.9" stroke-linecap="butt"/>
<text x="584.78" y="222.75" font-size="12" textLength="17.02" lengthAdjust="spacingAndGlyphs" fill="#151213">1.5</text>
<text x="584.71" y="244.50" font-size="12" textLength="17.02" lengthAdjust="spacingAndGlyphs" fill="#151213">1.0</text>
<text transform="translate(579.60,226.10) rotate(-90)" x="-1.02" y="0" font-size="12" textLength="26.10" lengthAdjust="spacingAndGlyphs" fill="#151213">PPR</text>
<line x1="610.90" y1="240.30" x2="610.90" y2="243.10" stroke="#151213" stroke-width="0.9" stroke-linecap="butt"/>
<line x1="649.00" y1="240.30" x2="649.00" y2="243.10" stroke="#151213" stroke-width="0.9" stroke-linecap="butt"/>
<line x1="686.90" y1="240.30" x2="686.90" y2="243.10" stroke="#151213" stroke-width="0.9" stroke-linecap="butt"/>
<line x1="737.10" y1="240.30" x2="737.10" y2="243.10" stroke="#151213" stroke-width="0.9" stroke-linecap="butt"/>
<text x="607.74" y="257.60" font-size="12" textLength="6.87" lengthAdjust="spacingAndGlyphs" fill="#151213">0</text>
<text x="638.52" y="257.60" font-size="12" textLength="20.62" lengthAdjust="spacingAndGlyphs" fill="#151213">200</text>
<text x="676.70" y="257.60" font-size="12" textLength="20.62" lengthAdjust="spacingAndGlyphs" fill="#151213">400</text>
<text x="723.50" y="257.60" font-size="12" textLength="26.70" lengthAdjust="spacingAndGlyphs" fill="#151213">1000</text>
<text x="620.76" y="271.40" font-size="12" textLength="103.09" lengthAdjust="spacingAndGlyphs" fill="#151213">interstim. int. (ms)</text>
<rect x="724.2" y="238.6" width="5.4" height="3.4" fill="#fff"/>
<line x1="720.60" y1="243.80" x2="727.60" y2="236.20" stroke="#333" stroke-width="0.8" stroke-linecap="butt"/>
<line x1="726.60" y1="243.80" x2="734.60" y2="236.20" stroke="#333" stroke-width="0.8" stroke-linecap="butt"/>
<path d="M612.8,210.8 L614.9,198.8 L620.6,196.0 L630.0,205.5 L649.0,217.4 L705.6,231.6" fill="none" stroke="#444" stroke-width="0.55" stroke-linejoin="round" stroke-linecap="round"/>
<path d="M612.8,214.9 L614.9,201.8 L620.6,195.0 L630.0,201.8 L649.0,217.0 L705.6,231.0" fill="none" stroke="#444" stroke-width="0.55" stroke-linejoin="round" stroke-linecap="round"/>
<line x1="705.60" y1="231.20" x2="723.60" y2="231.20" stroke="#c8c8c8" stroke-width="2.3" stroke-linecap="butt"/>
<line x1="730.40" y1="231.30" x2="736.50" y2="231.30" stroke="#c4c4c4" stroke-width="1.2" stroke-linecap="butt"/>
<line x1="612.80" y1="210.40" x2="612.80" y2="219.50" stroke="#777" stroke-width="0.6" stroke-linecap="butt"/>
<line x1="611.40" y1="210.40" x2="614.20" y2="210.40" stroke="#777" stroke-width="0.6" stroke-linecap="butt"/>
<line x1="611.40" y1="219.50" x2="614.20" y2="219.50" stroke="#777" stroke-width="0.6" stroke-linecap="butt"/>
<line x1="620.60" y1="190.00" x2="620.60" y2="199.60" stroke="#777" stroke-width="0.6" stroke-linecap="butt"/>
<line x1="619.20" y1="190.00" x2="622.00" y2="190.00" stroke="#777" stroke-width="0.6" stroke-linecap="butt"/>
<line x1="619.20" y1="199.60" x2="622.00" y2="199.60" stroke="#777" stroke-width="0.6" stroke-linecap="butt"/>
<line x1="630.00" y1="198.00" x2="630.00" y2="205.50" stroke="#777" stroke-width="0.6" stroke-linecap="butt"/>
<line x1="628.60" y1="198.00" x2="631.40" y2="198.00" stroke="#777" stroke-width="0.6" stroke-linecap="butt"/>
<line x1="628.60" y1="205.50" x2="631.40" y2="205.50" stroke="#777" stroke-width="0.6" stroke-linecap="butt"/>
<circle cx="612.80" cy="210.80" r="2.2" fill="#151213"/>
<circle cx="614.90" cy="198.80" r="2.2" fill="#151213"/>
<circle cx="620.60" cy="196.00" r="2.2" fill="#151213"/>
<circle cx="630.00" cy="205.50" r="2.2" fill="#151213"/>
<circle cx="649.00" cy="217.40" r="2.2" fill="#151213"/>
<circle cx="705.60" cy="231.60" r="2.2" fill="#151213"/>
<circle cx="736.60" cy="232.60" r="2.2" fill="#151213"/>
<circle cx="612.80" cy="214.90" r="2.35" fill="#fff" stroke="#6e6e6e" stroke-width="0.75"/>
<circle cx="614.90" cy="201.80" r="2.35" fill="#fff" stroke="#6e6e6e" stroke-width="0.75"/>
<circle cx="620.60" cy="195.00" r="2.35" fill="#fff" stroke="#6e6e6e" stroke-width="0.75"/>
<circle cx="630.00" cy="201.80" r="2.35" fill="#fff" stroke="#6e6e6e" stroke-width="0.75"/>
<circle cx="649.00" cy="217.00" r="2.35" fill="#fff" stroke="#6e6e6e" stroke-width="0.75"/>
<circle cx="705.60" cy="231.00" r="2.35" fill="#fff" stroke="#6e6e6e" stroke-width="0.75"/>
<circle cx="736.50" cy="231.00" r="2.35" fill="#fff" stroke="#6e6e6e" stroke-width="0.75"/>
<line x1="675.10" y1="195.70" x2="699.90" y2="195.70" stroke="#999" stroke-width="0.7" stroke-linecap="butt"/>
<line x1="675.10" y1="208.40" x2="699.90" y2="208.40" stroke="#999" stroke-width="0.7" stroke-linecap="butt"/>
<circle cx="687.50" cy="195.70" r="2.3" fill="#151213"/>
<circle cx="687.50" cy="208.40" r="2.3" fill="#fff" stroke="#6e6e6e" stroke-width="0.75"/>
<text x="706.09" y="199.40" font-size="10.5" textLength="16.48" lengthAdjust="spacingAndGlyphs" fill="#151213">KO</text>
<text x="706.95" y="211.80" font-size="10.5" textLength="16.77" lengthAdjust="spacingAndGlyphs" fill="#151213">WT</text>
<line x1="608.30" y1="289.10" x2="608.30" y2="341.60" stroke="#151213" stroke-width="1.0" stroke-linecap="butt"/>
<line x1="607.80" y1="341.10" x2="739.10" y2="341.10" stroke="#151213" stroke-width="1.0" stroke-linecap="butt"/>
<line x1="605.50" y1="307.30" x2="608.30" y2="307.30" stroke="#151213" stroke-width="0.9" stroke-linecap="butt"/>
<line x1="605.50" y1="331.90" x2="608.30" y2="331.90" stroke="#151213" stroke-width="0.9" stroke-linecap="butt"/>
<text x="581.45" y="311.50" font-size="12" textLength="20.42" lengthAdjust="spacingAndGlyphs" fill="#151213">120</text>
<text x="581.05" y="336.10" font-size="12" textLength="20.42" lengthAdjust="spacingAndGlyphs" fill="#151213">100</text>
<text transform="translate(577.30,342.80) rotate(-90)" x="-1.03" y="0" font-size="12" textLength="57.95" lengthAdjust="spacingAndGlyphs" fill="#151213">EPSP (%)</text>
<line x1="619.70" y1="341.10" x2="619.70" y2="344.10" stroke="#151213" stroke-width="0.9" stroke-linecap="butt"/>
<line x1="673.50" y1="341.10" x2="673.50" y2="344.10" stroke="#151213" stroke-width="0.9" stroke-linecap="butt"/>
<line x1="727.30" y1="341.10" x2="727.30" y2="344.10" stroke="#151213" stroke-width="0.9" stroke-linecap="butt"/>
<text x="609.73" y="358.20" font-size="12" textLength="18.42" lengthAdjust="spacingAndGlyphs" fill="#151213">-10</text>
<text x="670.04" y="358.20" font-size="12" textLength="6.87" lengthAdjust="spacingAndGlyphs" fill="#151213">0</text>
<text x="721.48" y="358.20" font-size="12" textLength="13.68" lengthAdjust="spacingAndGlyphs" fill="#151213">10</text>
<text x="643.94" y="369.80" font-size="12" textLength="61.20" lengthAdjust="spacingAndGlyphs" fill="#151213">Time (min)</text>
<line x1="609" y1="331.9" x2="737.5" y2="331.9" stroke="#707070" stroke-width="0.8" stroke-dasharray="5 3"/>
<line x1="677.50" y1="290.00" x2="677.50" y2="304.80" stroke="#777" stroke-width="0.6" stroke-linecap="butt"/>
<line x1="676.30" y1="290.00" x2="678.70" y2="290.00" stroke="#777" stroke-width="0.6" stroke-linecap="butt"/>
<line x1="676.30" y1="304.80" x2="678.70" y2="304.80" stroke="#777" stroke-width="0.6" stroke-linecap="butt"/>
<circle cx="618.30" cy="332.30" r="2.2" fill="#151213"/>
<circle cx="624.10" cy="333.60" r="2.2" fill="#151213"/>
<circle cx="629.30" cy="332.00" r="2.2" fill="#151213"/>
<circle cx="634.60" cy="332.20" r="2.2" fill="#151213"/>
<circle cx="640.20" cy="332.60" r="2.2" fill="#151213"/>
<circle cx="645.50" cy="332.30" r="2.2" fill="#151213"/>
<circle cx="651.20" cy="332.00" r="2.2" fill="#151213"/>
<circle cx="656.60" cy="331.80" r="2.2" fill="#151213"/>
<circle cx="662.10" cy="332.20" r="2.2" fill="#151213"/>
<circle cx="667.40" cy="331.00" r="2.2" fill="#151213"/>
<circle cx="677.50" cy="294.10" r="2.2" fill="#151213"/>
<circle cx="682.60" cy="319.10" r="2.2" fill="#151213"/>
<circle cx="688.20" cy="327.20" r="2.2" fill="#151213"/>
<circle cx="693.60" cy="330.80" r="2.2" fill="#151213"/>
<circle cx="698.90" cy="333.00" r="2.2" fill="#151213"/>
<circle cx="704.30" cy="332.70" r="2.2" fill="#151213"/>
<circle cx="709.70" cy="332.00" r="2.2" fill="#151213"/>
<circle cx="715.30" cy="334.00" r="2.2" fill="#151213"/>
<circle cx="720.40" cy="333.00" r="2.2" fill="#151213"/>
<circle cx="726.10" cy="333.00" r="2.2" fill="#151213"/>
<circle cx="731.50" cy="329.00" r="2.2" fill="#151213"/>
<circle cx="618.30" cy="332.70" r="2.15" fill="#fff" stroke="#6a6a6a" stroke-width="0.7"/>
<circle cx="624.10" cy="330.20" r="2.15" fill="#fff" stroke="#6a6a6a" stroke-width="0.7"/>
<circle cx="629.30" cy="332.00" r="2.15" fill="#fff" stroke="#6a6a6a" stroke-width="0.7"/>
<circle cx="634.60" cy="330.20" r="2.15" fill="#fff" stroke="#6a6a6a" stroke-width="0.7"/>
<circle cx="640.20" cy="333.20" r="2.15" fill="#fff" stroke="#6a6a6a" stroke-width="0.7"/>
<circle cx="645.50" cy="330.20" r="2.15" fill="#fff" stroke="#6a6a6a" stroke-width="0.7"/>
<circle cx="651.20" cy="332.00" r="2.15" fill="#fff" stroke="#6a6a6a" stroke-width="0.7"/>
<circle cx="656.60" cy="331.60" r="2.15" fill="#fff" stroke="#6a6a6a" stroke-width="0.7"/>
<circle cx="662.10" cy="333.50" r="2.15" fill="#fff" stroke="#6a6a6a" stroke-width="0.7"/>
<circle cx="667.40" cy="329.60" r="2.15" fill="#fff" stroke="#6a6a6a" stroke-width="0.7"/>
<circle cx="677.50" cy="297.80" r="2.15" fill="#fff" stroke="#6a6a6a" stroke-width="0.7"/>
<circle cx="682.60" cy="312.80" r="2.15" fill="#fff" stroke="#6a6a6a" stroke-width="0.7"/>
<circle cx="688.20" cy="324.00" r="2.15" fill="#fff" stroke="#6a6a6a" stroke-width="0.7"/>
<circle cx="693.60" cy="326.40" r="2.15" fill="#fff" stroke="#6a6a6a" stroke-width="0.7"/>
<circle cx="698.90" cy="330.00" r="2.15" fill="#fff" stroke="#6a6a6a" stroke-width="0.7"/>
<circle cx="704.30" cy="329.50" r="2.15" fill="#fff" stroke="#6a6a6a" stroke-width="0.7"/>
<circle cx="709.70" cy="325.60" r="2.15" fill="#fff" stroke="#6a6a6a" stroke-width="0.7"/>
<circle cx="715.30" cy="330.00" r="2.15" fill="#fff" stroke="#6a6a6a" stroke-width="0.7"/>
<circle cx="720.40" cy="330.00" r="2.15" fill="#fff" stroke="#6a6a6a" stroke-width="0.7"/>
<circle cx="726.10" cy="327.40" r="2.15" fill="#fff" stroke="#6a6a6a" stroke-width="0.7"/>
<circle cx="731.50" cy="332.70" r="2.15" fill="#fff" stroke="#6a6a6a" stroke-width="0.7"/>
<line x1="673.50" y1="311.50" x2="673.50" y2="325.40" stroke="#333" stroke-width="0.7" stroke-linecap="butt"/>
<path d="M671.8,319.6 L673.5,325.6 L675.2,319.6" fill="none" stroke="#333" stroke-width="0.7" stroke-linejoin="round" stroke-linecap="round"/>
<circle cx="700.30" cy="297.40" r="2.4" fill="#151213"/>
<circle cx="700.30" cy="310.20" r="2.2" fill="#fff" stroke="#6a6a6a" stroke-width="0.7"/>
<text x="718.79" y="301.40" font-size="10.5" textLength="16.48" lengthAdjust="spacingAndGlyphs" fill="#151213">KO</text>
<text x="719.65" y="313.50" font-size="10.5" textLength="16.36" lengthAdjust="spacingAndGlyphs" fill="#151213">WT</text>
</g>
</svg>
</body>
</html>
